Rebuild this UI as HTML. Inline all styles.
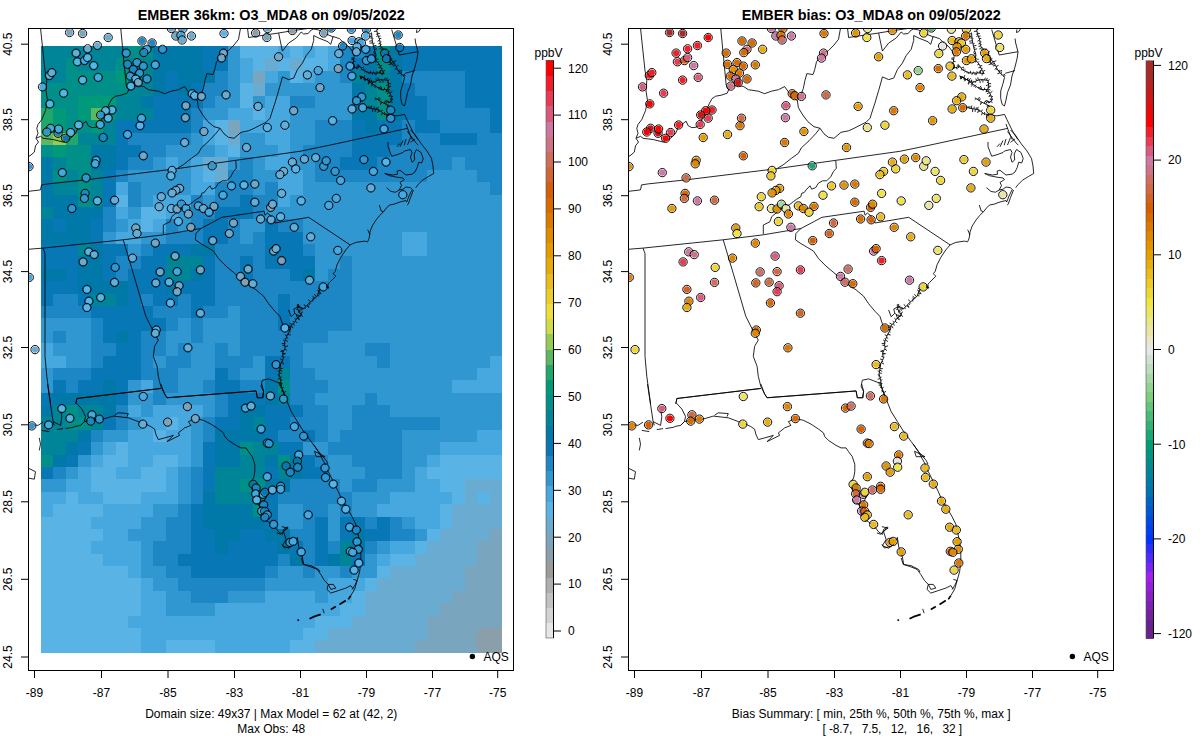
<!DOCTYPE html>
<html><head><meta charset="utf-8"><title>EMBER</title>
<style>
html,body{margin:0;padding:0;background:#fff;}
svg{display:block}
text{font-family:"Liberation Sans",sans-serif;font-size:12px;fill:#000}
.t{font-size:14.4px;font-weight:bold}
.m .k{stroke-width:1.7}
.m path,.m polyline{fill:none;stroke:#000;stroke-width:0.85;stroke-linejoin:round}
circle.r{fill:none;stroke:#000;stroke-width:0.95}
</style></head><body>
<svg width="1200" height="750" viewBox="0 0 1200 750">
<rect width="1200" height="750" fill="#fff"/>
<defs>
<clipPath id="c0"><rect x="28.5" y="28.5" width="485" height="642"/></clipPath>
<clipPath id="c1"><rect x="628.5" y="28.5" width="485" height="642"/></clipPath>
<g id="map" class="m">
<polyline points="40.5,28.0 45.0,70.6 46.8,80.6 46.0,90.7 47.5,100.7 45.5,110.7 41.8,119.5 38.0,124.5 36.8,128.3 38.0,133.3 36.0,138.3 38.5,142.0 35.5,145.8 34.3,152.1 30.0,155.8 28.0,156.3"/>
<polyline points="36.0,138.3 40.5,136.3 43.0,138.3 53.1,139.5 63.1,142.0 70.6,138.3 75.6,133.3 78.1,127.7 81.9,124.5 86.1,121.2 88.2,125.7 91.9,127.7 96.2,127.2 100.2,124.5 102.7,117.0 106.2,110.7 109.5,103.2 112.0,98.7 115.7,96.2 121.2,95.2 127.2,93.2 128.8,89.4 127.2,87.1 126.2,85.1"/>
<polyline points="120.7,28.0 126.2,85.1"/>
<polyline points="128.8,89.4 135.8,85.1 143.8,86.6 148.3,89.7 158.3,91.2 164.6,93.7 171.4,91.2 178.4,89.7 184.6,86.6 187.9,91.2 191.4,96.2 197.4,100.7"/>
<polyline points="197.4,100.7 198.4,107.7 202.9,115.2 207.9,121.7 214.0,126.7 220.0,128.3"/>
<polyline points="197.4,100.7 200.9,95.2 203.4,88.2 204.9,80.6 206.9,73.6 213.0,74.6 214.7,69.6 216.5,61.8 222.2,54.3 228.5,50.6 234.0,45.0 238.5,39.3 240.0,31.0 240.5,28.0"/>
<polyline points="220.0,128.3 216.0,133.3 209.0,140.8 201.4,147.8 198.4,153.3 191.4,158.3 183.9,164.3 177.4,168.4"/>
<polyline points="220.0,128.3 224.0,133.8 228.5,137.3 234.0,138.3 241.0,132.3 248.6,130.8 254.1,128.3 261.1,124.7 266.1,122.2 270.1,118.2 271.6,113.2 274.9,103.2 278.6,90.7 281.1,81.9 282.4,76.9 288.7,79.6 293.7,78.1 297.4,69.6 302.4,63.1 306.2,55.6 311.2,49.3 313.7,40.5 313.7,35.5 318.7,38.0 328.0,41.8"/>
<polyline points="247.5,28.0 248.6,37.5 278.6,33.0 293.7,30.5 311.2,28.0"/>
<polyline points="278.6,33.0 282.4,51.1 288.7,43.0 296.2,38.0 301.2,32.0 303.7,34.0 308.2,33.5 311.2,30.0 313.7,29.0 318.7,30.0 325.0,33.5 333.3,37.0"/>
<polyline points="28.0,191.4 40.5,189.9 41.5,184.9 48.1,183.9 85.6,179.9 177.4,168.6 236.0,160.3 299.9,151.3 328.0,145.5 407.9,128.3"/>
<polyline points="421.0,28.0 418.7,31.7 416.5,32.5 416.8,29.5"/>
<polyline points="415.0,38.5 415.7,43.0 418.0,52.0 417.2,58.0 415.0,67.0 412.0,76.0 410.5,85.0 407.5,92.5 406.0,100.0 404.5,106.0 402.2,104.5 400.7,98.5 400.7,91.0 403.0,83.5 404.5,77.5"/>
<polyline points="404.5,77.5 402.2,74.5 400.0,73.0 397.7,70.0 395.5,65.5 393.2,61.0 391.0,64.0 389.5,58.0 388.0,53.5 385.0,50.5 380.5,46.0 379.7,40.0 377.5,34.0 376.7,29.5"/>
<path d="M403.6 76.3L405.5 75.6M402.9 75.4L405.0 74.1M401.9 74.2L401.2 75.4M400.9 73.6L401.7 71.5M399.9 72.9L397.4 73.8M399.0 71.7L402.1 70.2M398.2 70.6L399.8 70.2M397.2 69.0L395.7 69.6M396.6 67.7L394.7 69.4M396.0 66.5L398.5 65.4M395.3 65.0L393.5 66.3M394.5 63.5L392.9 64.1M393.6 61.7L396.3 60.7M393.0 61.3L391.1 60.4M392.1 62.6L392.9 63.6M391.1 63.9L393.8 65.5M391.0 64.0L388.6 64.6M390.5 62.0L388.3 62.3M390.1 60.2L392.4 58.8M389.7 58.9L391.7 58.2M389.3 57.5L388.0 58.5M388.7 55.7L390.3 55.6M388.1 53.8L386.8 54.3M387.9 53.4L389.6 50.9M386.9 52.4L385.0 53.3M386.0 51.5L385.2 52.9M384.9 50.4L386.9 48.9M383.8 49.4L382.4 50.7M382.6 48.1L380.8 49.6M381.8 47.3L379.2 49.2M380.5 46.0L378.5 46.4M380.3 44.3L381.7 44.8M380.1 43.1L378.3 44.0M380.0 41.9L381.4 41.9M379.7 39.9L377.5 41.3M379.2 38.6L381.3 38.4M378.5 36.6L380.6 35.9M378.1 35.5L376.4 36.6M377.6 34.4L376.2 34.2M377.4 33.2L379.9 33.6M377.0 31.2L373.9 31.4M376.8 29.8L378.3 29.1"/>
<polyline points="391.7,29.5 399.2,55.0 418.0,51.7"/>
<polyline points="405.2,73.3 415.0,70.6"/>
<polyline points="371.5,32.5 372.2,40.0 373.7,47.5 376.0,55.0 375.2,59.5 379.0,64.0 382.0,70.0 384.2,73.7"/>
<path d="M371.6 34.0L369.7 33.7M371.9 36.1L368.8 36.9M372.0 37.9L370.3 38.1M372.1 39.0L373.4 38.5M372.4 40.7L369.1 41.3M372.8 42.8L369.5 43.2M373.1 44.0L374.6 43.2M373.4 46.0L376.4 45.4M373.8 47.8L375.2 47.7M374.4 49.6L377.1 48.8M374.9 51.4L373.2 52.4M375.3 52.8L373.6 54.1M375.7 54.0L374.1 53.9M375.9 55.8L374.3 56.1M375.6 57.6L373.6 57.3M375.4 58.6L378.6 59.4M376.0 60.4L374.7 62.2M376.8 61.3L375.2 62.2M377.9 62.6L379.1 61.4M379.1 64.2L377.3 65.0M380.0 66.0L382.2 65.6M380.7 67.4L378.3 67.8M381.3 68.5L382.6 68.4M382.0 69.9L379.5 71.2M382.8 71.3L385.1 70.4M383.6 72.7L381.9 73.3"/>
<polyline points="354.2,56.5 353.2,62.5 352.7,68.5 356.5,67.3 359.5,65.8 362.5,70.0 370.0,73.0 379.0,73.0 384.2,73.7"/>
<path d="M354.0 58.0L351.5 58.0M353.7 59.5L351.2 59.0M353.4 61.2L355.6 61.7M353.1 63.2L350.4 63.6M353.0 64.6L350.6 65.1M353.0 65.7L351.5 65.5M352.9 67.0L354.2 67.4M353.3 68.3L353.1 66.8M354.4 68.0L354.2 64.7M356.4 67.3L357.0 69.3M356.7 67.2L357.3 68.6M358.0 66.5L357.0 65.2M359.0 66.1L357.8 63.9M360.0 66.4L357.9 68.0M361.2 68.1L364.0 67.0M361.9 69.2L361.2 70.3M362.7 70.1L364.1 68.4M363.9 70.6L365.1 69.4M365.6 71.2L364.4 72.3M367.0 71.8L367.1 73.3M368.7 72.5L368.8 74.0M370.6 73.0L370.3 70.8M372.6 73.0L372.0 74.8M373.9 73.0L373.4 71.6M375.2 73.0L374.9 74.9M376.5 73.0L376.0 75.3M377.6 73.0L376.8 71.2M379.2 73.0L379.4 71.4M380.4 73.2L380.7 70.2M382.3 73.5L382.0 75.5"/>
<polyline points="359.5,76.0 365.5,79.0 373.0,82.3 380.5,79.3 388.0,80.5 388.7,85.0 387.7,89.5"/>
<path d="M360.8 76.7L360.4 78.7M362.4 77.4L361.2 79.2M363.4 78.0L364.4 76.9M364.5 78.5L364.4 80.0M366.1 79.3L365.0 80.8M367.5 79.9L368.1 78.4M369.4 80.7L368.1 83.8M371.3 81.5L371.8 79.7M372.6 82.1L371.7 84.2M374.1 81.9L373.3 80.9M375.4 81.3L375.2 82.8M376.6 80.8L375.8 78.5M378.3 80.2L377.8 77.4M379.6 79.7L380.3 83.0M381.2 79.4L381.5 80.8M382.9 79.7L382.9 82.5M384.5 79.9L385.4 77.7M386.4 80.2L387.4 77.9M388.0 80.6L389.6 79.6M388.3 82.0L386.9 82.8M388.5 83.7L391.1 83.6M388.7 84.7L385.9 85.6M388.4 86.3L391.2 86.2M388.1 87.6L389.6 87.5M387.9 88.8L390.4 90.2"/>
<polyline points="359.5,76.0 362.5,76.9 368.5,80.8 374.5,85.3 380.5,89.5 387.7,89.5 391.0,95.5 392.5,100.0 388.9,103.0 386.5,100.0"/>
<path d="M360.9 76.4L360.6 78.7M362.6 76.9L360.6 78.8M363.7 77.7L364.9 75.1M364.5 78.2L363.5 79.1M366.0 79.2L364.3 81.3M367.3 80.0L368.0 77.8M368.4 80.7L370.8 78.3M369.6 81.6L368.4 84.5M370.7 82.4L372.2 81.5M372.0 83.4L371.1 84.7M373.0 84.1L371.2 86.6M374.4 85.2L373.9 87.0M375.3 85.8L376.0 84.8M376.4 86.6L375.3 87.7M378.0 87.7L379.0 87.0M378.9 88.4L381.1 85.9M380.0 89.2L381.1 87.4M381.6 89.5L381.5 87.5M382.7 89.5L383.3 90.9M384.7 89.5L384.4 87.7M386.0 89.5L386.7 91.5M387.8 89.7L385.8 91.5M388.6 91.1L385.8 91.8M389.3 92.4L386.9 94.0M389.8 93.4L392.4 91.3M390.5 94.6L389.1 95.9M391.1 95.8L388.5 96.4M391.6 97.2L392.9 96.2M392.2 99.1L389.9 99.4M391.6 100.7L390.6 98.7M390.7 101.5L392.5 102.6M389.7 102.3L387.7 100.8M388.6 102.7L390.3 101.3M387.8 101.6L386.9 102.7M387.0 100.6L385.1 101.9"/>
<polyline points="374.8,97.7 380.5,101.5 386.5,104.5 389.8,106.0"/>
<path d="M376.1 98.6L374.7 99.9M377.3 99.4L379.6 97.0M378.2 100.0L379.2 99.1M379.5 100.8L380.2 98.3M381.2 101.9L380.4 104.8M382.4 102.5L381.3 103.5M384.0 103.2L385.8 100.5M385.7 104.1L386.7 102.1M387.3 104.9L387.2 106.7M388.6 105.4L387.6 106.6"/>
<polyline points="365.8,106.7 370.0,108.4 374.5,109.0 379.0,109.9 383.5,113.5 389.5,115.0"/>
<path d="M367.2 107.3L366.0 108.4M368.7 107.9L369.1 105.8M369.7 108.3L370.4 106.5M371.4 108.6L371.8 105.5M372.7 108.8L372.6 112.1M373.8 108.9L374.4 106.7M375.1 109.1L375.2 111.9M376.2 109.3L376.4 107.4M377.4 109.6L378.3 106.8M378.6 109.8L377.7 113.0M379.7 110.5L379.0 112.0M381.3 111.7L382.4 109.6M382.5 112.7L381.4 115.2M383.6 113.5L384.8 112.1M384.7 113.8L384.2 115.1M386.6 114.3L386.7 117.2M388.0 114.6L388.3 116.3M389.0 114.9L388.2 117.4"/>
<polyline points="389.5,115.0 397.0,115.9 404.5,114.4 406.9,119.5 410.5,127.0 413.5,133.0 418.0,139.7"/>
<polyline points="406.0,124.0 408.2,130.0 410.5,136.0 412.3,139.7"/>
<polyline points="410.5,130.0 415.0,134.5 421.0,143.5 427.0,151.0 431.5,158.5 433.0,166.0 433.7,173.5 428.5,176.5 422.5,180.2 418.0,184.7 415.7,187.7"/>
<polyline points="407.5,131.5 412.0,137.5 416.5,143.5 418.3,145.0"/>
<polyline points="413.5,190.0 410.5,197.5 408.2,204.2 407.2,205.0"/>
<polyline points="412.0,190.0 409.0,196.0 406.7,202.0 406.0,200.5 400.0,202.0 394.0,204.2 389.5,205.0 386.5,208.0 383.5,211.7 379.7,215.5 376.0,220.0 372.2,226.0 370.0,232.0 369.2,238.0 367.7,241.7"/>
<polyline points="379.3,205.0 381.2,211.0 383.5,211.7"/>
<polyline points="367.7,229.7 370.0,235.0"/>
<polyline points="388.0,142.0 388.0,146.5 390.2,152.5 391.7,156.2 397.0,154.7 403.0,152.5 404.5,151.0 410.5,149.5 412.0,152.5 410.5,157.0 412.0,162.2 414.7,160.0 414.2,154.0 416.5,149.5 421.0,152.5 423.2,158.5 421.7,163.0 418.7,162.2 417.2,167.5 415.0,172.0 412.0,174.2 406.0,175.0 403.0,172.7 400.0,170.2 397.0,171.2 397.7,174.2 392.5,175.0 384.7,173.5 389.5,175.7 397.0,177.2 403.0,178.0 404.5,179.5 400.0,182.5 401.5,185.5 399.2,190.0 395.5,192.2 391.0,191.5 386.5,187.7"/>
<polyline points="397.0,146.8 400.0,143.5"/>
<polyline points="400.0,146.8 403.0,140.5"/>
<polyline points="404.2,145.3 406.0,139.0"/>
<polyline points="407.5,145.0 410.5,137.5"/>
<polyline points="410.5,142.3 415.0,139.0"/>
<polyline points="399.2,190.0 403.0,189.2 406.0,187.0 410.5,187.7 412.7,190.0"/>
<polyline points="28.0,249.3 43.0,248.1 123.2,239.8 163.3,234.8 200.9,228.5 213.2,222.0 222.0,217.3 264.1,211.2 265.1,215.2 267.3,213.0 270.6,215.7 274.9,223.0 308.7,217.3"/>
<polyline points="43.0,248.1 45.0,253.6 45.0,356.4 46.8,376.4 50.6,404.0"/>
<polyline points="123.2,239.8 133.3,273.6 145.8,316.3 152.1,328.8 154.6,333.8 158.3,340.1 154.6,346.3 153.3,356.4 157.1,366.4 158.3,376.4 160.8,386.4 164.6,393.9 167.1,397.7"/>
<polyline points="167.1,397.7 256.1,390.9 257.3,397.7 262.3,397.7 263.6,391.4 261.1,386.4 262.3,380.2 268.6,378.9 278.6,382.7 281.1,383.9"/>
<polyline points="75.6,404.0 76.9,398.5 160.8,388.4"/>
<polyline points="200.9,228.5 195.9,233.5 195.4,239.8 200.9,243.6 207.2,247.3 213.5,251.1 218.5,258.6 226.0,266.1 233.5,272.4 241.0,278.7 248.6,284.9 256.1,289.9 263.6,296.2 268.6,303.7 274.9,311.2 279.9,316.3 282.4,323.8 283.6,327.5"/>
<polyline points="308.7,217.3 350.1,244.9"/>
<polyline points="350.1,244.9 355.8,242.4 364.6,241.1 367.6,241.9"/>
<polyline points="350.1,244.9 345.8,249.9 340.8,257.4 337.0,264.9 335.3,271.2 333.3,273.7 335.8,276.2 329.5,282.5 328.0,284.2 328.0,288.7"/>
<polyline points="47.5,384.0 53.1,421.6 54.3,425.4"/>
<polyline points="160.8,388.5 76.9,398.5 76.1,402.8 81.9,409.1 85.6,416.6 84.4,421.6 80.6,425.4"/>
<polyline points="160.8,384.0 164.6,394.0 167.1,397.8 256.1,391.0 257.3,397.8 263.1,397.8 263.6,391.0 261.6,384.0"/>
<polyline points="28.0,424.1 38.0,425.4 43.0,422.1"/>
<polyline points="41.8,430.4 49.3,431.6"/>
<polyline points="56.8,429.6 63.1,428.6"/>
<polyline points="65.6,428.6 74.4,427.1"/>
<polyline points="53.1,421.6 60.6,425.4 61.8,416.6 60.6,409.1"/>
<polyline points="74.4,426.6 80.6,425.4 84.4,421.6 90.7,420.3 103.2,419.1 113.2,416.1 128.3,417.8 138.3,421.6 145.8,424.1 150.8,426.6 154.6,429.1 155.8,434.1 158.3,439.6 164.6,437.9 173.4,435.4 167.1,441.6 179.6,435.4 178.4,432.9 184.6,427.9 190.9,425.4 188.4,421.6 195.9,418.6 203.4,420.3 211.0,424.1 218.5,429.1 223.5,432.9 224.7,436.6 228.5,440.4 236.0,445.4 241.0,447.9 246.0,447.9 248.6,451.7 252.3,456.7 254.8,464.2 254.8,471.7 253.6,478.0 251.1,481.7 252.3,489.3 254.8,496.8 253.6,501.8 258.6,504.3 263.6,501.8 267.3,495.5 263.6,491.8"/>
<polyline points="258.6,504.3 259.8,506.8 261.1,514.3 263.6,519.3 268.6,521.8 274.9,526.9 278.6,531.9 282.4,534.4 283.6,529.4 287.4,526.9 283.6,531.9 286.1,539.4 282.4,545.7 288.7,548.2 293.7,544.4 297.4,537.4 298.7,546.9 302.4,556.9 303.7,564.5 311.2,565.7 318.7,569.5 320.0,572.0"/>
<polyline points="114.5,415.3 118.2,412.8 128.3,413.6 127.0,416.6"/>
<polyline points="39.3,437.9 40.5,444.2 39.3,450.4"/>
<polyline points="28.0,468.0 35.5,471.7 34.3,479.2 28.0,478.0"/>
<polyline points="279.9,384.0 282.4,389.0 286.1,399.0 291.2,411.6 297.4,421.6 303.7,431.6 311.2,441.6 318.7,451.7 326.2,460.4 328.0,464.2"/>
<polyline points="314.5,451.2 325.0,456.7 316.2,456.7 314.5,451.2"/>
<polyline points="301.2,558.0 303.2,564.3 310.7,566.8 317.0,569.3 320.7,574.3 324.5,580.6 328.3,584.4 327.0,589.4 330.8,593.1 338.3,590.6 345.8,588.1 350.8,585.6 353.3,589.4"/>
<polyline points="328.3,584.4 333.3,584.4 335.8,588.1 330.8,589.4 328.3,584.4"/>
<polyline points="313.2,444.0 318.2,451.5 324.5,462.8 328.3,471.6 333.3,481.6 338.3,491.6 342.0,500.4 347.0,507.9 352.1,516.7 355.8,524.2 357.8,533.0 359.6,541.7 360.8,551.8 360.8,561.8 359.6,571.8 357.1,580.6 354.6,589.4 350.8,595.6"/>
<polyline class="k" points="350.8,595.6 348.3,599.4"/>
<polyline class="k" points="345.8,600.6 339.5,604.4"/>
<polyline class="k" points="335.8,606.4 330.8,609.4"/>
<polyline points="322.7,608.9 324.2,613.2"/>
<polyline class="k" points="320.7,614.4 313.2,616.9 309.5,618.7"/>
<polyline class="k" points="297.7,619.4 298.7,620.9"/>
<polyline points="281.9,526.7 288.2,528.0 284.4,530.5 280.6,534.2 276.9,533.0"/>
<polyline points="281.9,544.3 284.4,548.0 289.4,546.8"/>
<polyline points="353.3,579.3 357.1,580.6 354.6,585.6 352.1,589.4"/>
<polyline points="328.0,41.8 330.7,44.3 333.2,36.5 339.5,38.7 343.9,43.0 348.9,46.8 352.7,51.8 354.2,56.4"/>
<polyline points="327.9,288.7 326.7,285.6 318.9,290.8 317.2,296.0 313.7,299.5 310.3,302.1 306.8,305.5 303.3,309.0 300.7,307.3 297.3,307.3 299.0,312.5 301.6,315.1 297.3,317.7 294.7,322.0 291.2,325.5 290.3,329.8 287.7,334.1 286.0,338.5 284.3,342.8 285.1,348.0 282.5,353.2 283.4,358.4 280.8,363.6 279.9,368.8 279.1,374.0 280.8,380.9 281.7,387.9 284.3,394.8 286.0,400.0"/>
<path d="M327.4 287.3L329.1 287.5M326.9 286.0L324.0 287.8M326.0 286.1L326.7 288.0M324.8 286.9L325.5 288.0M323.1 288.0L322.4 286.5M322.2 288.6L320.6 287.1M321.3 289.2L321.2 287.8M320.2 290.0L318.1 287.9M319.1 290.7L320.8 293.6M318.9 290.9L317.2 290.0M318.3 292.7L321.3 293.9M318.0 293.7L319.6 294.2M317.3 295.6L319.4 295.9M316.4 296.8L314.4 294.2M315.1 298.1L312.6 296.3M314.1 299.1L312.9 297.6M313.2 299.8L311.9 298.8M312.3 300.5L313.0 301.6M310.7 301.8L308.2 299.7M309.8 302.5L310.8 303.5M308.7 303.6L310.0 304.7M307.5 304.8L309.1 307.2M306.7 305.7L309.1 307.6M305.6 306.7L304.0 304.3M304.7 307.6L305.4 309.1M303.7 308.6L301.7 307.7M302.7 308.6L300.9 310.9M301.8 308.0L300.1 309.5M300.0 307.3L300.3 308.6M298.7 307.3L298.6 303.9M297.3 307.3L297.4 304.2M297.4 307.6L300.3 306.0M297.9 309.2L296.3 309.5M298.3 310.4L300.0 310.0M298.7 311.6L299.8 311.0M299.2 312.7L300.2 311.0M300.4 313.9L300.9 312.5M301.5 315.0L299.2 316.4M301.4 315.2L302.8 316.8M299.7 316.2L298.6 314.7M298.4 317.0L299.3 320.1M297.3 317.6L296.3 315.0M297.0 318.0L298.6 319.6M296.0 319.7L294.4 318.1M295.2 321.1L297.1 323.0M294.2 322.5L292.7 321.1M293.2 323.4L294.4 325.6M292.1 324.5L289.5 323.0M291.3 325.4L293.1 328.2M291.0 326.4L287.9 325.6M290.7 328.1L287.8 327.0M290.4 329.4L288.3 329.5M289.9 330.5L288.6 329.5M289.2 331.7L290.6 332.1M288.1 333.4L289.2 334.2M287.6 334.4L290.7 335.0M287.0 335.9L284.7 334.7M286.4 337.4L288.3 338.5M285.8 338.8L284.6 338.6M285.4 340.0L287.9 341.5M284.9 341.2L283.1 339.8M284.3 342.6L285.7 343.0M284.4 343.7L281.7 343.4M284.7 345.5L282.3 345.2M285.0 346.9L288.1 345.8M284.7 348.9L287.0 350.6M283.7 350.8L281.4 350.4M283.2 351.9L280.3 351.2M282.6 353.1L285.4 353.9M282.7 354.4L285.6 353.4M283.1 356.4L281.4 356.3M283.3 357.8L284.5 357.1M282.8 359.7L280.1 359.0M281.9 361.3L283.2 362.0M281.3 362.6L284.0 364.1M280.6 364.5L279.1 365.0M280.4 365.9L277.6 365.1M280.1 367.5L278.1 367.6M279.9 368.8L282.8 368.5M279.7 370.1L282.2 371.3M279.4 371.8L277.7 370.7M279.2 373.0L281.8 373.3M279.3 374.9L277.7 374.9M279.6 376.0L278.3 376.0M279.9 377.4L281.6 377.1M280.2 378.6L277.7 379.2M280.7 380.6L282.3 379.6M281.0 382.2L277.9 383.1M281.1 383.6L282.4 383.6M281.3 385.0L278.7 385.2M281.5 386.8L279.9 387.6M281.8 388.3L283.7 387.2M282.5 390.1L281.4 390.6M282.9 391.2L281.5 392.0M283.5 392.8L286.1 391.3M284.0 394.1L283.0 395.2M284.6 395.8L283.6 396.7M285.1 397.3L282.4 398.1M285.5 398.4L286.8 397.1"/>
<polyline points="288.6,309.9 291.2,316.8 294.7,313.3 293.8,309.0 297.3,307.3"/>
<polyline points="294.7,313.3 299.9,316.8 302.5,311.6"/>
<polyline points="235.8,160.8 236.3,168.3 233.3,171.7 230.8,176.7 226.7,180.8 222.5,180.8 218.3,183.3 215.8,187.5 211.7,189.2 210.0,185.8 206.7,189.2 204.2,192.5 201.7,193.3 200.8,196.7 196.7,199.2 193.3,201.7 189.2,205.0 185.0,206.3 181.7,208.3 177.5,211.7 171.7,216.7 170.0,221.7 165.0,224.2 163.3,225.0 163.3,234.2"/>
</g>
</defs>
<text class="t" x="271.25" y="20" text-anchor="middle">EMBER 36km: O3_MDA8 on 09/05/2022</text>
<text class="t" x="871.25" y="20" text-anchor="middle">EMBER bias: O3_MDA8 on 09/05/2022</text>
<g shape-rendering="crispEdges">
<rect x="41.00" y="46.00" width="87.52" height="12.68" fill="#008498"/>
<rect x="128.22" y="46.00" width="25.22" height="12.68" fill="#008f89"/>
<rect x="153.14" y="46.00" width="50.14" height="12.68" fill="#0079a8"/>
<rect x="202.97" y="46.00" width="25.22" height="12.68" fill="#0777b6"/>
<rect x="227.89" y="46.00" width="12.76" height="12.68" fill="#3197d1"/>
<rect x="240.35" y="46.00" width="37.68" height="12.68" fill="#5ab3e5"/>
<rect x="277.73" y="46.00" width="12.76" height="12.68" fill="#46a8df"/>
<rect x="290.19" y="46.00" width="12.76" height="12.68" fill="#5ab3e5"/>
<rect x="302.65" y="46.00" width="12.76" height="12.68" fill="#46a8df"/>
<rect x="315.11" y="46.00" width="12.76" height="12.68" fill="#5ab3e5"/>
<rect x="327.57" y="46.00" width="12.76" height="12.68" fill="#46a8df"/>
<rect x="340.03" y="46.00" width="25.22" height="12.68" fill="#1c87c4"/>
<rect x="364.95" y="46.00" width="12.76" height="12.68" fill="#0777b6"/>
<rect x="377.41" y="46.00" width="12.76" height="12.68" fill="#008f89"/>
<rect x="389.86" y="46.00" width="12.76" height="12.68" fill="#0079a8"/>
<rect x="402.32" y="46.00" width="99.98" height="12.68" fill="#0777b6"/>
<rect x="41.00" y="58.38" width="25.22" height="12.68" fill="#008498"/>
<rect x="65.92" y="58.38" width="12.76" height="12.68" fill="#008f89"/>
<rect x="78.38" y="58.38" width="37.68" height="12.68" fill="#008498"/>
<rect x="115.76" y="58.38" width="12.76" height="12.68" fill="#008f89"/>
<rect x="128.22" y="58.38" width="25.22" height="12.68" fill="#008498"/>
<rect x="153.14" y="58.38" width="50.14" height="12.68" fill="#0079a8"/>
<rect x="202.97" y="58.38" width="25.22" height="12.68" fill="#0777b6"/>
<rect x="227.89" y="58.38" width="12.76" height="12.68" fill="#3197d1"/>
<rect x="240.35" y="58.38" width="12.76" height="12.68" fill="#46a8df"/>
<rect x="252.81" y="58.38" width="12.76" height="12.68" fill="#5ab3e5"/>
<rect x="265.27" y="58.38" width="12.76" height="12.68" fill="#6aacd1"/>
<rect x="277.73" y="58.38" width="12.76" height="12.68" fill="#5ab3e5"/>
<rect x="290.19" y="58.38" width="12.76" height="12.68" fill="#6aacd1"/>
<rect x="302.65" y="58.38" width="25.22" height="12.68" fill="#5ab3e5"/>
<rect x="327.57" y="58.38" width="12.76" height="12.68" fill="#46a8df"/>
<rect x="340.03" y="58.38" width="12.76" height="12.68" fill="#1c87c4"/>
<rect x="352.49" y="58.38" width="12.76" height="12.68" fill="#0777b6"/>
<rect x="364.95" y="58.38" width="12.76" height="12.68" fill="#0079a8"/>
<rect x="377.41" y="58.38" width="12.76" height="12.68" fill="#008f89"/>
<rect x="389.86" y="58.38" width="12.76" height="12.68" fill="#0079a8"/>
<rect x="402.32" y="58.38" width="99.98" height="12.68" fill="#0777b6"/>
<rect x="41.00" y="70.76" width="25.22" height="12.68" fill="#008498"/>
<rect x="65.92" y="70.76" width="50.14" height="12.68" fill="#008f89"/>
<rect x="115.76" y="70.76" width="12.76" height="12.68" fill="#00997a"/>
<rect x="128.22" y="70.76" width="25.22" height="12.68" fill="#008498"/>
<rect x="153.14" y="70.76" width="12.76" height="12.68" fill="#0079a8"/>
<rect x="165.59" y="70.76" width="12.76" height="12.68" fill="#0777b6"/>
<rect x="178.05" y="70.76" width="37.68" height="12.68" fill="#0079a8"/>
<rect x="215.43" y="70.76" width="12.76" height="12.68" fill="#1c87c4"/>
<rect x="227.89" y="70.76" width="12.76" height="12.68" fill="#3197d1"/>
<rect x="240.35" y="70.76" width="12.76" height="12.68" fill="#46a8df"/>
<rect x="252.81" y="70.76" width="12.76" height="12.68" fill="#7aa5be"/>
<rect x="265.27" y="70.76" width="12.76" height="12.68" fill="#46a8df"/>
<rect x="277.73" y="70.76" width="12.76" height="12.68" fill="#3197d1"/>
<rect x="290.19" y="70.76" width="12.76" height="12.68" fill="#5ab3e5"/>
<rect x="302.65" y="70.76" width="12.76" height="12.68" fill="#46a8df"/>
<rect x="315.11" y="70.76" width="25.22" height="12.68" fill="#3197d1"/>
<rect x="340.03" y="70.76" width="12.76" height="12.68" fill="#1c87c4"/>
<rect x="352.49" y="70.76" width="12.76" height="12.68" fill="#008498"/>
<rect x="364.95" y="70.76" width="12.76" height="12.68" fill="#0079a8"/>
<rect x="377.41" y="70.76" width="12.76" height="12.68" fill="#008498"/>
<rect x="389.86" y="70.76" width="12.76" height="12.68" fill="#0079a8"/>
<rect x="402.32" y="70.76" width="62.60" height="12.68" fill="#1c87c4"/>
<rect x="464.62" y="70.76" width="37.68" height="12.68" fill="#0777b6"/>
<rect x="41.00" y="83.14" width="87.52" height="12.68" fill="#008f89"/>
<rect x="128.22" y="83.14" width="25.22" height="12.68" fill="#008498"/>
<rect x="153.14" y="83.14" width="12.76" height="12.68" fill="#0079a8"/>
<rect x="165.59" y="83.14" width="12.76" height="12.68" fill="#0777b6"/>
<rect x="178.05" y="83.14" width="12.76" height="12.68" fill="#0079a8"/>
<rect x="190.51" y="83.14" width="12.76" height="12.68" fill="#0777b6"/>
<rect x="202.97" y="83.14" width="25.22" height="12.68" fill="#1c87c4"/>
<rect x="227.89" y="83.14" width="12.76" height="12.68" fill="#3197d1"/>
<rect x="240.35" y="83.14" width="12.76" height="12.68" fill="#5ab3e5"/>
<rect x="252.81" y="83.14" width="12.76" height="12.68" fill="#6aacd1"/>
<rect x="265.27" y="83.14" width="87.52" height="12.68" fill="#3197d1"/>
<rect x="352.49" y="83.14" width="12.76" height="12.68" fill="#0079a8"/>
<rect x="364.95" y="83.14" width="12.76" height="12.68" fill="#008498"/>
<rect x="377.41" y="83.14" width="12.76" height="12.68" fill="#008f89"/>
<rect x="389.86" y="83.14" width="12.76" height="12.68" fill="#0079a8"/>
<rect x="402.32" y="83.14" width="12.76" height="12.68" fill="#0777b6"/>
<rect x="414.78" y="83.14" width="50.14" height="12.68" fill="#1c87c4"/>
<rect x="464.62" y="83.14" width="37.68" height="12.68" fill="#0777b6"/>
<rect x="41.00" y="95.53" width="37.68" height="12.68" fill="#008f89"/>
<rect x="78.38" y="95.53" width="37.68" height="12.68" fill="#00997a"/>
<rect x="115.76" y="95.53" width="25.22" height="12.68" fill="#008498"/>
<rect x="140.68" y="95.53" width="12.76" height="12.68" fill="#0079a8"/>
<rect x="153.14" y="95.53" width="50.14" height="12.68" fill="#0777b6"/>
<rect x="202.97" y="95.53" width="12.76" height="12.68" fill="#1c87c4"/>
<rect x="215.43" y="95.53" width="25.22" height="12.68" fill="#3197d1"/>
<rect x="240.35" y="95.53" width="12.76" height="12.68" fill="#5ab3e5"/>
<rect x="252.81" y="95.53" width="12.76" height="12.68" fill="#3197d1"/>
<rect x="265.27" y="95.53" width="25.22" height="12.68" fill="#46a8df"/>
<rect x="290.19" y="95.53" width="25.22" height="12.68" fill="#1c87c4"/>
<rect x="315.11" y="95.53" width="37.68" height="12.68" fill="#3197d1"/>
<rect x="352.49" y="95.53" width="12.76" height="12.68" fill="#0079a8"/>
<rect x="364.95" y="95.53" width="12.76" height="12.68" fill="#008498"/>
<rect x="377.41" y="95.53" width="12.76" height="12.68" fill="#008f89"/>
<rect x="389.86" y="95.53" width="12.76" height="12.68" fill="#0079a8"/>
<rect x="402.32" y="95.53" width="25.22" height="12.68" fill="#0777b6"/>
<rect x="427.24" y="95.53" width="37.68" height="12.68" fill="#1c87c4"/>
<rect x="464.62" y="95.53" width="37.68" height="12.68" fill="#0777b6"/>
<rect x="41.00" y="107.91" width="12.76" height="12.68" fill="#20a76c"/>
<rect x="53.46" y="107.91" width="12.76" height="12.68" fill="#00997a"/>
<rect x="65.92" y="107.91" width="12.76" height="12.68" fill="#008f89"/>
<rect x="78.38" y="107.91" width="12.76" height="12.68" fill="#00997a"/>
<rect x="90.84" y="107.91" width="12.76" height="12.68" fill="#5bb860"/>
<rect x="103.30" y="107.91" width="12.76" height="12.68" fill="#008f89"/>
<rect x="115.76" y="107.91" width="37.68" height="12.68" fill="#008498"/>
<rect x="153.14" y="107.91" width="37.68" height="12.68" fill="#0777b6"/>
<rect x="190.51" y="107.91" width="12.76" height="12.68" fill="#1c87c4"/>
<rect x="202.97" y="107.91" width="25.22" height="12.68" fill="#3197d1"/>
<rect x="227.89" y="107.91" width="25.22" height="12.68" fill="#46a8df"/>
<rect x="252.81" y="107.91" width="12.76" height="12.68" fill="#5ab3e5"/>
<rect x="265.27" y="107.91" width="25.22" height="12.68" fill="#46a8df"/>
<rect x="290.19" y="107.91" width="62.60" height="12.68" fill="#3197d1"/>
<rect x="352.49" y="107.91" width="25.22" height="12.68" fill="#0079a8"/>
<rect x="377.41" y="107.91" width="12.76" height="12.68" fill="#008f89"/>
<rect x="389.86" y="107.91" width="12.76" height="12.68" fill="#0079a8"/>
<rect x="402.32" y="107.91" width="25.22" height="12.68" fill="#0777b6"/>
<rect x="427.24" y="107.91" width="62.60" height="12.68" fill="#1c87c4"/>
<rect x="489.54" y="107.91" width="12.76" height="12.68" fill="#0777b6"/>
<rect x="41.00" y="120.29" width="12.76" height="12.68" fill="#20a76c"/>
<rect x="53.46" y="120.29" width="12.76" height="12.68" fill="#00997a"/>
<rect x="65.92" y="120.29" width="25.22" height="12.68" fill="#008f89"/>
<rect x="90.84" y="120.29" width="12.76" height="12.68" fill="#00997a"/>
<rect x="103.30" y="120.29" width="12.76" height="12.68" fill="#008498"/>
<rect x="115.76" y="120.29" width="75.06" height="12.68" fill="#0777b6"/>
<rect x="190.51" y="120.29" width="12.76" height="12.68" fill="#1c87c4"/>
<rect x="202.97" y="120.29" width="12.76" height="12.68" fill="#46a8df"/>
<rect x="215.43" y="120.29" width="12.76" height="12.68" fill="#5ab3e5"/>
<rect x="227.89" y="120.29" width="12.76" height="12.68" fill="#7aa5be"/>
<rect x="240.35" y="120.29" width="50.14" height="12.68" fill="#46a8df"/>
<rect x="290.19" y="120.29" width="25.22" height="12.68" fill="#3197d1"/>
<rect x="315.11" y="120.29" width="37.68" height="12.68" fill="#1c87c4"/>
<rect x="352.49" y="120.29" width="12.76" height="12.68" fill="#0777b6"/>
<rect x="364.95" y="120.29" width="12.76" height="12.68" fill="#0079a8"/>
<rect x="377.41" y="120.29" width="25.22" height="12.68" fill="#0777b6"/>
<rect x="402.32" y="120.29" width="12.76" height="12.68" fill="#1c87c4"/>
<rect x="414.78" y="120.29" width="25.22" height="12.68" fill="#0777b6"/>
<rect x="439.70" y="120.29" width="50.14" height="12.68" fill="#1c87c4"/>
<rect x="489.54" y="120.29" width="12.76" height="12.68" fill="#0777b6"/>
<rect x="41.00" y="132.67" width="12.76" height="12.68" fill="#5bb860"/>
<rect x="53.46" y="132.67" width="12.76" height="12.68" fill="#95ca55"/>
<rect x="65.92" y="132.67" width="12.76" height="12.68" fill="#20a76c"/>
<rect x="78.38" y="132.67" width="37.68" height="12.68" fill="#008498"/>
<rect x="115.76" y="132.67" width="12.76" height="12.68" fill="#0777b6"/>
<rect x="128.22" y="132.67" width="62.60" height="12.68" fill="#1c87c4"/>
<rect x="190.51" y="132.67" width="12.76" height="12.68" fill="#3197d1"/>
<rect x="202.97" y="132.67" width="12.76" height="12.68" fill="#46a8df"/>
<rect x="215.43" y="132.67" width="12.76" height="12.68" fill="#5ab3e5"/>
<rect x="227.89" y="132.67" width="12.76" height="12.68" fill="#6aacd1"/>
<rect x="240.35" y="132.67" width="25.22" height="12.68" fill="#3197d1"/>
<rect x="265.27" y="132.67" width="25.22" height="12.68" fill="#46a8df"/>
<rect x="290.19" y="132.67" width="25.22" height="12.68" fill="#3197d1"/>
<rect x="315.11" y="132.67" width="37.68" height="12.68" fill="#1c87c4"/>
<rect x="352.49" y="132.67" width="50.14" height="12.68" fill="#0777b6"/>
<rect x="402.32" y="132.67" width="37.68" height="12.68" fill="#1c87c4"/>
<rect x="439.70" y="132.67" width="37.68" height="12.68" fill="#0777b6"/>
<rect x="477.08" y="132.67" width="25.22" height="12.68" fill="#1c87c4"/>
<rect x="41.00" y="145.05" width="12.76" height="12.68" fill="#008f89"/>
<rect x="53.46" y="145.05" width="12.76" height="12.68" fill="#00997a"/>
<rect x="65.92" y="145.05" width="25.22" height="12.68" fill="#008f89"/>
<rect x="90.84" y="145.05" width="25.22" height="12.68" fill="#0079a8"/>
<rect x="115.76" y="145.05" width="25.22" height="12.68" fill="#0777b6"/>
<rect x="140.68" y="145.05" width="25.22" height="12.68" fill="#1c87c4"/>
<rect x="165.59" y="145.05" width="50.14" height="12.68" fill="#3197d1"/>
<rect x="215.43" y="145.05" width="12.76" height="12.68" fill="#46a8df"/>
<rect x="227.89" y="145.05" width="12.76" height="12.68" fill="#5ab3e5"/>
<rect x="240.35" y="145.05" width="37.68" height="12.68" fill="#3197d1"/>
<rect x="277.73" y="145.05" width="12.76" height="12.68" fill="#46a8df"/>
<rect x="290.19" y="145.05" width="12.76" height="12.68" fill="#3197d1"/>
<rect x="302.65" y="145.05" width="50.14" height="12.68" fill="#1c87c4"/>
<rect x="352.49" y="145.05" width="37.68" height="12.68" fill="#0777b6"/>
<rect x="389.86" y="145.05" width="112.44" height="12.68" fill="#1c87c4"/>
<rect x="41.00" y="157.43" width="12.76" height="12.68" fill="#0079a8"/>
<rect x="53.46" y="157.43" width="12.76" height="12.68" fill="#008498"/>
<rect x="65.92" y="157.43" width="25.22" height="12.68" fill="#008f89"/>
<rect x="90.84" y="157.43" width="25.22" height="12.68" fill="#0079a8"/>
<rect x="115.76" y="157.43" width="12.76" height="12.68" fill="#0777b6"/>
<rect x="128.22" y="157.43" width="25.22" height="12.68" fill="#1c87c4"/>
<rect x="153.14" y="157.43" width="12.76" height="12.68" fill="#3197d1"/>
<rect x="165.59" y="157.43" width="12.76" height="12.68" fill="#46a8df"/>
<rect x="178.05" y="157.43" width="12.76" height="12.68" fill="#3197d1"/>
<rect x="190.51" y="157.43" width="12.76" height="12.68" fill="#46a8df"/>
<rect x="202.97" y="157.43" width="25.22" height="12.68" fill="#6aacd1"/>
<rect x="227.89" y="157.43" width="12.76" height="12.68" fill="#3197d1"/>
<rect x="240.35" y="157.43" width="12.76" height="12.68" fill="#1c87c4"/>
<rect x="252.81" y="157.43" width="12.76" height="12.68" fill="#3197d1"/>
<rect x="265.27" y="157.43" width="25.22" height="12.68" fill="#46a8df"/>
<rect x="290.19" y="157.43" width="25.22" height="12.68" fill="#3197d1"/>
<rect x="315.11" y="157.43" width="25.22" height="12.68" fill="#1c87c4"/>
<rect x="340.03" y="157.43" width="37.68" height="12.68" fill="#0777b6"/>
<rect x="377.41" y="157.43" width="75.06" height="12.68" fill="#1c87c4"/>
<rect x="452.16" y="157.43" width="12.76" height="12.68" fill="#3197d1"/>
<rect x="464.62" y="157.43" width="37.68" height="12.68" fill="#1c87c4"/>
<rect x="41.00" y="169.82" width="12.76" height="12.68" fill="#0079a8"/>
<rect x="53.46" y="169.82" width="12.76" height="12.68" fill="#008f89"/>
<rect x="65.92" y="169.82" width="12.76" height="12.68" fill="#008498"/>
<rect x="78.38" y="169.82" width="12.76" height="12.68" fill="#008f89"/>
<rect x="90.84" y="169.82" width="12.76" height="12.68" fill="#008498"/>
<rect x="103.30" y="169.82" width="12.76" height="12.68" fill="#0777b6"/>
<rect x="115.76" y="169.82" width="12.76" height="12.68" fill="#1c87c4"/>
<rect x="128.22" y="169.82" width="62.60" height="12.68" fill="#3197d1"/>
<rect x="190.51" y="169.82" width="12.76" height="12.68" fill="#46a8df"/>
<rect x="202.97" y="169.82" width="12.76" height="12.68" fill="#5ab3e5"/>
<rect x="215.43" y="169.82" width="12.76" height="12.68" fill="#6aacd1"/>
<rect x="227.89" y="169.82" width="25.22" height="12.68" fill="#1c87c4"/>
<rect x="252.81" y="169.82" width="25.22" height="12.68" fill="#3197d1"/>
<rect x="277.73" y="169.82" width="25.22" height="12.68" fill="#46a8df"/>
<rect x="302.65" y="169.82" width="12.76" height="12.68" fill="#3197d1"/>
<rect x="315.11" y="169.82" width="112.44" height="12.68" fill="#1c87c4"/>
<rect x="427.24" y="169.82" width="50.14" height="12.68" fill="#3197d1"/>
<rect x="477.08" y="169.82" width="25.22" height="12.68" fill="#1c87c4"/>
<rect x="41.00" y="182.20" width="12.76" height="12.68" fill="#0079a8"/>
<rect x="53.46" y="182.20" width="25.22" height="12.68" fill="#008498"/>
<rect x="78.38" y="182.20" width="12.76" height="12.68" fill="#008f89"/>
<rect x="90.84" y="182.20" width="12.76" height="12.68" fill="#008498"/>
<rect x="103.30" y="182.20" width="12.76" height="12.68" fill="#0777b6"/>
<rect x="115.76" y="182.20" width="12.76" height="12.68" fill="#46a8df"/>
<rect x="128.22" y="182.20" width="12.76" height="12.68" fill="#1c87c4"/>
<rect x="140.68" y="182.20" width="50.14" height="12.68" fill="#3197d1"/>
<rect x="190.51" y="182.20" width="25.22" height="12.68" fill="#46a8df"/>
<rect x="215.43" y="182.20" width="37.68" height="12.68" fill="#1c87c4"/>
<rect x="252.81" y="182.20" width="12.76" height="12.68" fill="#3197d1"/>
<rect x="265.27" y="182.20" width="12.76" height="12.68" fill="#1c87c4"/>
<rect x="277.73" y="182.20" width="25.22" height="12.68" fill="#46a8df"/>
<rect x="302.65" y="182.20" width="187.19" height="12.68" fill="#3197d1"/>
<rect x="489.54" y="182.20" width="12.76" height="12.68" fill="#1c87c4"/>
<rect x="41.00" y="194.58" width="37.68" height="12.68" fill="#0079a8"/>
<rect x="78.38" y="194.58" width="12.76" height="12.68" fill="#008f89"/>
<rect x="90.84" y="194.58" width="12.76" height="12.68" fill="#008498"/>
<rect x="103.30" y="194.58" width="12.76" height="12.68" fill="#0777b6"/>
<rect x="115.76" y="194.58" width="12.76" height="12.68" fill="#5ab3e5"/>
<rect x="128.22" y="194.58" width="12.76" height="12.68" fill="#1c87c4"/>
<rect x="140.68" y="194.58" width="12.76" height="12.68" fill="#3197d1"/>
<rect x="153.14" y="194.58" width="37.68" height="12.68" fill="#46a8df"/>
<rect x="190.51" y="194.58" width="12.76" height="12.68" fill="#1c87c4"/>
<rect x="202.97" y="194.58" width="12.76" height="12.68" fill="#3197d1"/>
<rect x="215.43" y="194.58" width="25.22" height="12.68" fill="#1c87c4"/>
<rect x="240.35" y="194.58" width="12.76" height="12.68" fill="#0777b6"/>
<rect x="252.81" y="194.58" width="25.22" height="12.68" fill="#1c87c4"/>
<rect x="277.73" y="194.58" width="12.76" height="12.68" fill="#46a8df"/>
<rect x="290.19" y="194.58" width="212.11" height="12.68" fill="#3197d1"/>
<rect x="41.00" y="206.96" width="12.76" height="12.68" fill="#008498"/>
<rect x="53.46" y="206.96" width="50.14" height="12.68" fill="#0079a8"/>
<rect x="103.30" y="206.96" width="12.76" height="12.68" fill="#1c87c4"/>
<rect x="115.76" y="206.96" width="12.76" height="12.68" fill="#46a8df"/>
<rect x="128.22" y="206.96" width="12.76" height="12.68" fill="#3197d1"/>
<rect x="140.68" y="206.96" width="25.22" height="12.68" fill="#5ab3e5"/>
<rect x="165.59" y="206.96" width="12.76" height="12.68" fill="#46a8df"/>
<rect x="178.05" y="206.96" width="12.76" height="12.68" fill="#3197d1"/>
<rect x="190.51" y="206.96" width="25.22" height="12.68" fill="#1c87c4"/>
<rect x="215.43" y="206.96" width="37.68" height="12.68" fill="#0777b6"/>
<rect x="252.81" y="206.96" width="12.76" height="12.68" fill="#1c87c4"/>
<rect x="265.27" y="206.96" width="237.03" height="12.68" fill="#3197d1"/>
<rect x="41.00" y="219.34" width="12.76" height="12.68" fill="#0079a8"/>
<rect x="53.46" y="219.34" width="12.76" height="12.68" fill="#0777b6"/>
<rect x="65.92" y="219.34" width="25.22" height="12.68" fill="#0079a8"/>
<rect x="90.84" y="219.34" width="12.76" height="12.68" fill="#0777b6"/>
<rect x="103.30" y="219.34" width="12.76" height="12.68" fill="#1c87c4"/>
<rect x="115.76" y="219.34" width="12.76" height="12.68" fill="#3197d1"/>
<rect x="128.22" y="219.34" width="12.76" height="12.68" fill="#46a8df"/>
<rect x="140.68" y="219.34" width="12.76" height="12.68" fill="#5ab3e5"/>
<rect x="153.14" y="219.34" width="12.76" height="12.68" fill="#46a8df"/>
<rect x="165.59" y="219.34" width="12.76" height="12.68" fill="#1c87c4"/>
<rect x="178.05" y="219.34" width="12.76" height="12.68" fill="#3197d1"/>
<rect x="190.51" y="219.34" width="12.76" height="12.68" fill="#1c87c4"/>
<rect x="202.97" y="219.34" width="25.22" height="12.68" fill="#0777b6"/>
<rect x="227.89" y="219.34" width="12.76" height="12.68" fill="#1c87c4"/>
<rect x="240.35" y="219.34" width="25.22" height="12.68" fill="#3197d1"/>
<rect x="265.27" y="219.34" width="12.76" height="12.68" fill="#0777b6"/>
<rect x="277.73" y="219.34" width="25.22" height="12.68" fill="#1c87c4"/>
<rect x="302.65" y="219.34" width="199.65" height="12.68" fill="#3197d1"/>
<rect x="41.00" y="231.72" width="50.14" height="12.68" fill="#0079a8"/>
<rect x="90.84" y="231.72" width="12.76" height="12.68" fill="#0777b6"/>
<rect x="103.30" y="231.72" width="12.76" height="12.68" fill="#3197d1"/>
<rect x="115.76" y="231.72" width="25.22" height="12.68" fill="#46a8df"/>
<rect x="140.68" y="231.72" width="25.22" height="12.68" fill="#3197d1"/>
<rect x="165.59" y="231.72" width="37.68" height="12.68" fill="#1c87c4"/>
<rect x="202.97" y="231.72" width="25.22" height="12.68" fill="#0777b6"/>
<rect x="227.89" y="231.72" width="12.76" height="12.68" fill="#1c87c4"/>
<rect x="240.35" y="231.72" width="12.76" height="12.68" fill="#3197d1"/>
<rect x="252.81" y="231.72" width="12.76" height="12.68" fill="#1c87c4"/>
<rect x="265.27" y="231.72" width="37.68" height="12.68" fill="#0777b6"/>
<rect x="302.65" y="231.72" width="99.98" height="12.68" fill="#3197d1"/>
<rect x="402.32" y="231.72" width="25.22" height="12.68" fill="#46a8df"/>
<rect x="427.24" y="231.72" width="75.06" height="12.68" fill="#3197d1"/>
<rect x="41.00" y="244.11" width="37.68" height="12.68" fill="#0777b6"/>
<rect x="78.38" y="244.11" width="12.76" height="12.68" fill="#008498"/>
<rect x="90.84" y="244.11" width="12.76" height="12.68" fill="#0079a8"/>
<rect x="103.30" y="244.11" width="25.22" height="12.68" fill="#0777b6"/>
<rect x="128.22" y="244.11" width="12.76" height="12.68" fill="#3197d1"/>
<rect x="140.68" y="244.11" width="12.76" height="12.68" fill="#1c87c4"/>
<rect x="153.14" y="244.11" width="37.68" height="12.68" fill="#0777b6"/>
<rect x="190.51" y="244.11" width="25.22" height="12.68" fill="#0079a8"/>
<rect x="215.43" y="244.11" width="50.14" height="12.68" fill="#1c87c4"/>
<rect x="265.27" y="244.11" width="37.68" height="12.68" fill="#0777b6"/>
<rect x="302.65" y="244.11" width="12.76" height="12.68" fill="#1c87c4"/>
<rect x="315.11" y="244.11" width="87.52" height="12.68" fill="#3197d1"/>
<rect x="402.32" y="244.11" width="25.22" height="12.68" fill="#46a8df"/>
<rect x="427.24" y="244.11" width="75.06" height="12.68" fill="#3197d1"/>
<rect x="41.00" y="256.49" width="37.68" height="12.68" fill="#0777b6"/>
<rect x="78.38" y="256.49" width="25.22" height="12.68" fill="#0079a8"/>
<rect x="103.30" y="256.49" width="12.76" height="12.68" fill="#0777b6"/>
<rect x="115.76" y="256.49" width="25.22" height="12.68" fill="#1c87c4"/>
<rect x="140.68" y="256.49" width="25.22" height="12.68" fill="#0777b6"/>
<rect x="165.59" y="256.49" width="37.68" height="12.68" fill="#008498"/>
<rect x="202.97" y="256.49" width="12.76" height="12.68" fill="#0777b6"/>
<rect x="215.43" y="256.49" width="25.22" height="12.68" fill="#1c87c4"/>
<rect x="240.35" y="256.49" width="12.76" height="12.68" fill="#0777b6"/>
<rect x="252.81" y="256.49" width="12.76" height="12.68" fill="#1c87c4"/>
<rect x="265.27" y="256.49" width="50.14" height="12.68" fill="#0777b6"/>
<rect x="315.11" y="256.49" width="25.22" height="12.68" fill="#3197d1"/>
<rect x="340.03" y="256.49" width="12.76" height="12.68" fill="#1c87c4"/>
<rect x="352.49" y="256.49" width="149.81" height="12.68" fill="#3197d1"/>
<rect x="41.00" y="268.87" width="25.22" height="12.68" fill="#0079a8"/>
<rect x="65.92" y="268.87" width="12.76" height="12.68" fill="#0777b6"/>
<rect x="78.38" y="268.87" width="25.22" height="12.68" fill="#0079a8"/>
<rect x="103.30" y="268.87" width="12.76" height="12.68" fill="#0777b6"/>
<rect x="115.76" y="268.87" width="12.76" height="12.68" fill="#1c87c4"/>
<rect x="128.22" y="268.87" width="37.68" height="12.68" fill="#0777b6"/>
<rect x="165.59" y="268.87" width="25.22" height="12.68" fill="#008498"/>
<rect x="190.51" y="268.87" width="12.76" height="12.68" fill="#0079a8"/>
<rect x="202.97" y="268.87" width="12.76" height="12.68" fill="#0777b6"/>
<rect x="215.43" y="268.87" width="25.22" height="12.68" fill="#1c87c4"/>
<rect x="240.35" y="268.87" width="12.76" height="12.68" fill="#0777b6"/>
<rect x="252.81" y="268.87" width="37.68" height="12.68" fill="#1c87c4"/>
<rect x="290.19" y="268.87" width="12.76" height="12.68" fill="#0777b6"/>
<rect x="302.65" y="268.87" width="12.76" height="12.68" fill="#0079a8"/>
<rect x="315.11" y="268.87" width="12.76" height="12.68" fill="#3197d1"/>
<rect x="327.57" y="268.87" width="25.22" height="12.68" fill="#1c87c4"/>
<rect x="352.49" y="268.87" width="149.81" height="12.68" fill="#3197d1"/>
<rect x="41.00" y="281.25" width="37.68" height="12.68" fill="#0777b6"/>
<rect x="78.38" y="281.25" width="50.14" height="12.68" fill="#0079a8"/>
<rect x="128.22" y="281.25" width="37.68" height="12.68" fill="#0777b6"/>
<rect x="165.59" y="281.25" width="12.76" height="12.68" fill="#0079a8"/>
<rect x="178.05" y="281.25" width="37.68" height="12.68" fill="#0777b6"/>
<rect x="215.43" y="281.25" width="137.35" height="12.68" fill="#1c87c4"/>
<rect x="352.49" y="281.25" width="149.81" height="12.68" fill="#3197d1"/>
<rect x="41.00" y="293.63" width="12.76" height="12.68" fill="#0777b6"/>
<rect x="53.46" y="293.63" width="25.22" height="12.68" fill="#1c87c4"/>
<rect x="78.38" y="293.63" width="12.76" height="12.68" fill="#0777b6"/>
<rect x="90.84" y="293.63" width="25.22" height="12.68" fill="#008498"/>
<rect x="115.76" y="293.63" width="12.76" height="12.68" fill="#0079a8"/>
<rect x="128.22" y="293.63" width="12.76" height="12.68" fill="#0777b6"/>
<rect x="140.68" y="293.63" width="12.76" height="12.68" fill="#1c87c4"/>
<rect x="153.14" y="293.63" width="25.22" height="12.68" fill="#0777b6"/>
<rect x="178.05" y="293.63" width="12.76" height="12.68" fill="#1c87c4"/>
<rect x="190.51" y="293.63" width="25.22" height="12.68" fill="#0777b6"/>
<rect x="215.43" y="293.63" width="62.60" height="12.68" fill="#1c87c4"/>
<rect x="277.73" y="293.63" width="12.76" height="12.68" fill="#0777b6"/>
<rect x="290.19" y="293.63" width="62.60" height="12.68" fill="#1c87c4"/>
<rect x="352.49" y="293.63" width="149.81" height="12.68" fill="#3197d1"/>
<rect x="41.00" y="306.01" width="50.14" height="12.68" fill="#1c87c4"/>
<rect x="90.84" y="306.01" width="62.60" height="12.68" fill="#0777b6"/>
<rect x="153.14" y="306.01" width="37.68" height="12.68" fill="#1c87c4"/>
<rect x="190.51" y="306.01" width="12.76" height="12.68" fill="#0777b6"/>
<rect x="202.97" y="306.01" width="25.22" height="12.68" fill="#1c87c4"/>
<rect x="227.89" y="306.01" width="12.76" height="12.68" fill="#3197d1"/>
<rect x="240.35" y="306.01" width="37.68" height="12.68" fill="#1c87c4"/>
<rect x="277.73" y="306.01" width="12.76" height="12.68" fill="#0777b6"/>
<rect x="290.19" y="306.01" width="62.60" height="12.68" fill="#1c87c4"/>
<rect x="352.49" y="306.01" width="149.81" height="12.68" fill="#3197d1"/>
<rect x="41.00" y="318.40" width="50.14" height="12.68" fill="#3197d1"/>
<rect x="90.84" y="318.40" width="12.76" height="12.68" fill="#1c87c4"/>
<rect x="103.30" y="318.40" width="62.60" height="12.68" fill="#0777b6"/>
<rect x="165.59" y="318.40" width="12.76" height="12.68" fill="#1c87c4"/>
<rect x="178.05" y="318.40" width="12.76" height="12.68" fill="#3197d1"/>
<rect x="190.51" y="318.40" width="12.76" height="12.68" fill="#1c87c4"/>
<rect x="202.97" y="318.40" width="37.68" height="12.68" fill="#3197d1"/>
<rect x="240.35" y="318.40" width="37.68" height="12.68" fill="#1c87c4"/>
<rect x="277.73" y="318.40" width="12.76" height="12.68" fill="#0777b6"/>
<rect x="290.19" y="318.40" width="62.60" height="12.68" fill="#1c87c4"/>
<rect x="352.49" y="318.40" width="149.81" height="12.68" fill="#3197d1"/>
<rect x="41.00" y="330.78" width="12.76" height="12.68" fill="#3197d1"/>
<rect x="53.46" y="330.78" width="12.76" height="12.68" fill="#1c87c4"/>
<rect x="65.92" y="330.78" width="25.22" height="12.68" fill="#3197d1"/>
<rect x="90.84" y="330.78" width="12.76" height="12.68" fill="#1c87c4"/>
<rect x="103.30" y="330.78" width="12.76" height="12.68" fill="#0777b6"/>
<rect x="115.76" y="330.78" width="12.76" height="12.68" fill="#0079a8"/>
<rect x="128.22" y="330.78" width="12.76" height="12.68" fill="#0777b6"/>
<rect x="140.68" y="330.78" width="25.22" height="12.68" fill="#1c87c4"/>
<rect x="165.59" y="330.78" width="25.22" height="12.68" fill="#3197d1"/>
<rect x="190.51" y="330.78" width="12.76" height="12.68" fill="#1c87c4"/>
<rect x="202.97" y="330.78" width="37.68" height="12.68" fill="#3197d1"/>
<rect x="240.35" y="330.78" width="87.52" height="12.68" fill="#1c87c4"/>
<rect x="327.57" y="330.78" width="174.73" height="12.68" fill="#3197d1"/>
<rect x="41.00" y="343.16" width="12.76" height="12.68" fill="#46a8df"/>
<rect x="53.46" y="343.16" width="37.68" height="12.68" fill="#3197d1"/>
<rect x="90.84" y="343.16" width="25.22" height="12.68" fill="#1c87c4"/>
<rect x="115.76" y="343.16" width="25.22" height="12.68" fill="#0777b6"/>
<rect x="140.68" y="343.16" width="25.22" height="12.68" fill="#1c87c4"/>
<rect x="165.59" y="343.16" width="12.76" height="12.68" fill="#3197d1"/>
<rect x="178.05" y="343.16" width="12.76" height="12.68" fill="#1c87c4"/>
<rect x="190.51" y="343.16" width="25.22" height="12.68" fill="#3197d1"/>
<rect x="215.43" y="343.16" width="12.76" height="12.68" fill="#1c87c4"/>
<rect x="227.89" y="343.16" width="12.76" height="12.68" fill="#3197d1"/>
<rect x="240.35" y="343.16" width="62.60" height="12.68" fill="#1c87c4"/>
<rect x="302.65" y="343.16" width="62.60" height="12.68" fill="#3197d1"/>
<rect x="364.95" y="343.16" width="25.22" height="12.68" fill="#1c87c4"/>
<rect x="389.86" y="343.16" width="112.44" height="12.68" fill="#3197d1"/>
<rect x="41.00" y="355.54" width="25.22" height="12.68" fill="#46a8df"/>
<rect x="65.92" y="355.54" width="25.22" height="12.68" fill="#3197d1"/>
<rect x="90.84" y="355.54" width="12.76" height="12.68" fill="#1c87c4"/>
<rect x="103.30" y="355.54" width="37.68" height="12.68" fill="#0777b6"/>
<rect x="140.68" y="355.54" width="12.76" height="12.68" fill="#1c87c4"/>
<rect x="153.14" y="355.54" width="12.76" height="12.68" fill="#3197d1"/>
<rect x="165.59" y="355.54" width="25.22" height="12.68" fill="#1c87c4"/>
<rect x="190.51" y="355.54" width="25.22" height="12.68" fill="#3197d1"/>
<rect x="215.43" y="355.54" width="37.68" height="12.68" fill="#1c87c4"/>
<rect x="252.81" y="355.54" width="12.76" height="12.68" fill="#3197d1"/>
<rect x="265.27" y="355.54" width="25.22" height="12.68" fill="#0777b6"/>
<rect x="290.19" y="355.54" width="12.76" height="12.68" fill="#1c87c4"/>
<rect x="302.65" y="355.54" width="75.06" height="12.68" fill="#3197d1"/>
<rect x="377.41" y="355.54" width="12.76" height="12.68" fill="#1c87c4"/>
<rect x="389.86" y="355.54" width="99.98" height="12.68" fill="#3197d1"/>
<rect x="489.54" y="355.54" width="12.76" height="12.68" fill="#46a8df"/>
<rect x="41.00" y="367.92" width="12.76" height="12.68" fill="#3197d1"/>
<rect x="53.46" y="367.92" width="37.68" height="12.68" fill="#1c87c4"/>
<rect x="90.84" y="367.92" width="50.14" height="12.68" fill="#0777b6"/>
<rect x="140.68" y="367.92" width="37.68" height="12.68" fill="#1c87c4"/>
<rect x="178.05" y="367.92" width="37.68" height="12.68" fill="#3197d1"/>
<rect x="215.43" y="367.92" width="12.76" height="12.68" fill="#0777b6"/>
<rect x="227.89" y="367.92" width="12.76" height="12.68" fill="#1c87c4"/>
<rect x="240.35" y="367.92" width="25.22" height="12.68" fill="#3197d1"/>
<rect x="265.27" y="367.92" width="12.76" height="12.68" fill="#0777b6"/>
<rect x="277.73" y="367.92" width="12.76" height="12.68" fill="#008498"/>
<rect x="290.19" y="367.92" width="25.22" height="12.68" fill="#1c87c4"/>
<rect x="315.11" y="367.92" width="162.27" height="12.68" fill="#3197d1"/>
<rect x="477.08" y="367.92" width="25.22" height="12.68" fill="#46a8df"/>
<rect x="41.00" y="380.30" width="12.76" height="12.68" fill="#3197d1"/>
<rect x="53.46" y="380.30" width="12.76" height="12.68" fill="#0777b6"/>
<rect x="65.92" y="380.30" width="12.76" height="12.68" fill="#1c87c4"/>
<rect x="78.38" y="380.30" width="25.22" height="12.68" fill="#0777b6"/>
<rect x="103.30" y="380.30" width="12.76" height="12.68" fill="#0079a8"/>
<rect x="115.76" y="380.30" width="12.76" height="12.68" fill="#0777b6"/>
<rect x="128.22" y="380.30" width="12.76" height="12.68" fill="#3197d1"/>
<rect x="140.68" y="380.30" width="12.76" height="12.68" fill="#46a8df"/>
<rect x="153.14" y="380.30" width="25.22" height="12.68" fill="#1c87c4"/>
<rect x="178.05" y="380.30" width="25.22" height="12.68" fill="#3197d1"/>
<rect x="202.97" y="380.30" width="12.76" height="12.68" fill="#1c87c4"/>
<rect x="215.43" y="380.30" width="25.22" height="12.68" fill="#0777b6"/>
<rect x="240.35" y="380.30" width="25.22" height="12.68" fill="#1c87c4"/>
<rect x="265.27" y="380.30" width="12.76" height="12.68" fill="#0079a8"/>
<rect x="277.73" y="380.30" width="12.76" height="12.68" fill="#008f89"/>
<rect x="290.19" y="380.30" width="37.68" height="12.68" fill="#1c87c4"/>
<rect x="327.57" y="380.30" width="124.89" height="12.68" fill="#3197d1"/>
<rect x="452.16" y="380.30" width="50.14" height="12.68" fill="#46a8df"/>
<rect x="41.00" y="392.69" width="12.76" height="12.68" fill="#0777b6"/>
<rect x="53.46" y="392.69" width="62.60" height="12.68" fill="#0079a8"/>
<rect x="115.76" y="392.69" width="12.76" height="12.68" fill="#0777b6"/>
<rect x="128.22" y="392.69" width="25.22" height="12.68" fill="#3197d1"/>
<rect x="153.14" y="392.69" width="12.76" height="12.68" fill="#1c87c4"/>
<rect x="165.59" y="392.69" width="50.14" height="12.68" fill="#3197d1"/>
<rect x="215.43" y="392.69" width="12.76" height="12.68" fill="#1c87c4"/>
<rect x="227.89" y="392.69" width="37.68" height="12.68" fill="#0777b6"/>
<rect x="265.27" y="392.69" width="12.76" height="12.68" fill="#0079a8"/>
<rect x="277.73" y="392.69" width="12.76" height="12.68" fill="#008498"/>
<rect x="290.19" y="392.69" width="25.22" height="12.68" fill="#1c87c4"/>
<rect x="315.11" y="392.69" width="50.14" height="12.68" fill="#3197d1"/>
<rect x="364.95" y="392.69" width="12.76" height="12.68" fill="#1c87c4"/>
<rect x="377.41" y="392.69" width="124.89" height="12.68" fill="#3197d1"/>
<rect x="41.00" y="405.07" width="12.76" height="12.68" fill="#0079a8"/>
<rect x="53.46" y="405.07" width="12.76" height="12.68" fill="#008498"/>
<rect x="65.92" y="405.07" width="12.76" height="12.68" fill="#008f89"/>
<rect x="78.38" y="405.07" width="25.22" height="12.68" fill="#008498"/>
<rect x="103.30" y="405.07" width="12.76" height="12.68" fill="#0079a8"/>
<rect x="115.76" y="405.07" width="12.76" height="12.68" fill="#1c87c4"/>
<rect x="128.22" y="405.07" width="12.76" height="12.68" fill="#46a8df"/>
<rect x="140.68" y="405.07" width="12.76" height="12.68" fill="#3197d1"/>
<rect x="153.14" y="405.07" width="50.14" height="12.68" fill="#46a8df"/>
<rect x="202.97" y="405.07" width="12.76" height="12.68" fill="#3197d1"/>
<rect x="215.43" y="405.07" width="12.76" height="12.68" fill="#1c87c4"/>
<rect x="227.89" y="405.07" width="12.76" height="12.68" fill="#0777b6"/>
<rect x="240.35" y="405.07" width="25.22" height="12.68" fill="#0079a8"/>
<rect x="265.27" y="405.07" width="37.68" height="12.68" fill="#0777b6"/>
<rect x="302.65" y="405.07" width="25.22" height="12.68" fill="#1c87c4"/>
<rect x="327.57" y="405.07" width="25.22" height="12.68" fill="#3197d1"/>
<rect x="352.49" y="405.07" width="37.68" height="12.68" fill="#1c87c4"/>
<rect x="389.86" y="405.07" width="112.44" height="12.68" fill="#3197d1"/>
<rect x="41.00" y="417.45" width="25.22" height="12.68" fill="#008498"/>
<rect x="65.92" y="417.45" width="25.22" height="12.68" fill="#008f89"/>
<rect x="90.84" y="417.45" width="12.76" height="12.68" fill="#008498"/>
<rect x="103.30" y="417.45" width="12.76" height="12.68" fill="#0777b6"/>
<rect x="115.76" y="417.45" width="12.76" height="12.68" fill="#1c87c4"/>
<rect x="128.22" y="417.45" width="12.76" height="12.68" fill="#3197d1"/>
<rect x="140.68" y="417.45" width="25.22" height="12.68" fill="#46a8df"/>
<rect x="165.59" y="417.45" width="12.76" height="12.68" fill="#5ab3e5"/>
<rect x="178.05" y="417.45" width="12.76" height="12.68" fill="#46a8df"/>
<rect x="190.51" y="417.45" width="12.76" height="12.68" fill="#3197d1"/>
<rect x="202.97" y="417.45" width="12.76" height="12.68" fill="#1c87c4"/>
<rect x="215.43" y="417.45" width="25.22" height="12.68" fill="#0777b6"/>
<rect x="240.35" y="417.45" width="12.76" height="12.68" fill="#0079a8"/>
<rect x="252.81" y="417.45" width="12.76" height="12.68" fill="#008498"/>
<rect x="265.27" y="417.45" width="25.22" height="12.68" fill="#0777b6"/>
<rect x="290.19" y="417.45" width="37.68" height="12.68" fill="#1c87c4"/>
<rect x="327.57" y="417.45" width="25.22" height="12.68" fill="#3197d1"/>
<rect x="352.49" y="417.45" width="87.52" height="12.68" fill="#1c87c4"/>
<rect x="439.70" y="417.45" width="62.60" height="12.68" fill="#3197d1"/>
<rect x="41.00" y="429.83" width="37.68" height="12.68" fill="#008498"/>
<rect x="78.38" y="429.83" width="12.76" height="12.68" fill="#0079a8"/>
<rect x="90.84" y="429.83" width="12.76" height="12.68" fill="#1c87c4"/>
<rect x="103.30" y="429.83" width="25.22" height="12.68" fill="#3197d1"/>
<rect x="128.22" y="429.83" width="25.22" height="12.68" fill="#46a8df"/>
<rect x="153.14" y="429.83" width="12.76" height="12.68" fill="#5ab3e5"/>
<rect x="165.59" y="429.83" width="25.22" height="12.68" fill="#46a8df"/>
<rect x="190.51" y="429.83" width="12.76" height="12.68" fill="#3197d1"/>
<rect x="202.97" y="429.83" width="12.76" height="12.68" fill="#1c87c4"/>
<rect x="215.43" y="429.83" width="50.14" height="12.68" fill="#0079a8"/>
<rect x="265.27" y="429.83" width="12.76" height="12.68" fill="#0777b6"/>
<rect x="277.73" y="429.83" width="25.22" height="12.68" fill="#1c87c4"/>
<rect x="302.65" y="429.83" width="12.76" height="12.68" fill="#0777b6"/>
<rect x="315.11" y="429.83" width="12.76" height="12.68" fill="#1c87c4"/>
<rect x="327.57" y="429.83" width="12.76" height="12.68" fill="#3197d1"/>
<rect x="340.03" y="429.83" width="62.60" height="12.68" fill="#1c87c4"/>
<rect x="402.32" y="429.83" width="75.06" height="12.68" fill="#3197d1"/>
<rect x="477.08" y="429.83" width="25.22" height="12.68" fill="#46a8df"/>
<rect x="41.00" y="442.21" width="25.22" height="12.68" fill="#008498"/>
<rect x="65.92" y="442.21" width="12.76" height="12.68" fill="#0079a8"/>
<rect x="78.38" y="442.21" width="12.76" height="12.68" fill="#0777b6"/>
<rect x="90.84" y="442.21" width="12.76" height="12.68" fill="#3197d1"/>
<rect x="103.30" y="442.21" width="12.76" height="12.68" fill="#46a8df"/>
<rect x="115.76" y="442.21" width="12.76" height="12.68" fill="#5ab3e5"/>
<rect x="128.22" y="442.21" width="62.60" height="12.68" fill="#46a8df"/>
<rect x="190.51" y="442.21" width="12.76" height="12.68" fill="#3197d1"/>
<rect x="202.97" y="442.21" width="12.76" height="12.68" fill="#0777b6"/>
<rect x="215.43" y="442.21" width="25.22" height="12.68" fill="#0079a8"/>
<rect x="240.35" y="442.21" width="12.76" height="12.68" fill="#008f89"/>
<rect x="252.81" y="442.21" width="25.22" height="12.68" fill="#008498"/>
<rect x="277.73" y="442.21" width="25.22" height="12.68" fill="#0777b6"/>
<rect x="302.65" y="442.21" width="25.22" height="12.68" fill="#3197d1"/>
<rect x="327.57" y="442.21" width="75.06" height="12.68" fill="#1c87c4"/>
<rect x="402.32" y="442.21" width="37.68" height="12.68" fill="#3197d1"/>
<rect x="439.70" y="442.21" width="62.60" height="12.68" fill="#46a8df"/>
<rect x="41.00" y="454.59" width="12.76" height="12.68" fill="#008f89"/>
<rect x="53.46" y="454.59" width="12.76" height="12.68" fill="#0079a8"/>
<rect x="65.92" y="454.59" width="12.76" height="12.68" fill="#0777b6"/>
<rect x="78.38" y="454.59" width="12.76" height="12.68" fill="#3197d1"/>
<rect x="90.84" y="454.59" width="12.76" height="12.68" fill="#46a8df"/>
<rect x="103.30" y="454.59" width="25.22" height="12.68" fill="#5ab3e5"/>
<rect x="128.22" y="454.59" width="25.22" height="12.68" fill="#46a8df"/>
<rect x="153.14" y="454.59" width="25.22" height="12.68" fill="#5ab3e5"/>
<rect x="178.05" y="454.59" width="12.76" height="12.68" fill="#46a8df"/>
<rect x="190.51" y="454.59" width="12.76" height="12.68" fill="#3197d1"/>
<rect x="202.97" y="454.59" width="12.76" height="12.68" fill="#0777b6"/>
<rect x="215.43" y="454.59" width="25.22" height="12.68" fill="#0079a8"/>
<rect x="240.35" y="454.59" width="25.22" height="12.68" fill="#008498"/>
<rect x="265.27" y="454.59" width="12.76" height="12.68" fill="#0079a8"/>
<rect x="277.73" y="454.59" width="12.76" height="12.68" fill="#008f89"/>
<rect x="290.19" y="454.59" width="12.76" height="12.68" fill="#0079a8"/>
<rect x="302.65" y="454.59" width="12.76" height="12.68" fill="#0777b6"/>
<rect x="315.11" y="454.59" width="12.76" height="12.68" fill="#1c87c4"/>
<rect x="327.57" y="454.59" width="25.22" height="12.68" fill="#3197d1"/>
<rect x="352.49" y="454.59" width="50.14" height="12.68" fill="#1c87c4"/>
<rect x="402.32" y="454.59" width="25.22" height="12.68" fill="#3197d1"/>
<rect x="427.24" y="454.59" width="12.76" height="12.68" fill="#46a8df"/>
<rect x="439.70" y="454.59" width="62.60" height="12.68" fill="#5ab3e5"/>
<rect x="41.00" y="466.98" width="12.76" height="12.68" fill="#0777b6"/>
<rect x="53.46" y="466.98" width="12.76" height="12.68" fill="#1c87c4"/>
<rect x="65.92" y="466.98" width="12.76" height="12.68" fill="#3197d1"/>
<rect x="78.38" y="466.98" width="12.76" height="12.68" fill="#46a8df"/>
<rect x="90.84" y="466.98" width="25.22" height="12.68" fill="#5ab3e5"/>
<rect x="115.76" y="466.98" width="25.22" height="12.68" fill="#46a8df"/>
<rect x="140.68" y="466.98" width="25.22" height="12.68" fill="#5ab3e5"/>
<rect x="165.59" y="466.98" width="12.76" height="12.68" fill="#46a8df"/>
<rect x="178.05" y="466.98" width="12.76" height="12.68" fill="#3197d1"/>
<rect x="190.51" y="466.98" width="12.76" height="12.68" fill="#1c87c4"/>
<rect x="202.97" y="466.98" width="12.76" height="12.68" fill="#0777b6"/>
<rect x="215.43" y="466.98" width="50.14" height="12.68" fill="#008498"/>
<rect x="265.27" y="466.98" width="12.76" height="12.68" fill="#0777b6"/>
<rect x="277.73" y="466.98" width="12.76" height="12.68" fill="#008498"/>
<rect x="290.19" y="466.98" width="12.76" height="12.68" fill="#0079a8"/>
<rect x="302.65" y="466.98" width="25.22" height="12.68" fill="#0777b6"/>
<rect x="327.57" y="466.98" width="37.68" height="12.68" fill="#3197d1"/>
<rect x="364.95" y="466.98" width="37.68" height="12.68" fill="#1c87c4"/>
<rect x="402.32" y="466.98" width="12.76" height="12.68" fill="#3197d1"/>
<rect x="414.78" y="466.98" width="12.76" height="12.68" fill="#46a8df"/>
<rect x="427.24" y="466.98" width="75.06" height="12.68" fill="#5ab3e5"/>
<rect x="41.00" y="479.36" width="25.22" height="12.68" fill="#3197d1"/>
<rect x="65.92" y="479.36" width="25.22" height="12.68" fill="#46a8df"/>
<rect x="90.84" y="479.36" width="75.06" height="12.68" fill="#5ab3e5"/>
<rect x="165.59" y="479.36" width="12.76" height="12.68" fill="#46a8df"/>
<rect x="178.05" y="479.36" width="12.76" height="12.68" fill="#3197d1"/>
<rect x="190.51" y="479.36" width="12.76" height="12.68" fill="#1c87c4"/>
<rect x="202.97" y="479.36" width="12.76" height="12.68" fill="#0777b6"/>
<rect x="215.43" y="479.36" width="25.22" height="12.68" fill="#008498"/>
<rect x="240.35" y="479.36" width="25.22" height="12.68" fill="#008f89"/>
<rect x="265.27" y="479.36" width="25.22" height="12.68" fill="#0079a8"/>
<rect x="290.19" y="479.36" width="50.14" height="12.68" fill="#1c87c4"/>
<rect x="340.03" y="479.36" width="12.76" height="12.68" fill="#3197d1"/>
<rect x="352.49" y="479.36" width="25.22" height="12.68" fill="#1c87c4"/>
<rect x="377.41" y="479.36" width="37.68" height="12.68" fill="#3197d1"/>
<rect x="414.78" y="479.36" width="25.22" height="12.68" fill="#46a8df"/>
<rect x="439.70" y="479.36" width="25.22" height="12.68" fill="#5ab3e5"/>
<rect x="464.62" y="479.36" width="37.68" height="12.68" fill="#6aacd1"/>
<rect x="41.00" y="491.74" width="25.22" height="12.68" fill="#46a8df"/>
<rect x="65.92" y="491.74" width="12.76" height="12.68" fill="#5ab3e5"/>
<rect x="78.38" y="491.74" width="25.22" height="12.68" fill="#46a8df"/>
<rect x="103.30" y="491.74" width="37.68" height="12.68" fill="#5ab3e5"/>
<rect x="140.68" y="491.74" width="37.68" height="12.68" fill="#46a8df"/>
<rect x="178.05" y="491.74" width="12.76" height="12.68" fill="#3197d1"/>
<rect x="190.51" y="491.74" width="12.76" height="12.68" fill="#1c87c4"/>
<rect x="202.97" y="491.74" width="12.76" height="12.68" fill="#0079a8"/>
<rect x="215.43" y="491.74" width="50.14" height="12.68" fill="#008498"/>
<rect x="265.27" y="491.74" width="12.76" height="12.68" fill="#0777b6"/>
<rect x="277.73" y="491.74" width="75.06" height="12.68" fill="#1c87c4"/>
<rect x="352.49" y="491.74" width="37.68" height="12.68" fill="#3197d1"/>
<rect x="389.86" y="491.74" width="62.60" height="12.68" fill="#46a8df"/>
<rect x="452.16" y="491.74" width="12.76" height="12.68" fill="#5ab3e5"/>
<rect x="464.62" y="491.74" width="12.76" height="12.68" fill="#6aacd1"/>
<rect x="477.08" y="491.74" width="12.76" height="12.68" fill="#5ab3e5"/>
<rect x="489.54" y="491.74" width="12.76" height="12.68" fill="#6aacd1"/>
<rect x="41.00" y="504.12" width="12.76" height="12.68" fill="#46a8df"/>
<rect x="53.46" y="504.12" width="50.14" height="12.68" fill="#5ab3e5"/>
<rect x="103.30" y="504.12" width="50.14" height="12.68" fill="#46a8df"/>
<rect x="153.14" y="504.12" width="25.22" height="12.68" fill="#3197d1"/>
<rect x="178.05" y="504.12" width="12.76" height="12.68" fill="#1c87c4"/>
<rect x="190.51" y="504.12" width="12.76" height="12.68" fill="#0777b6"/>
<rect x="202.97" y="504.12" width="50.14" height="12.68" fill="#0079a8"/>
<rect x="252.81" y="504.12" width="12.76" height="12.68" fill="#008f89"/>
<rect x="265.27" y="504.12" width="12.76" height="12.68" fill="#0777b6"/>
<rect x="277.73" y="504.12" width="25.22" height="12.68" fill="#3197d1"/>
<rect x="302.65" y="504.12" width="25.22" height="12.68" fill="#1c87c4"/>
<rect x="327.57" y="504.12" width="12.76" height="12.68" fill="#3197d1"/>
<rect x="340.03" y="504.12" width="12.76" height="12.68" fill="#1c87c4"/>
<rect x="352.49" y="504.12" width="25.22" height="12.68" fill="#3197d1"/>
<rect x="377.41" y="504.12" width="62.60" height="12.68" fill="#46a8df"/>
<rect x="439.70" y="504.12" width="12.76" height="12.68" fill="#5ab3e5"/>
<rect x="452.16" y="504.12" width="50.14" height="12.68" fill="#6aacd1"/>
<rect x="41.00" y="516.50" width="50.14" height="12.68" fill="#5ab3e5"/>
<rect x="90.84" y="516.50" width="50.14" height="12.68" fill="#46a8df"/>
<rect x="140.68" y="516.50" width="25.22" height="12.68" fill="#3197d1"/>
<rect x="165.59" y="516.50" width="25.22" height="12.68" fill="#1c87c4"/>
<rect x="190.51" y="516.50" width="12.76" height="12.68" fill="#0777b6"/>
<rect x="202.97" y="516.50" width="62.60" height="12.68" fill="#0079a8"/>
<rect x="265.27" y="516.50" width="12.76" height="12.68" fill="#0777b6"/>
<rect x="277.73" y="516.50" width="25.22" height="12.68" fill="#3197d1"/>
<rect x="302.65" y="516.50" width="12.76" height="12.68" fill="#1c87c4"/>
<rect x="315.11" y="516.50" width="12.76" height="12.68" fill="#0777b6"/>
<rect x="327.57" y="516.50" width="12.76" height="12.68" fill="#3197d1"/>
<rect x="340.03" y="516.50" width="25.22" height="12.68" fill="#0777b6"/>
<rect x="364.95" y="516.50" width="12.76" height="12.68" fill="#1c87c4"/>
<rect x="377.41" y="516.50" width="12.76" height="12.68" fill="#0777b6"/>
<rect x="389.86" y="516.50" width="12.76" height="12.68" fill="#1c87c4"/>
<rect x="402.32" y="516.50" width="12.76" height="12.68" fill="#3197d1"/>
<rect x="414.78" y="516.50" width="25.22" height="12.68" fill="#46a8df"/>
<rect x="439.70" y="516.50" width="12.76" height="12.68" fill="#5ab3e5"/>
<rect x="452.16" y="516.50" width="50.14" height="12.68" fill="#6aacd1"/>
<rect x="41.00" y="528.88" width="62.60" height="12.68" fill="#5ab3e5"/>
<rect x="103.30" y="528.88" width="25.22" height="12.68" fill="#46a8df"/>
<rect x="128.22" y="528.88" width="37.68" height="12.68" fill="#3197d1"/>
<rect x="165.59" y="528.88" width="25.22" height="12.68" fill="#1c87c4"/>
<rect x="190.51" y="528.88" width="25.22" height="12.68" fill="#0777b6"/>
<rect x="215.43" y="528.88" width="25.22" height="12.68" fill="#0079a8"/>
<rect x="240.35" y="528.88" width="25.22" height="12.68" fill="#0777b6"/>
<rect x="265.27" y="528.88" width="25.22" height="12.68" fill="#0079a8"/>
<rect x="290.19" y="528.88" width="25.22" height="12.68" fill="#1c87c4"/>
<rect x="315.11" y="528.88" width="12.76" height="12.68" fill="#0777b6"/>
<rect x="327.57" y="528.88" width="12.76" height="12.68" fill="#3197d1"/>
<rect x="340.03" y="528.88" width="12.76" height="12.68" fill="#0777b6"/>
<rect x="352.49" y="528.88" width="12.76" height="12.68" fill="#0079a8"/>
<rect x="364.95" y="528.88" width="25.22" height="12.68" fill="#0777b6"/>
<rect x="389.86" y="528.88" width="25.22" height="12.68" fill="#1c87c4"/>
<rect x="414.78" y="528.88" width="12.76" height="12.68" fill="#3197d1"/>
<rect x="427.24" y="528.88" width="12.76" height="12.68" fill="#5ab3e5"/>
<rect x="439.70" y="528.88" width="50.14" height="12.68" fill="#6aacd1"/>
<rect x="489.54" y="528.88" width="12.76" height="12.68" fill="#7aa5be"/>
<rect x="41.00" y="541.27" width="50.14" height="12.68" fill="#5ab3e5"/>
<rect x="90.84" y="541.27" width="50.14" height="12.68" fill="#46a8df"/>
<rect x="140.68" y="541.27" width="12.76" height="12.68" fill="#3197d1"/>
<rect x="153.14" y="541.27" width="37.68" height="12.68" fill="#1c87c4"/>
<rect x="190.51" y="541.27" width="25.22" height="12.68" fill="#0777b6"/>
<rect x="215.43" y="541.27" width="12.76" height="12.68" fill="#0079a8"/>
<rect x="227.89" y="541.27" width="50.14" height="12.68" fill="#0777b6"/>
<rect x="277.73" y="541.27" width="12.76" height="12.68" fill="#0079a8"/>
<rect x="290.19" y="541.27" width="12.76" height="12.68" fill="#0777b6"/>
<rect x="302.65" y="541.27" width="12.76" height="12.68" fill="#1c87c4"/>
<rect x="315.11" y="541.27" width="12.76" height="12.68" fill="#0777b6"/>
<rect x="327.57" y="541.27" width="12.76" height="12.68" fill="#1c87c4"/>
<rect x="340.03" y="541.27" width="12.76" height="12.68" fill="#008498"/>
<rect x="352.49" y="541.27" width="12.76" height="12.68" fill="#0079a8"/>
<rect x="364.95" y="541.27" width="12.76" height="12.68" fill="#1c87c4"/>
<rect x="377.41" y="541.27" width="12.76" height="12.68" fill="#3197d1"/>
<rect x="389.86" y="541.27" width="25.22" height="12.68" fill="#46a8df"/>
<rect x="414.78" y="541.27" width="12.76" height="12.68" fill="#5ab3e5"/>
<rect x="427.24" y="541.27" width="50.14" height="12.68" fill="#6aacd1"/>
<rect x="477.08" y="541.27" width="25.22" height="12.68" fill="#7aa5be"/>
<rect x="41.00" y="553.65" width="62.60" height="12.68" fill="#5ab3e5"/>
<rect x="103.30" y="553.65" width="37.68" height="12.68" fill="#46a8df"/>
<rect x="140.68" y="553.65" width="12.76" height="12.68" fill="#3197d1"/>
<rect x="153.14" y="553.65" width="25.22" height="12.68" fill="#1c87c4"/>
<rect x="178.05" y="553.65" width="99.98" height="12.68" fill="#0777b6"/>
<rect x="277.73" y="553.65" width="12.76" height="12.68" fill="#1c87c4"/>
<rect x="290.19" y="553.65" width="12.76" height="12.68" fill="#0079a8"/>
<rect x="302.65" y="553.65" width="12.76" height="12.68" fill="#1c87c4"/>
<rect x="315.11" y="553.65" width="12.76" height="12.68" fill="#0777b6"/>
<rect x="327.57" y="553.65" width="12.76" height="12.68" fill="#0079a8"/>
<rect x="340.03" y="553.65" width="12.76" height="12.68" fill="#008498"/>
<rect x="352.49" y="553.65" width="12.76" height="12.68" fill="#0777b6"/>
<rect x="364.95" y="553.65" width="12.76" height="12.68" fill="#3197d1"/>
<rect x="377.41" y="553.65" width="12.76" height="12.68" fill="#46a8df"/>
<rect x="389.86" y="553.65" width="25.22" height="12.68" fill="#5ab3e5"/>
<rect x="414.78" y="553.65" width="62.60" height="12.68" fill="#6aacd1"/>
<rect x="477.08" y="553.65" width="25.22" height="12.68" fill="#7aa5be"/>
<rect x="41.00" y="566.03" width="87.52" height="12.68" fill="#5ab3e5"/>
<rect x="128.22" y="566.03" width="12.76" height="12.68" fill="#46a8df"/>
<rect x="140.68" y="566.03" width="25.22" height="12.68" fill="#3197d1"/>
<rect x="165.59" y="566.03" width="25.22" height="12.68" fill="#1c87c4"/>
<rect x="190.51" y="566.03" width="75.06" height="12.68" fill="#0777b6"/>
<rect x="265.27" y="566.03" width="12.76" height="12.68" fill="#1c87c4"/>
<rect x="277.73" y="566.03" width="25.22" height="12.68" fill="#3197d1"/>
<rect x="302.65" y="566.03" width="12.76" height="12.68" fill="#1c87c4"/>
<rect x="315.11" y="566.03" width="25.22" height="12.68" fill="#3197d1"/>
<rect x="340.03" y="566.03" width="12.76" height="12.68" fill="#1c87c4"/>
<rect x="352.49" y="566.03" width="25.22" height="12.68" fill="#3197d1"/>
<rect x="377.41" y="566.03" width="12.76" height="12.68" fill="#5ab3e5"/>
<rect x="389.86" y="566.03" width="75.06" height="12.68" fill="#6aacd1"/>
<rect x="464.62" y="566.03" width="37.68" height="12.68" fill="#7aa5be"/>
<rect x="41.00" y="578.41" width="99.98" height="12.68" fill="#5ab3e5"/>
<rect x="140.68" y="578.41" width="12.76" height="12.68" fill="#46a8df"/>
<rect x="153.14" y="578.41" width="25.22" height="12.68" fill="#3197d1"/>
<rect x="178.05" y="578.41" width="87.52" height="12.68" fill="#1c87c4"/>
<rect x="265.27" y="578.41" width="62.60" height="12.68" fill="#3197d1"/>
<rect x="327.57" y="578.41" width="37.68" height="12.68" fill="#46a8df"/>
<rect x="364.95" y="578.41" width="12.76" height="12.68" fill="#5ab3e5"/>
<rect x="377.41" y="578.41" width="87.52" height="12.68" fill="#6aacd1"/>
<rect x="464.62" y="578.41" width="37.68" height="12.68" fill="#7aa5be"/>
<rect x="41.00" y="590.79" width="99.98" height="12.68" fill="#5ab3e5"/>
<rect x="140.68" y="590.79" width="25.22" height="12.68" fill="#46a8df"/>
<rect x="165.59" y="590.79" width="25.22" height="12.68" fill="#3197d1"/>
<rect x="190.51" y="590.79" width="37.68" height="12.68" fill="#1c87c4"/>
<rect x="227.89" y="590.79" width="37.68" height="12.68" fill="#3197d1"/>
<rect x="265.27" y="590.79" width="50.14" height="12.68" fill="#46a8df"/>
<rect x="315.11" y="590.79" width="12.76" height="12.68" fill="#3197d1"/>
<rect x="327.57" y="590.79" width="25.22" height="12.68" fill="#46a8df"/>
<rect x="352.49" y="590.79" width="12.76" height="12.68" fill="#5ab3e5"/>
<rect x="364.95" y="590.79" width="87.52" height="12.68" fill="#6aacd1"/>
<rect x="452.16" y="590.79" width="50.14" height="12.68" fill="#7aa5be"/>
<rect x="41.00" y="603.17" width="99.98" height="12.68" fill="#5ab3e5"/>
<rect x="140.68" y="603.17" width="25.22" height="12.68" fill="#46a8df"/>
<rect x="165.59" y="603.17" width="50.14" height="12.68" fill="#3197d1"/>
<rect x="215.43" y="603.17" width="124.89" height="12.68" fill="#46a8df"/>
<rect x="340.03" y="603.17" width="25.22" height="12.68" fill="#5ab3e5"/>
<rect x="364.95" y="603.17" width="75.06" height="12.68" fill="#6aacd1"/>
<rect x="439.70" y="603.17" width="62.60" height="12.68" fill="#7aa5be"/>
<rect x="41.00" y="615.56" width="87.52" height="12.68" fill="#5ab3e5"/>
<rect x="128.22" y="615.56" width="187.19" height="12.68" fill="#46a8df"/>
<rect x="315.11" y="615.56" width="37.68" height="12.68" fill="#5ab3e5"/>
<rect x="352.49" y="615.56" width="75.06" height="12.68" fill="#6aacd1"/>
<rect x="427.24" y="615.56" width="75.06" height="12.68" fill="#7aa5be"/>
<rect x="41.00" y="627.94" width="99.98" height="12.68" fill="#5ab3e5"/>
<rect x="140.68" y="627.94" width="162.27" height="12.68" fill="#46a8df"/>
<rect x="302.65" y="627.94" width="25.22" height="12.68" fill="#5ab3e5"/>
<rect x="327.57" y="627.94" width="99.98" height="12.68" fill="#6aacd1"/>
<rect x="427.24" y="627.94" width="50.14" height="12.68" fill="#7aa5be"/>
<rect x="477.08" y="627.94" width="25.22" height="12.68" fill="#8b9faa"/>
<rect x="41.00" y="640.32" width="99.98" height="12.68" fill="#5ab3e5"/>
<rect x="140.68" y="640.32" width="25.22" height="12.68" fill="#46a8df"/>
<rect x="165.59" y="640.32" width="50.14" height="12.68" fill="#5ab3e5"/>
<rect x="215.43" y="640.32" width="75.06" height="12.68" fill="#46a8df"/>
<rect x="290.19" y="640.32" width="25.22" height="12.68" fill="#5ab3e5"/>
<rect x="315.11" y="640.32" width="99.98" height="12.68" fill="#6aacd1"/>
<rect x="414.78" y="640.32" width="62.60" height="12.68" fill="#7aa5be"/>
<rect x="477.08" y="640.32" width="25.22" height="12.68" fill="#8b9faa"/>
</g>
<g clip-path="url(#c0)"><use href="#map"/><g class="p">
<circle cx="69.6" cy="32.5" r="3.15" fill="#7aa5be"/><circle class="r" cx="69.6" cy="32.5" r="4.15"/>
<circle cx="82.6" cy="33.5" r="3.15" fill="#7aa5be"/><circle class="r" cx="82.6" cy="33.5" r="4.15"/>
<circle cx="108.2" cy="37.5" r="3.15" fill="#6aacd1"/><circle class="r" cx="108.2" cy="37.5" r="4.15"/>
<circle cx="97.4" cy="45.5" r="3.15" fill="#6aacd1"/><circle class="r" cx="97.4" cy="45.5" r="4.15"/>
<circle cx="87.6" cy="48.8" r="3.15" fill="#6aacd1"/><circle class="r" cx="87.6" cy="48.8" r="4.15"/>
<circle cx="76.1" cy="53.1" r="3.15" fill="#6aacd1"/><circle class="r" cx="76.1" cy="53.1" r="4.15"/>
<circle cx="77.4" cy="61.8" r="3.15" fill="#5ab3e5"/><circle class="r" cx="77.4" cy="61.8" r="4.15"/>
<circle cx="84.4" cy="60.6" r="3.15" fill="#46a8df"/><circle class="r" cx="84.4" cy="60.6" r="4.15"/>
<circle cx="87.6" cy="57.6" r="3.15" fill="#5ab3e5"/><circle class="r" cx="87.6" cy="57.6" r="4.15"/>
<circle cx="93.7" cy="65.6" r="3.15" fill="#5ab3e5"/><circle class="r" cx="93.7" cy="65.6" r="4.15"/>
<circle cx="98.2" cy="77.4" r="3.15" fill="#46a8df"/><circle class="r" cx="98.2" cy="77.4" r="4.15"/>
<circle cx="82.6" cy="80.1" r="3.15" fill="#5ab3e5"/><circle class="r" cx="82.6" cy="80.1" r="4.15"/>
<circle cx="49.3" cy="75.6" r="3.15" fill="#6aacd1"/><circle class="r" cx="49.3" cy="75.6" r="4.15"/>
<circle cx="51.8" cy="72.6" r="3.15" fill="#6aacd1"/><circle class="r" cx="51.8" cy="72.6" r="4.15"/>
<circle cx="42.5" cy="86.9" r="3.15" fill="#46a8df"/><circle class="r" cx="42.5" cy="86.9" r="4.15"/>
<circle cx="63.6" cy="93.2" r="3.15" fill="#5ab3e5"/><circle class="r" cx="63.6" cy="93.2" r="4.15"/>
<circle cx="49.8" cy="103.9" r="3.15" fill="#5ab3e5"/><circle class="r" cx="49.8" cy="103.9" r="4.15"/>
<circle cx="112.0" cy="110.0" r="3.15" fill="#5ab3e5"/><circle class="r" cx="112.0" cy="110.0" r="4.15"/>
<circle cx="105.7" cy="110.7" r="3.15" fill="#5ab3e5"/><circle class="r" cx="105.7" cy="110.7" r="4.15"/>
<circle cx="100.7" cy="115.0" r="3.15" fill="#3197d1"/><circle class="r" cx="100.7" cy="115.0" r="4.15"/>
<circle cx="108.2" cy="118.2" r="3.15" fill="#5ab3e5"/><circle class="r" cx="108.2" cy="118.2" r="4.15"/>
<circle cx="100.2" cy="124.5" r="3.15" fill="#46a8df"/><circle class="r" cx="100.2" cy="124.5" r="4.15"/>
<circle cx="78.6" cy="125.0" r="3.15" fill="#5ab3e5"/><circle class="r" cx="78.6" cy="125.0" r="4.15"/>
<circle cx="70.6" cy="132.5" r="3.15" fill="#5ab3e5"/><circle class="r" cx="70.6" cy="132.5" r="4.15"/>
<circle cx="65.6" cy="138.3" r="3.15" fill="#0777b6"/><circle class="r" cx="65.6" cy="138.3" r="4.15"/>
<circle cx="58.1" cy="133.3" r="3.15" fill="#1c87c4"/><circle class="r" cx="58.1" cy="133.3" r="4.15"/>
<circle cx="58.6" cy="129.0" r="3.15" fill="#46a8df"/><circle class="r" cx="58.6" cy="129.0" r="4.15"/>
<circle cx="50.6" cy="128.3" r="3.15" fill="#46a8df"/><circle class="r" cx="50.6" cy="128.3" r="4.15"/>
<circle cx="46.8" cy="132.0" r="3.15" fill="#3197d1"/><circle class="r" cx="46.8" cy="132.0" r="4.15"/>
<circle cx="103.2" cy="137.5" r="3.15" fill="#1c87c4"/><circle class="r" cx="103.2" cy="137.5" r="4.15"/>
<circle cx="127.5" cy="134.5" r="3.15" fill="#46a8df"/><circle class="r" cx="127.5" cy="134.5" r="4.15"/>
<circle cx="140.0" cy="125.7" r="3.15" fill="#5ab3e5"/><circle class="r" cx="140.0" cy="125.7" r="4.15"/>
<circle cx="141.5" cy="118.2" r="3.15" fill="#46a8df"/><circle class="r" cx="141.5" cy="118.2" r="4.15"/>
<circle cx="143.3" cy="155.8" r="3.15" fill="#7aa5be"/><circle class="r" cx="143.3" cy="155.8" r="4.15"/>
<circle cx="96.2" cy="160.3" r="3.15" fill="#46a8df"/><circle class="r" cx="96.2" cy="160.3" r="4.15"/>
<circle cx="95.2" cy="163.8" r="3.15" fill="#46a8df"/><circle class="r" cx="95.2" cy="163.8" r="4.15"/>
<circle cx="62.3" cy="172.6" r="3.15" fill="#46a8df"/><circle class="r" cx="62.3" cy="172.6" r="4.15"/>
<circle cx="86.1" cy="177.9" r="3.15" fill="#3197d1"/><circle class="r" cx="86.1" cy="177.9" r="4.15"/>
<circle cx="29.0" cy="166.6" r="3.15" fill="#3197d1"/><circle class="r" cx="29.0" cy="166.6" r="4.15"/>
<circle cx="85.1" cy="193.4" r="3.15" fill="#1c87c4"/><circle class="r" cx="85.1" cy="193.4" r="4.15"/>
<circle cx="84.4" cy="198.4" r="3.15" fill="#3197d1"/><circle class="r" cx="84.4" cy="198.4" r="4.15"/>
<circle cx="97.4" cy="200.9" r="3.15" fill="#5ab3e5"/><circle class="r" cx="97.4" cy="200.9" r="4.15"/>
<circle cx="114.5" cy="200.2" r="3.15" fill="#6aacd1"/><circle class="r" cx="114.5" cy="200.2" r="4.15"/>
<circle cx="71.9" cy="208.5" r="3.15" fill="#3197d1"/><circle class="r" cx="71.9" cy="208.5" r="4.15"/>
<circle cx="126.2" cy="53.1" r="3.15" fill="#3197d1"/><circle class="r" cx="126.2" cy="53.1" r="4.15"/>
<circle cx="142.0" cy="41.0" r="3.15" fill="#1c87c4"/><circle class="r" cx="142.0" cy="41.0" r="4.15"/>
<circle cx="152.1" cy="43.0" r="3.15" fill="#1c87c4"/><circle class="r" cx="152.1" cy="43.0" r="4.15"/>
<circle cx="147.0" cy="49.3" r="3.15" fill="#46a8df"/><circle class="r" cx="147.0" cy="49.3" r="4.15"/>
<circle cx="143.8" cy="52.6" r="3.15" fill="#1c87c4"/><circle class="r" cx="143.8" cy="52.6" r="4.15"/>
<circle cx="162.6" cy="49.3" r="3.15" fill="#3197d1"/><circle class="r" cx="162.6" cy="49.3" r="4.15"/>
<circle cx="127.5" cy="64.3" r="3.15" fill="#1c87c4"/><circle class="r" cx="127.5" cy="64.3" r="4.15"/>
<circle cx="137.0" cy="62.6" r="3.15" fill="#3197d1"/><circle class="r" cx="137.0" cy="62.6" r="4.15"/>
<circle cx="143.3" cy="66.1" r="3.15" fill="#3197d1"/><circle class="r" cx="143.3" cy="66.1" r="4.15"/>
<circle cx="133.3" cy="69.4" r="3.15" fill="#1c87c4"/><circle class="r" cx="133.3" cy="69.4" r="4.15"/>
<circle cx="139.5" cy="73.1" r="3.15" fill="#3197d1"/><circle class="r" cx="139.5" cy="73.1" r="4.15"/>
<circle cx="130.3" cy="76.1" r="3.15" fill="#3197d1"/><circle class="r" cx="130.3" cy="76.1" r="4.15"/>
<circle cx="135.8" cy="78.9" r="3.15" fill="#5ab3e5"/><circle class="r" cx="135.8" cy="78.9" r="4.15"/>
<circle cx="147.0" cy="78.9" r="3.15" fill="#3197d1"/><circle class="r" cx="147.0" cy="78.9" r="4.15"/>
<circle cx="138.3" cy="82.6" r="3.15" fill="#7aa5be"/><circle class="r" cx="138.3" cy="82.6" r="4.15"/>
<circle cx="130.8" cy="86.1" r="3.15" fill="#5ab3e5"/><circle class="r" cx="130.8" cy="86.1" r="4.15"/>
<circle cx="155.3" cy="64.8" r="3.15" fill="#46a8df"/><circle class="r" cx="155.3" cy="64.8" r="4.15"/>
<circle cx="171.4" cy="28.5" r="3.15" fill="#6aacd1"/><circle class="r" cx="171.4" cy="28.5" r="4.15"/>
<circle cx="182.9" cy="28.8" r="3.15" fill="#46a8df"/><circle class="r" cx="182.9" cy="28.8" r="4.15"/>
<circle cx="175.9" cy="36.0" r="3.15" fill="#6aacd1"/><circle class="r" cx="175.9" cy="36.0" r="4.15"/>
<circle cx="180.9" cy="35.3" r="3.15" fill="#46a8df"/><circle class="r" cx="180.9" cy="35.3" r="4.15"/>
<circle cx="182.1" cy="40.0" r="3.15" fill="#6aacd1"/><circle class="r" cx="182.1" cy="40.0" r="4.15"/>
<circle cx="191.4" cy="36.0" r="3.15" fill="#6aacd1"/><circle class="r" cx="191.4" cy="36.0" r="4.15"/>
<circle cx="267.6" cy="28.5" r="3.15" fill="#6aacd1"/><circle class="r" cx="267.6" cy="28.5" r="4.15"/>
<circle cx="224.0" cy="33.5" r="3.15" fill="#5ab3e5"/><circle class="r" cx="224.0" cy="33.5" r="4.15"/>
<circle cx="223.5" cy="53.1" r="3.15" fill="#7aa5be"/><circle class="r" cx="223.5" cy="53.1" r="4.15"/>
<circle cx="221.5" cy="58.1" r="3.15" fill="#7aa5be"/><circle class="r" cx="221.5" cy="58.1" r="4.15"/>
<circle cx="192.2" cy="93.7" r="3.15" fill="#5ab3e5"/><circle class="r" cx="192.2" cy="93.7" r="4.15"/>
<circle cx="194.7" cy="95.7" r="3.15" fill="#5ab3e5"/><circle class="r" cx="194.7" cy="95.7" r="4.15"/>
<circle cx="201.4" cy="96.4" r="3.15" fill="#7aa5be"/><circle class="r" cx="201.4" cy="96.4" r="4.15"/>
<circle cx="185.9" cy="105.7" r="3.15" fill="#7aa5be"/><circle class="r" cx="185.9" cy="105.7" r="4.15"/>
<circle cx="185.4" cy="117.7" r="3.15" fill="#7aa5be"/><circle class="r" cx="185.4" cy="117.7" r="4.15"/>
<circle cx="203.9" cy="131.5" r="3.15" fill="#7aa5be"/><circle class="r" cx="203.9" cy="131.5" r="4.15"/>
<circle cx="184.6" cy="142.5" r="3.15" fill="#6aacd1"/><circle class="r" cx="184.6" cy="142.5" r="4.15"/>
<circle cx="226.0" cy="94.9" r="3.15" fill="#7aa5be"/><circle class="r" cx="226.0" cy="94.9" r="4.15"/>
<circle cx="258.1" cy="106.4" r="3.15" fill="#6aacd1"/><circle class="r" cx="258.1" cy="106.4" r="4.15"/>
<circle cx="246.5" cy="147.5" r="3.15" fill="#6aacd1"/><circle class="r" cx="246.5" cy="147.5" r="4.15"/>
<circle cx="212.2" cy="165.8" r="3.15" fill="#3197d1"/><circle class="r" cx="212.2" cy="165.8" r="4.15"/>
<circle cx="172.1" cy="170.4" r="3.15" fill="#5ab3e5"/><circle class="r" cx="172.1" cy="170.4" r="4.15"/>
<circle cx="170.9" cy="175.9" r="3.15" fill="#5ab3e5"/><circle class="r" cx="170.9" cy="175.9" r="4.15"/>
<circle cx="255.6" cy="33.0" r="3.15" fill="#8b9faa"/><circle class="r" cx="255.6" cy="33.0" r="4.15"/>
<circle cx="266.8" cy="37.5" r="3.15" fill="#7aa5be"/><circle class="r" cx="266.8" cy="37.5" r="4.15"/>
<circle cx="278.6" cy="56.8" r="3.15" fill="#7aa5be"/><circle class="r" cx="278.6" cy="56.8" r="4.15"/>
<circle cx="292.4" cy="30.5" r="3.15" fill="#8b9faa"/><circle class="r" cx="292.4" cy="30.5" r="4.15"/>
<circle cx="307.4" cy="74.9" r="3.15" fill="#6aacd1"/><circle class="r" cx="307.4" cy="74.9" r="4.15"/>
<circle cx="318.2" cy="70.6" r="3.15" fill="#46a8df"/><circle class="r" cx="318.2" cy="70.6" r="4.15"/>
<circle cx="320.0" cy="87.6" r="3.15" fill="#7aa5be"/><circle class="r" cx="320.0" cy="87.6" r="4.15"/>
<circle cx="293.7" cy="110.7" r="3.15" fill="#7aa5be"/><circle class="r" cx="293.7" cy="110.7" r="4.15"/>
<circle cx="284.9" cy="125.2" r="3.15" fill="#6aacd1"/><circle class="r" cx="284.9" cy="125.2" r="4.15"/>
<circle cx="267.3" cy="127.5" r="3.15" fill="#5ab3e5"/><circle class="r" cx="267.3" cy="127.5" r="4.15"/>
<circle cx="323.7" cy="33.0" r="3.15" fill="#7aa5be"/><circle class="r" cx="323.7" cy="33.0" r="4.15"/>
<circle cx="292.4" cy="162.1" r="3.15" fill="#6aacd1"/><circle class="r" cx="292.4" cy="162.1" r="4.15"/>
<circle cx="304.4" cy="159.1" r="3.15" fill="#6aacd1"/><circle class="r" cx="304.4" cy="159.1" r="4.15"/>
<circle cx="315.7" cy="157.6" r="3.15" fill="#6aacd1"/><circle class="r" cx="315.7" cy="157.6" r="4.15"/>
<circle cx="295.7" cy="168.9" r="3.15" fill="#5ab3e5"/><circle class="r" cx="295.7" cy="168.9" r="4.15"/>
<circle cx="283.6" cy="171.4" r="3.15" fill="#6aacd1"/><circle class="r" cx="283.6" cy="171.4" r="4.15"/>
<circle cx="279.9" cy="174.6" r="3.15" fill="#6aacd1"/><circle class="r" cx="279.9" cy="174.6" r="4.15"/>
<circle cx="323.7" cy="166.3" r="3.15" fill="#3197d1"/><circle class="r" cx="323.7" cy="166.3" r="4.15"/>
<circle cx="326.2" cy="160.8" r="3.15" fill="#3197d1"/><circle class="r" cx="326.2" cy="160.8" r="4.15"/>
<circle cx="231.5" cy="185.9" r="3.15" fill="#46a8df"/><circle class="r" cx="231.5" cy="185.9" r="4.15"/>
<circle cx="244.0" cy="185.1" r="3.15" fill="#5ab3e5"/><circle class="r" cx="244.0" cy="185.1" r="4.15"/>
<circle cx="254.8" cy="184.1" r="3.15" fill="#7aa5be"/><circle class="r" cx="254.8" cy="184.1" r="4.15"/>
<circle cx="223.0" cy="195.2" r="3.15" fill="#46a8df"/><circle class="r" cx="223.0" cy="195.2" r="4.15"/>
<circle cx="281.6" cy="193.4" r="3.15" fill="#6aacd1"/><circle class="r" cx="281.6" cy="193.4" r="4.15"/>
<circle cx="301.2" cy="200.9" r="3.15" fill="#5ab3e5"/><circle class="r" cx="301.2" cy="200.9" r="4.15"/>
<circle cx="254.8" cy="202.2" r="3.15" fill="#6aacd1"/><circle class="r" cx="254.8" cy="202.2" r="4.15"/>
<circle cx="270.6" cy="207.4" r="3.15" fill="#8b9faa"/><circle class="r" cx="270.6" cy="207.4" r="4.15"/>
<circle cx="272.6" cy="204.2" r="3.15" fill="#6aacd1"/><circle class="r" cx="272.6" cy="204.2" r="4.15"/>
<circle cx="179.6" cy="188.4" r="3.15" fill="#6aacd1"/><circle class="r" cx="179.6" cy="188.4" r="4.15"/>
<circle cx="175.9" cy="190.4" r="3.15" fill="#6aacd1"/><circle class="r" cx="175.9" cy="190.4" r="4.15"/>
<circle cx="172.1" cy="192.9" r="3.15" fill="#6aacd1"/><circle class="r" cx="172.1" cy="192.9" r="4.15"/>
<circle cx="161.3" cy="196.7" r="3.15" fill="#6aacd1"/><circle class="r" cx="161.3" cy="196.7" r="4.15"/>
<circle cx="159.1" cy="206.7" r="3.15" fill="#6aacd1"/><circle class="r" cx="159.1" cy="206.7" r="4.15"/>
<circle cx="171.4" cy="208.5" r="3.15" fill="#5ab3e5"/><circle class="r" cx="171.4" cy="208.5" r="4.15"/>
<circle cx="177.1" cy="209.0" r="3.15" fill="#7aa5be"/><circle class="r" cx="177.1" cy="209.0" r="4.15"/>
<circle cx="181.4" cy="204.2" r="3.15" fill="#3197d1"/><circle class="r" cx="181.4" cy="204.2" r="4.15"/>
<circle cx="185.9" cy="208.5" r="3.15" fill="#46a8df"/><circle class="r" cx="185.9" cy="208.5" r="4.15"/>
<circle cx="188.4" cy="214.0" r="3.15" fill="#7aa5be"/><circle class="r" cx="188.4" cy="214.0" r="4.15"/>
<circle cx="198.4" cy="205.9" r="3.15" fill="#46a8df"/><circle class="r" cx="198.4" cy="205.9" r="4.15"/>
<circle cx="203.4" cy="208.5" r="3.15" fill="#6aacd1"/><circle class="r" cx="203.4" cy="208.5" r="4.15"/>
<circle cx="214.0" cy="206.4" r="3.15" fill="#7aa5be"/><circle class="r" cx="214.0" cy="206.4" r="4.15"/>
<circle cx="209.0" cy="212.2" r="3.15" fill="#46a8df"/><circle class="r" cx="209.0" cy="212.2" r="4.15"/>
<circle cx="135.8" cy="228.0" r="3.15" fill="#7aa5be"/><circle class="r" cx="135.8" cy="228.0" r="4.15"/>
<circle cx="137.0" cy="233.5" r="3.15" fill="#6aacd1"/><circle class="r" cx="137.0" cy="233.5" r="4.15"/>
<circle cx="178.4" cy="221.5" r="3.15" fill="#5ab3e5"/><circle class="r" cx="178.4" cy="221.5" r="4.15"/>
<circle cx="190.9" cy="227.3" r="3.15" fill="#8b9faa"/><circle class="r" cx="190.9" cy="227.3" r="4.15"/>
<circle cx="233.5" cy="223.0" r="3.15" fill="#7aa5be"/><circle class="r" cx="233.5" cy="223.0" r="4.15"/>
<circle cx="260.6" cy="219.0" r="3.15" fill="#6aacd1"/><circle class="r" cx="260.6" cy="219.0" r="4.15"/>
<circle cx="271.1" cy="219.8" r="3.15" fill="#6aacd1"/><circle class="r" cx="271.1" cy="219.8" r="4.15"/>
<circle cx="280.6" cy="216.8" r="3.15" fill="#5ab3e5"/><circle class="r" cx="280.6" cy="216.8" r="4.15"/>
<circle cx="294.2" cy="227.3" r="3.15" fill="#6aacd1"/><circle class="r" cx="294.2" cy="227.3" r="4.15"/>
<circle cx="310.7" cy="236.8" r="3.15" fill="#6aacd1"/><circle class="r" cx="310.7" cy="236.8" r="4.15"/>
<circle cx="229.3" cy="233.5" r="3.15" fill="#7aa5be"/><circle class="r" cx="229.3" cy="233.5" r="4.15"/>
<circle cx="212.7" cy="240.6" r="3.15" fill="#6aacd1"/><circle class="r" cx="212.7" cy="240.6" r="4.15"/>
<circle cx="155.3" cy="243.1" r="3.15" fill="#7aa5be"/><circle class="r" cx="155.3" cy="243.1" r="4.15"/>
<circle cx="132.5" cy="258.1" r="3.15" fill="#6aacd1"/><circle class="r" cx="132.5" cy="258.1" r="4.15"/>
<circle cx="88.7" cy="251.8" r="3.15" fill="#5ab3e5"/><circle class="r" cx="88.7" cy="251.8" r="4.15"/>
<circle cx="94.2" cy="254.6" r="3.15" fill="#6aacd1"/><circle class="r" cx="94.2" cy="254.6" r="4.15"/>
<circle cx="83.1" cy="261.9" r="3.15" fill="#7aa5be"/><circle class="r" cx="83.1" cy="261.9" r="4.15"/>
<circle cx="115.2" cy="267.4" r="3.15" fill="#3197d1"/><circle class="r" cx="115.2" cy="267.4" r="4.15"/>
<circle cx="114.5" cy="282.4" r="3.15" fill="#6aacd1"/><circle class="r" cx="114.5" cy="282.4" r="4.15"/>
<circle cx="86.9" cy="289.4" r="3.15" fill="#5ab3e5"/><circle class="r" cx="86.9" cy="289.4" r="4.15"/>
<circle cx="100.7" cy="297.5" r="3.15" fill="#5ab3e5"/><circle class="r" cx="100.7" cy="297.5" r="4.15"/>
<circle cx="88.9" cy="301.2" r="3.15" fill="#5ab3e5"/><circle class="r" cx="88.9" cy="301.2" r="4.15"/>
<circle cx="86.9" cy="307.5" r="3.15" fill="#5ab3e5"/><circle class="r" cx="86.9" cy="307.5" r="4.15"/>
<circle cx="175.1" cy="256.1" r="3.15" fill="#7aa5be"/><circle class="r" cx="175.1" cy="256.1" r="4.15"/>
<circle cx="160.1" cy="271.9" r="3.15" fill="#7aa5be"/><circle class="r" cx="160.1" cy="271.9" r="4.15"/>
<circle cx="177.1" cy="271.6" r="3.15" fill="#46a8df"/><circle class="r" cx="177.1" cy="271.6" r="4.15"/>
<circle cx="200.4" cy="269.9" r="3.15" fill="#7aa5be"/><circle class="r" cx="200.4" cy="269.9" r="4.15"/>
<circle cx="155.8" cy="282.9" r="3.15" fill="#6aacd1"/><circle class="r" cx="155.8" cy="282.9" r="4.15"/>
<circle cx="169.1" cy="282.2" r="3.15" fill="#5ab3e5"/><circle class="r" cx="169.1" cy="282.2" r="4.15"/>
<circle cx="179.1" cy="285.7" r="3.15" fill="#7aa5be"/><circle class="r" cx="179.1" cy="285.7" r="4.15"/>
<circle cx="177.1" cy="291.7" r="3.15" fill="#7aa5be"/><circle class="r" cx="177.1" cy="291.7" r="4.15"/>
<circle cx="170.4" cy="303.0" r="3.15" fill="#5ab3e5"/><circle class="r" cx="170.4" cy="303.0" r="4.15"/>
<circle cx="200.4" cy="313.2" r="3.15" fill="#6aacd1"/><circle class="r" cx="200.4" cy="313.2" r="4.15"/>
<circle cx="273.6" cy="251.1" r="3.15" fill="#7aa5be"/><circle class="r" cx="273.6" cy="251.1" r="4.15"/>
<circle cx="276.1" cy="248.6" r="3.15" fill="#6aacd1"/><circle class="r" cx="276.1" cy="248.6" r="4.15"/>
<circle cx="281.6" cy="260.6" r="3.15" fill="#8b9faa"/><circle class="r" cx="281.6" cy="260.6" r="4.15"/>
<circle cx="248.1" cy="269.1" r="3.15" fill="#7aa5be"/><circle class="r" cx="248.1" cy="269.1" r="4.15"/>
<circle cx="240.5" cy="276.4" r="3.15" fill="#7aa5be"/><circle class="r" cx="240.5" cy="276.4" r="4.15"/>
<circle cx="245.0" cy="282.2" r="3.15" fill="#8b9faa"/><circle class="r" cx="245.0" cy="282.2" r="4.15"/>
<circle cx="252.8" cy="283.7" r="3.15" fill="#6aacd1"/><circle class="r" cx="252.8" cy="283.7" r="4.15"/>
<circle cx="309.5" cy="280.2" r="3.15" fill="#6aacd1"/><circle class="r" cx="309.5" cy="280.2" r="4.15"/>
<circle cx="323.2" cy="286.9" r="3.15" fill="#46a8df"/><circle class="r" cx="323.2" cy="286.9" r="4.15"/>
<circle cx="284.9" cy="328.0" r="3.15" fill="#5ab3e5"/><circle class="r" cx="284.9" cy="328.0" r="4.15"/>
<circle cx="156.3" cy="330.0" r="3.15" fill="#5ab3e5"/><circle class="r" cx="156.3" cy="330.0" r="4.15"/>
<circle cx="155.3" cy="333.3" r="3.15" fill="#6aacd1"/><circle class="r" cx="155.3" cy="333.3" r="4.15"/>
<circle cx="187.9" cy="347.8" r="3.15" fill="#6aacd1"/><circle class="r" cx="187.9" cy="347.8" r="4.15"/>
<circle cx="35.0" cy="349.6" r="3.15" fill="#6aacd1"/><circle class="r" cx="35.0" cy="349.6" r="4.15"/>
<circle cx="29.3" cy="277.4" r="3.15" fill="#46a8df"/><circle class="r" cx="29.3" cy="277.4" r="4.15"/>
<circle cx="276.1" cy="364.6" r="3.15" fill="#3197d1"/><circle class="r" cx="276.1" cy="364.6" r="4.15"/>
<circle cx="143.3" cy="396.5" r="3.15" fill="#46a8df"/><circle class="r" cx="143.3" cy="396.5" r="4.15"/>
<circle cx="270.4" cy="395.9" r="3.15" fill="#6aacd1"/><circle class="r" cx="270.4" cy="395.9" r="4.15"/>
<circle cx="283.6" cy="399.0" r="3.15" fill="#3197d1"/><circle class="r" cx="283.6" cy="399.0" r="4.15"/>
<circle cx="61.8" cy="408.6" r="3.15" fill="#5ab3e5"/><circle class="r" cx="61.8" cy="408.6" r="4.15"/>
<circle cx="69.9" cy="418.3" r="3.15" fill="#5ab3e5"/><circle class="r" cx="69.9" cy="418.3" r="4.15"/>
<circle cx="31.8" cy="425.9" r="3.15" fill="#3197d1"/><circle class="r" cx="31.8" cy="425.9" r="4.15"/>
<circle cx="48.6" cy="424.9" r="3.15" fill="#46a8df"/><circle class="r" cx="48.6" cy="424.9" r="4.15"/>
<circle cx="91.9" cy="414.8" r="3.15" fill="#46a8df"/><circle class="r" cx="91.9" cy="414.8" r="4.15"/>
<circle cx="90.7" cy="421.1" r="3.15" fill="#1c87c4"/><circle class="r" cx="90.7" cy="421.1" r="4.15"/>
<circle cx="99.4" cy="419.1" r="3.15" fill="#3197d1"/><circle class="r" cx="99.4" cy="419.1" r="4.15"/>
<circle cx="142.8" cy="424.1" r="3.15" fill="#6aacd1"/><circle class="r" cx="142.8" cy="424.1" r="4.15"/>
<circle cx="167.6" cy="422.1" r="3.15" fill="#8b9faa"/><circle class="r" cx="167.6" cy="422.1" r="4.15"/>
<circle cx="187.4" cy="406.6" r="3.15" fill="#8b9faa"/><circle class="r" cx="187.4" cy="406.6" r="4.15"/>
<circle cx="195.4" cy="418.6" r="3.15" fill="#7aa5be"/><circle class="r" cx="195.4" cy="418.6" r="4.15"/>
<circle cx="245.5" cy="408.1" r="3.15" fill="#46a8df"/><circle class="r" cx="245.5" cy="408.1" r="4.15"/>
<circle cx="251.1" cy="406.1" r="3.15" fill="#6aacd1"/><circle class="r" cx="251.1" cy="406.1" r="4.15"/>
<circle cx="261.1" cy="429.1" r="3.15" fill="#46a8df"/><circle class="r" cx="261.1" cy="429.1" r="4.15"/>
<circle cx="267.3" cy="443.1" r="3.15" fill="#3197d1"/><circle class="r" cx="267.3" cy="443.1" r="4.15"/>
<circle cx="269.1" cy="443.6" r="3.15" fill="#3197d1"/><circle class="r" cx="269.1" cy="443.6" r="4.15"/>
<circle cx="294.4" cy="426.6" r="3.15" fill="#46a8df"/><circle class="r" cx="294.4" cy="426.6" r="4.15"/>
<circle cx="303.7" cy="436.1" r="3.15" fill="#3197d1"/><circle class="r" cx="303.7" cy="436.1" r="4.15"/>
<circle cx="298.7" cy="454.9" r="3.15" fill="#46a8df"/><circle class="r" cx="298.7" cy="454.9" r="4.15"/>
<circle cx="297.4" cy="461.2" r="3.15" fill="#0079a8"/><circle class="r" cx="297.4" cy="461.2" r="4.15"/>
<circle cx="297.7" cy="467.2" r="3.15" fill="#1c87c4"/><circle class="r" cx="297.7" cy="467.2" r="4.15"/>
<circle cx="286.1" cy="466.0" r="3.15" fill="#0777b6"/><circle class="r" cx="286.1" cy="466.0" r="4.15"/>
<circle cx="290.2" cy="472.2" r="3.15" fill="#1c87c4"/><circle class="r" cx="290.2" cy="472.2" r="4.15"/>
<circle cx="267.3" cy="476.7" r="3.15" fill="#46a8df"/><circle class="r" cx="267.3" cy="476.7" r="4.15"/>
<circle cx="325.0" cy="468.0" r="3.15" fill="#3197d1"/><circle class="r" cx="325.0" cy="468.0" r="4.15"/>
<circle cx="325.5" cy="477.5" r="3.15" fill="#3197d1"/><circle class="r" cx="325.5" cy="477.5" r="4.15"/>
<circle cx="253.1" cy="484.3" r="3.15" fill="#0079a8"/><circle class="r" cx="253.1" cy="484.3" r="4.15"/>
<circle cx="256.1" cy="488.0" r="3.15" fill="#1c87c4"/><circle class="r" cx="256.1" cy="488.0" r="4.15"/>
<circle cx="255.6" cy="493.8" r="3.15" fill="#46a8df"/><circle class="r" cx="255.6" cy="493.8" r="4.15"/>
<circle cx="256.6" cy="500.0" r="3.15" fill="#5ab3e5"/><circle class="r" cx="256.6" cy="500.0" r="4.15"/>
<circle cx="263.1" cy="494.3" r="3.15" fill="#5ab3e5"/><circle class="r" cx="263.1" cy="494.3" r="4.15"/>
<circle cx="264.8" cy="492.3" r="3.15" fill="#0777b6"/><circle class="r" cx="264.8" cy="492.3" r="4.15"/>
<circle cx="272.4" cy="490.0" r="3.15" fill="#6aacd1"/><circle class="r" cx="272.4" cy="490.0" r="4.15"/>
<circle cx="280.6" cy="486.3" r="3.15" fill="#46a8df"/><circle class="r" cx="280.6" cy="486.3" r="4.15"/>
<circle cx="280.6" cy="489.3" r="3.15" fill="#46a8df"/><circle class="r" cx="280.6" cy="489.3" r="4.15"/>
<circle cx="263.6" cy="504.8" r="3.15" fill="#1c87c4"/><circle class="r" cx="263.6" cy="504.8" r="4.15"/>
<circle cx="261.6" cy="511.1" r="3.15" fill="#46a8df"/><circle class="r" cx="261.6" cy="511.1" r="4.15"/>
<circle cx="264.8" cy="511.3" r="3.15" fill="#1c87c4"/><circle class="r" cx="264.8" cy="511.3" r="4.15"/>
<circle cx="267.3" cy="514.8" r="3.15" fill="#3197d1"/><circle class="r" cx="267.3" cy="514.8" r="4.15"/>
<circle cx="264.8" cy="517.3" r="3.15" fill="#1c87c4"/><circle class="r" cx="264.8" cy="517.3" r="4.15"/>
<circle cx="273.6" cy="524.4" r="3.15" fill="#3197d1"/><circle class="r" cx="273.6" cy="524.4" r="4.15"/>
<circle cx="308.2" cy="514.8" r="3.15" fill="#46a8df"/><circle class="r" cx="308.2" cy="514.8" r="4.15"/>
<circle cx="289.9" cy="542.4" r="3.15" fill="#3197d1"/><circle class="r" cx="289.9" cy="542.4" r="4.15"/>
<circle cx="293.2" cy="541.4" r="3.15" fill="#46a8df"/><circle class="r" cx="293.2" cy="541.4" r="4.15"/>
<circle cx="301.2" cy="551.9" r="3.15" fill="#46a8df"/><circle class="r" cx="301.2" cy="551.9" r="4.15"/>
<circle cx="333.3" cy="484.1" r="3.15" fill="#5ab3e5"/><circle class="r" cx="333.3" cy="484.1" r="4.15"/>
<circle cx="341.5" cy="501.1" r="3.15" fill="#5ab3e5"/><circle class="r" cx="341.5" cy="501.1" r="4.15"/>
<circle cx="345.8" cy="509.2" r="3.15" fill="#5ab3e5"/><circle class="r" cx="345.8" cy="509.2" r="4.15"/>
<circle cx="349.6" cy="527.2" r="3.15" fill="#46a8df"/><circle class="r" cx="349.6" cy="527.2" r="4.15"/>
<circle cx="356.3" cy="530.0" r="3.15" fill="#1c87c4"/><circle class="r" cx="356.3" cy="530.0" r="4.15"/>
<circle cx="357.1" cy="541.7" r="3.15" fill="#3197d1"/><circle class="r" cx="357.1" cy="541.7" r="4.15"/>
<circle cx="358.3" cy="549.3" r="3.15" fill="#3197d1"/><circle class="r" cx="358.3" cy="549.3" r="4.15"/>
<circle cx="350.3" cy="551.3" r="3.15" fill="#46a8df"/><circle class="r" cx="350.3" cy="551.3" r="4.15"/>
<circle cx="352.8" cy="552.3" r="3.15" fill="#46a8df"/><circle class="r" cx="352.8" cy="552.3" r="4.15"/>
<circle cx="358.8" cy="563.0" r="3.15" fill="#5ab3e5"/><circle class="r" cx="358.8" cy="563.0" r="4.15"/>
<circle cx="354.1" cy="570.1" r="3.15" fill="#5ab3e5"/><circle class="r" cx="354.1" cy="570.1" r="4.15"/>
<circle cx="337.8" cy="250.4" r="3.15" fill="#46a8df"/><circle class="r" cx="337.8" cy="250.4" r="4.15"/>
<circle cx="331.3" cy="28.0" r="3.15" fill="#1c87c4"/><circle class="r" cx="331.3" cy="28.0" r="4.15"/>
<circle cx="351.4" cy="29.3" r="3.15" fill="#3197d1"/><circle class="r" cx="351.4" cy="29.3" r="4.15"/>
<circle cx="366.4" cy="29.3" r="3.15" fill="#3197d1"/><circle class="r" cx="366.4" cy="29.3" r="4.15"/>
<circle cx="365.7" cy="36.0" r="3.15" fill="#5ab3e5"/><circle class="r" cx="365.7" cy="36.0" r="4.15"/>
<circle cx="352.1" cy="40.5" r="3.15" fill="#46a8df"/><circle class="r" cx="352.1" cy="40.5" r="4.15"/>
<circle cx="358.9" cy="41.8" r="3.15" fill="#5ab3e5"/><circle class="r" cx="358.9" cy="41.8" r="4.15"/>
<circle cx="361.4" cy="43.0" r="3.15" fill="#46a8df"/><circle class="r" cx="361.4" cy="43.0" r="4.15"/>
<circle cx="342.6" cy="46.0" r="3.15" fill="#1c87c4"/><circle class="r" cx="342.6" cy="46.0" r="4.15"/>
<circle cx="357.1" cy="46.8" r="3.15" fill="#5ab3e5"/><circle class="r" cx="357.1" cy="46.8" r="4.15"/>
<circle cx="356.4" cy="51.8" r="3.15" fill="#6aacd1"/><circle class="r" cx="356.4" cy="51.8" r="4.15"/>
<circle cx="365.7" cy="49.3" r="3.15" fill="#46a8df"/><circle class="r" cx="365.7" cy="49.3" r="4.15"/>
<circle cx="338.8" cy="53.6" r="3.15" fill="#6aacd1"/><circle class="r" cx="338.8" cy="53.6" r="4.15"/>
<circle cx="366.4" cy="60.6" r="3.15" fill="#3197d1"/><circle class="r" cx="366.4" cy="60.6" r="4.15"/>
<circle cx="371.4" cy="58.8" r="3.15" fill="#3197d1"/><circle class="r" cx="371.4" cy="58.8" r="4.15"/>
<circle cx="384.7" cy="53.1" r="3.15" fill="#0777b6"/><circle class="r" cx="384.7" cy="53.1" r="4.15"/>
<circle cx="386.5" cy="58.6" r="3.15" fill="#0777b6"/><circle class="r" cx="386.5" cy="58.6" r="4.15"/>
<circle cx="398.2" cy="35.0" r="3.15" fill="#1c87c4"/><circle class="r" cx="398.2" cy="35.0" r="4.15"/>
<circle cx="399.7" cy="47.5" r="3.15" fill="#0777b6"/><circle class="r" cx="399.7" cy="47.5" r="4.15"/>
<circle cx="350.1" cy="66.1" r="3.15" fill="#46a8df"/><circle class="r" cx="350.1" cy="66.1" r="4.15"/>
<circle cx="338.3" cy="68.6" r="3.15" fill="#8b9faa"/><circle class="r" cx="338.3" cy="68.6" r="4.15"/>
<circle cx="351.9" cy="76.1" r="3.15" fill="#46a8df"/><circle class="r" cx="351.9" cy="76.1" r="4.15"/>
<circle cx="361.7" cy="96.9" r="3.15" fill="#3197d1"/><circle class="r" cx="361.7" cy="96.9" r="4.15"/>
<circle cx="356.6" cy="100.7" r="3.15" fill="#3197d1"/><circle class="r" cx="356.6" cy="100.7" r="4.15"/>
<circle cx="352.1" cy="109.0" r="3.15" fill="#6aacd1"/><circle class="r" cx="352.1" cy="109.0" r="4.15"/>
<circle cx="362.7" cy="107.7" r="3.15" fill="#46a8df"/><circle class="r" cx="362.7" cy="107.7" r="4.15"/>
<circle cx="390.7" cy="110.2" r="3.15" fill="#1c87c4"/><circle class="r" cx="390.7" cy="110.2" r="4.15"/>
<circle cx="390.7" cy="118.2" r="3.15" fill="#3197d1"/><circle class="r" cx="390.7" cy="118.2" r="4.15"/>
<circle cx="384.0" cy="129.0" r="3.15" fill="#46a8df"/><circle class="r" cx="384.0" cy="129.0" r="4.15"/>
<circle cx="332.6" cy="120.7" r="3.15" fill="#5ab3e5"/><circle class="r" cx="332.6" cy="120.7" r="4.15"/>
<circle cx="335.1" cy="171.4" r="3.15" fill="#3197d1"/><circle class="r" cx="335.1" cy="171.4" r="4.15"/>
<circle cx="340.6" cy="180.4" r="3.15" fill="#46a8df"/><circle class="r" cx="340.6" cy="180.4" r="4.15"/>
<circle cx="363.9" cy="159.6" r="3.15" fill="#3197d1"/><circle class="r" cx="363.9" cy="159.6" r="4.15"/>
<circle cx="386.0" cy="162.1" r="3.15" fill="#5ab3e5"/><circle class="r" cx="386.0" cy="162.1" r="4.15"/>
<circle cx="373.4" cy="171.4" r="3.15" fill="#46a8df"/><circle class="r" cx="373.4" cy="171.4" r="4.15"/>
<circle cx="370.9" cy="187.9" r="3.15" fill="#6aacd1"/><circle class="r" cx="370.9" cy="187.9" r="4.15"/>
<circle cx="336.3" cy="198.4" r="3.15" fill="#46a8df"/><circle class="r" cx="336.3" cy="198.4" r="4.15"/>
<circle cx="328.8" cy="205.4" r="3.15" fill="#46a8df"/><circle class="r" cx="328.8" cy="205.4" r="4.15"/>
<circle cx="402.8" cy="194.7" r="3.15" fill="#46a8df"/><circle class="r" cx="402.8" cy="194.7" r="4.15"/>
</g></g>
<g clip-path="url(#c1)"><use href="#map" transform="translate(600,0)"/><g class="p" transform="translate(600,0)">
<circle cx="69.6" cy="32.5" r="3.15" fill="#a52a2a"/><circle class="r" cx="69.6" cy="32.5" r="4.15"/>
<circle cx="82.6" cy="33.5" r="3.15" fill="#a52a2a"/><circle class="r" cx="82.6" cy="33.5" r="4.15"/>
<circle cx="108.2" cy="37.5" r="3.15" fill="#ff0000"/><circle class="r" cx="108.2" cy="37.5" r="4.15"/>
<circle cx="97.4" cy="45.5" r="3.15" fill="#f21e2a"/><circle class="r" cx="97.4" cy="45.5" r="4.15"/>
<circle cx="87.6" cy="48.8" r="3.15" fill="#f21e2a"/><circle class="r" cx="87.6" cy="48.8" r="4.15"/>
<circle cx="76.1" cy="53.1" r="3.15" fill="#f21e2a"/><circle class="r" cx="76.1" cy="53.1" r="4.15"/>
<circle cx="77.4" cy="61.8" r="3.15" fill="#e63c54"/><circle class="r" cx="77.4" cy="61.8" r="4.15"/>
<circle cx="84.4" cy="60.6" r="3.15" fill="#d36321"/><circle class="r" cx="84.4" cy="60.6" r="4.15"/>
<circle cx="87.6" cy="57.6" r="3.15" fill="#d95b7d"/><circle class="r" cx="87.6" cy="57.6" r="4.15"/>
<circle cx="93.7" cy="65.6" r="3.15" fill="#cc79a7"/><circle class="r" cx="93.7" cy="65.6" r="4.15"/>
<circle cx="98.2" cy="77.4" r="3.15" fill="#d95b7d"/><circle class="r" cx="98.2" cy="77.4" r="4.15"/>
<circle cx="82.6" cy="80.1" r="3.15" fill="#f21e2a"/><circle class="r" cx="82.6" cy="80.1" r="4.15"/>
<circle cx="49.3" cy="75.6" r="3.15" fill="#f21e2a"/><circle class="r" cx="49.3" cy="75.6" r="4.15"/>
<circle cx="51.8" cy="72.6" r="3.15" fill="#f21e2a"/><circle class="r" cx="51.8" cy="72.6" r="4.15"/>
<circle cx="42.5" cy="86.9" r="3.15" fill="#d95b7d"/><circle class="r" cx="42.5" cy="86.9" r="4.15"/>
<circle cx="63.6" cy="93.2" r="3.15" fill="#e63c54"/><circle class="r" cx="63.6" cy="93.2" r="4.15"/>
<circle cx="49.8" cy="103.9" r="3.15" fill="#ff0000"/><circle class="r" cx="49.8" cy="103.9" r="4.15"/>
<circle cx="112.0" cy="110.0" r="3.15" fill="#f21e2a"/><circle class="r" cx="112.0" cy="110.0" r="4.15"/>
<circle cx="105.7" cy="110.7" r="3.15" fill="#ff0000"/><circle class="r" cx="105.7" cy="110.7" r="4.15"/>
<circle cx="100.7" cy="115.0" r="3.15" fill="#c91919"/><circle class="r" cx="100.7" cy="115.0" r="4.15"/>
<circle cx="108.2" cy="118.2" r="3.15" fill="#e63c54"/><circle class="r" cx="108.2" cy="118.2" r="4.15"/>
<circle cx="100.2" cy="124.5" r="3.15" fill="#e63c54"/><circle class="r" cx="100.2" cy="124.5" r="4.15"/>
<circle cx="78.6" cy="125.0" r="3.15" fill="#f21e2a"/><circle class="r" cx="78.6" cy="125.0" r="4.15"/>
<circle cx="70.6" cy="132.5" r="3.15" fill="#e63c54"/><circle class="r" cx="70.6" cy="132.5" r="4.15"/>
<circle cx="65.6" cy="138.3" r="3.15" fill="#ff0000"/><circle class="r" cx="65.6" cy="138.3" r="4.15"/>
<circle cx="58.1" cy="133.3" r="3.15" fill="#c91919"/><circle class="r" cx="58.1" cy="133.3" r="4.15"/>
<circle cx="58.6" cy="129.0" r="3.15" fill="#ff0000"/><circle class="r" cx="58.6" cy="129.0" r="4.15"/>
<circle cx="50.6" cy="128.3" r="3.15" fill="#c91919"/><circle class="r" cx="50.6" cy="128.3" r="4.15"/>
<circle cx="46.8" cy="132.0" r="3.15" fill="#ff0000"/><circle class="r" cx="46.8" cy="132.0" r="4.15"/>
<circle cx="103.2" cy="137.5" r="3.15" fill="#e69f00"/><circle class="r" cx="103.2" cy="137.5" r="4.15"/>
<circle cx="127.5" cy="134.5" r="3.15" fill="#e8ad0d"/><circle class="r" cx="127.5" cy="134.5" r="4.15"/>
<circle cx="140.0" cy="125.7" r="3.15" fill="#dc7800"/><circle class="r" cx="140.0" cy="125.7" r="4.15"/>
<circle cx="141.5" cy="118.2" r="3.15" fill="#d16943"/><circle class="r" cx="141.5" cy="118.2" r="4.15"/>
<circle cx="143.3" cy="155.8" r="3.15" fill="#d55e00"/><circle class="r" cx="143.3" cy="155.8" r="4.15"/>
<circle cx="96.2" cy="160.3" r="3.15" fill="#df8500"/><circle class="r" cx="96.2" cy="160.3" r="4.15"/>
<circle cx="95.2" cy="163.8" r="3.15" fill="#df8500"/><circle class="r" cx="95.2" cy="163.8" r="4.15"/>
<circle cx="62.3" cy="172.6" r="3.15" fill="#cc79a7"/><circle class="r" cx="62.3" cy="172.6" r="4.15"/>
<circle cx="86.1" cy="177.9" r="3.15" fill="#d16943"/><circle class="r" cx="86.1" cy="177.9" r="4.15"/>
<circle cx="29.0" cy="166.6" r="3.15" fill="#e39200"/><circle class="r" cx="29.0" cy="166.6" r="4.15"/>
<circle cx="85.1" cy="193.4" r="3.15" fill="#d86b00"/><circle class="r" cx="85.1" cy="193.4" r="4.15"/>
<circle cx="84.4" cy="198.4" r="3.15" fill="#d16943"/><circle class="r" cx="84.4" cy="198.4" r="4.15"/>
<circle cx="97.4" cy="200.9" r="3.15" fill="#cc79a7"/><circle class="r" cx="97.4" cy="200.9" r="4.15"/>
<circle cx="114.5" cy="200.2" r="3.15" fill="#d16943"/><circle class="r" cx="114.5" cy="200.2" r="4.15"/>
<circle cx="71.9" cy="208.5" r="3.15" fill="#e69f00"/><circle class="r" cx="71.9" cy="208.5" r="4.15"/>
<circle cx="126.2" cy="53.1" r="3.15" fill="#d86b00"/><circle class="r" cx="126.2" cy="53.1" r="4.15"/>
<circle cx="142.0" cy="41.0" r="3.15" fill="#d86b00"/><circle class="r" cx="142.0" cy="41.0" r="4.15"/>
<circle cx="152.1" cy="43.0" r="3.15" fill="#d86b00"/><circle class="r" cx="152.1" cy="43.0" r="4.15"/>
<circle cx="147.0" cy="49.3" r="3.15" fill="#d06e64"/><circle class="r" cx="147.0" cy="49.3" r="4.15"/>
<circle cx="143.8" cy="52.6" r="3.15" fill="#d86b00"/><circle class="r" cx="143.8" cy="52.6" r="4.15"/>
<circle cx="162.6" cy="49.3" r="3.15" fill="#e8ad0d"/><circle class="r" cx="162.6" cy="49.3" r="4.15"/>
<circle cx="127.5" cy="64.3" r="3.15" fill="#d86b00"/><circle class="r" cx="127.5" cy="64.3" r="4.15"/>
<circle cx="137.0" cy="62.6" r="3.15" fill="#d86b00"/><circle class="r" cx="137.0" cy="62.6" r="4.15"/>
<circle cx="143.3" cy="66.1" r="3.15" fill="#d86b00"/><circle class="r" cx="143.3" cy="66.1" r="4.15"/>
<circle cx="133.3" cy="69.4" r="3.15" fill="#e39200"/><circle class="r" cx="133.3" cy="69.4" r="4.15"/>
<circle cx="139.5" cy="73.1" r="3.15" fill="#dc7800"/><circle class="r" cx="139.5" cy="73.1" r="4.15"/>
<circle cx="130.3" cy="76.1" r="3.15" fill="#d86b00"/><circle class="r" cx="130.3" cy="76.1" r="4.15"/>
<circle cx="135.8" cy="78.9" r="3.15" fill="#cc79a7"/><circle class="r" cx="135.8" cy="78.9" r="4.15"/>
<circle cx="147.0" cy="78.9" r="3.15" fill="#d86b00"/><circle class="r" cx="147.0" cy="78.9" r="4.15"/>
<circle cx="138.3" cy="82.6" r="3.15" fill="#c91919"/><circle class="r" cx="138.3" cy="82.6" r="4.15"/>
<circle cx="130.8" cy="86.1" r="3.15" fill="#ce7486"/><circle class="r" cx="130.8" cy="86.1" r="4.15"/>
<circle cx="155.3" cy="64.8" r="3.15" fill="#dc7800"/><circle class="r" cx="155.3" cy="64.8" r="4.15"/>
<circle cx="171.4" cy="28.5" r="3.15" fill="#cc79a7"/><circle class="r" cx="171.4" cy="28.5" r="4.15"/>
<circle cx="182.9" cy="28.8" r="3.15" fill="#dc7800"/><circle class="r" cx="182.9" cy="28.8" r="4.15"/>
<circle cx="175.9" cy="36.0" r="3.15" fill="#cc79a7"/><circle class="r" cx="175.9" cy="36.0" r="4.15"/>
<circle cx="180.9" cy="35.3" r="3.15" fill="#dc7800"/><circle class="r" cx="180.9" cy="35.3" r="4.15"/>
<circle cx="182.1" cy="40.0" r="3.15" fill="#d06e64"/><circle class="r" cx="182.1" cy="40.0" r="4.15"/>
<circle cx="191.4" cy="36.0" r="3.15" fill="#cc79a7"/><circle class="r" cx="191.4" cy="36.0" r="4.15"/>
<circle cx="267.6" cy="28.5" r="3.15" fill="#ece584"/><circle class="r" cx="267.6" cy="28.5" r="4.15"/>
<circle cx="224.0" cy="33.5" r="3.15" fill="#dc7800"/><circle class="r" cx="224.0" cy="33.5" r="4.15"/>
<circle cx="223.5" cy="53.1" r="3.15" fill="#ce7486"/><circle class="r" cx="223.5" cy="53.1" r="4.15"/>
<circle cx="221.5" cy="58.1" r="3.15" fill="#cc79a7"/><circle class="r" cx="221.5" cy="58.1" r="4.15"/>
<circle cx="192.2" cy="93.7" r="3.15" fill="#d86b00"/><circle class="r" cx="192.2" cy="93.7" r="4.15"/>
<circle cx="194.7" cy="95.7" r="3.15" fill="#d86b00"/><circle class="r" cx="194.7" cy="95.7" r="4.15"/>
<circle cx="201.4" cy="96.4" r="3.15" fill="#ce7486"/><circle class="r" cx="201.4" cy="96.4" r="4.15"/>
<circle cx="185.9" cy="105.7" r="3.15" fill="#d95b7d"/><circle class="r" cx="185.9" cy="105.7" r="4.15"/>
<circle cx="185.4" cy="117.7" r="3.15" fill="#cc79a7"/><circle class="r" cx="185.4" cy="117.7" r="4.15"/>
<circle cx="203.9" cy="131.5" r="3.15" fill="#e39200"/><circle class="r" cx="203.9" cy="131.5" r="4.15"/>
<circle cx="184.6" cy="142.5" r="3.15" fill="#dc7800"/><circle class="r" cx="184.6" cy="142.5" r="4.15"/>
<circle cx="226.0" cy="94.9" r="3.15" fill="#d16943"/><circle class="r" cx="226.0" cy="94.9" r="4.15"/>
<circle cx="258.1" cy="106.4" r="3.15" fill="#e69f00"/><circle class="r" cx="258.1" cy="106.4" r="4.15"/>
<circle cx="246.5" cy="147.5" r="3.15" fill="#e39200"/><circle class="r" cx="246.5" cy="147.5" r="4.15"/>
<circle cx="212.2" cy="165.8" r="3.15" fill="#19a775"/><circle class="r" cx="212.2" cy="165.8" r="4.15"/>
<circle cx="172.1" cy="170.4" r="3.15" fill="#eed635"/><circle class="r" cx="172.1" cy="170.4" r="4.15"/>
<circle cx="170.9" cy="175.9" r="3.15" fill="#ecc828"/><circle class="r" cx="170.9" cy="175.9" r="4.15"/>
<circle cx="255.6" cy="33.0" r="3.15" fill="#e39200"/><circle class="r" cx="255.6" cy="33.0" r="4.15"/>
<circle cx="266.8" cy="37.5" r="3.15" fill="#f0e442"/><circle class="r" cx="266.8" cy="37.5" r="4.15"/>
<circle cx="278.6" cy="56.8" r="3.15" fill="#e69f00"/><circle class="r" cx="278.6" cy="56.8" r="4.15"/>
<circle cx="292.4" cy="30.5" r="3.15" fill="#e39200"/><circle class="r" cx="292.4" cy="30.5" r="4.15"/>
<circle cx="307.4" cy="74.9" r="3.15" fill="#eabb1a"/><circle class="r" cx="307.4" cy="74.9" r="4.15"/>
<circle cx="318.2" cy="70.6" r="3.15" fill="#91d291"/><circle class="r" cx="318.2" cy="70.6" r="4.15"/>
<circle cx="320.0" cy="87.6" r="3.15" fill="#df8500"/><circle class="r" cx="320.0" cy="87.6" r="4.15"/>
<circle cx="293.7" cy="110.7" r="3.15" fill="#dc7800"/><circle class="r" cx="293.7" cy="110.7" r="4.15"/>
<circle cx="284.9" cy="125.2" r="3.15" fill="#eed635"/><circle class="r" cx="284.9" cy="125.2" r="4.15"/>
<circle cx="267.3" cy="127.5" r="3.15" fill="#ece584"/><circle class="r" cx="267.3" cy="127.5" r="4.15"/>
<circle cx="323.7" cy="33.0" r="3.15" fill="#eed635"/><circle class="r" cx="323.7" cy="33.0" r="4.15"/>
<circle cx="292.4" cy="162.1" r="3.15" fill="#e8ad0d"/><circle class="r" cx="292.4" cy="162.1" r="4.15"/>
<circle cx="304.4" cy="159.1" r="3.15" fill="#e69f00"/><circle class="r" cx="304.4" cy="159.1" r="4.15"/>
<circle cx="315.7" cy="157.6" r="3.15" fill="#df8500"/><circle class="r" cx="315.7" cy="157.6" r="4.15"/>
<circle cx="295.7" cy="168.9" r="3.15" fill="#eed635"/><circle class="r" cx="295.7" cy="168.9" r="4.15"/>
<circle cx="283.6" cy="171.4" r="3.15" fill="#ecc828"/><circle class="r" cx="283.6" cy="171.4" r="4.15"/>
<circle cx="279.9" cy="174.6" r="3.15" fill="#eabb1a"/><circle class="r" cx="279.9" cy="174.6" r="4.15"/>
<circle cx="323.7" cy="166.3" r="3.15" fill="#ece584"/><circle class="r" cx="323.7" cy="166.3" r="4.15"/>
<circle cx="326.2" cy="160.8" r="3.15" fill="#ece584"/><circle class="r" cx="326.2" cy="160.8" r="4.15"/>
<circle cx="231.5" cy="185.9" r="3.15" fill="#ecc828"/><circle class="r" cx="231.5" cy="185.9" r="4.15"/>
<circle cx="244.0" cy="185.1" r="3.15" fill="#e39200"/><circle class="r" cx="244.0" cy="185.1" r="4.15"/>
<circle cx="254.8" cy="184.1" r="3.15" fill="#dc7800"/><circle class="r" cx="254.8" cy="184.1" r="4.15"/>
<circle cx="223.0" cy="195.2" r="3.15" fill="#f0e442"/><circle class="r" cx="223.0" cy="195.2" r="4.15"/>
<circle cx="281.6" cy="193.4" r="3.15" fill="#f0e442"/><circle class="r" cx="281.6" cy="193.4" r="4.15"/>
<circle cx="301.2" cy="200.9" r="3.15" fill="#f0e442"/><circle class="r" cx="301.2" cy="200.9" r="4.15"/>
<circle cx="254.8" cy="202.2" r="3.15" fill="#d86b00"/><circle class="r" cx="254.8" cy="202.2" r="4.15"/>
<circle cx="270.6" cy="207.4" r="3.15" fill="#d55e00"/><circle class="r" cx="270.6" cy="207.4" r="4.15"/>
<circle cx="272.6" cy="204.2" r="3.15" fill="#df8500"/><circle class="r" cx="272.6" cy="204.2" r="4.15"/>
<circle cx="179.6" cy="188.4" r="3.15" fill="#e69f00"/><circle class="r" cx="179.6" cy="188.4" r="4.15"/>
<circle cx="175.9" cy="190.4" r="3.15" fill="#e69f00"/><circle class="r" cx="175.9" cy="190.4" r="4.15"/>
<circle cx="172.1" cy="192.9" r="3.15" fill="#e39200"/><circle class="r" cx="172.1" cy="192.9" r="4.15"/>
<circle cx="161.3" cy="196.7" r="3.15" fill="#eed635"/><circle class="r" cx="161.3" cy="196.7" r="4.15"/>
<circle cx="159.1" cy="206.7" r="3.15" fill="#ecc828"/><circle class="r" cx="159.1" cy="206.7" r="4.15"/>
<circle cx="171.4" cy="208.5" r="3.15" fill="#ece584"/><circle class="r" cx="171.4" cy="208.5" r="4.15"/>
<circle cx="177.1" cy="209.0" r="3.15" fill="#e39200"/><circle class="r" cx="177.1" cy="209.0" r="4.15"/>
<circle cx="181.4" cy="204.2" r="3.15" fill="#a6d7a6"/><circle class="r" cx="181.4" cy="204.2" r="4.15"/>
<circle cx="185.9" cy="208.5" r="3.15" fill="#eae5a4"/><circle class="r" cx="185.9" cy="208.5" r="4.15"/>
<circle cx="188.4" cy="214.0" r="3.15" fill="#df8500"/><circle class="r" cx="188.4" cy="214.0" r="4.15"/>
<circle cx="198.4" cy="205.9" r="3.15" fill="#eabb1a"/><circle class="r" cx="198.4" cy="205.9" r="4.15"/>
<circle cx="203.4" cy="208.5" r="3.15" fill="#df8500"/><circle class="r" cx="203.4" cy="208.5" r="4.15"/>
<circle cx="214.0" cy="206.4" r="3.15" fill="#dc7800"/><circle class="r" cx="214.0" cy="206.4" r="4.15"/>
<circle cx="209.0" cy="212.2" r="3.15" fill="#eed635"/><circle class="r" cx="209.0" cy="212.2" r="4.15"/>
<circle cx="135.8" cy="228.0" r="3.15" fill="#e69f00"/><circle class="r" cx="135.8" cy="228.0" r="4.15"/>
<circle cx="137.0" cy="233.5" r="3.15" fill="#f0e442"/><circle class="r" cx="137.0" cy="233.5" r="4.15"/>
<circle cx="178.4" cy="221.5" r="3.15" fill="#eed635"/><circle class="r" cx="178.4" cy="221.5" r="4.15"/>
<circle cx="190.9" cy="227.3" r="3.15" fill="#cc79a7"/><circle class="r" cx="190.9" cy="227.3" r="4.15"/>
<circle cx="233.5" cy="223.0" r="3.15" fill="#d16943"/><circle class="r" cx="233.5" cy="223.0" r="4.15"/>
<circle cx="260.6" cy="219.0" r="3.15" fill="#d86b00"/><circle class="r" cx="260.6" cy="219.0" r="4.15"/>
<circle cx="271.1" cy="219.8" r="3.15" fill="#d55e00"/><circle class="r" cx="271.1" cy="219.8" r="4.15"/>
<circle cx="280.6" cy="216.8" r="3.15" fill="#eabb1a"/><circle class="r" cx="280.6" cy="216.8" r="4.15"/>
<circle cx="294.2" cy="227.3" r="3.15" fill="#df8500"/><circle class="r" cx="294.2" cy="227.3" r="4.15"/>
<circle cx="310.7" cy="236.8" r="3.15" fill="#e8ad0d"/><circle class="r" cx="310.7" cy="236.8" r="4.15"/>
<circle cx="229.3" cy="233.5" r="3.15" fill="#d36321"/><circle class="r" cx="229.3" cy="233.5" r="4.15"/>
<circle cx="212.7" cy="240.6" r="3.15" fill="#d55e00"/><circle class="r" cx="212.7" cy="240.6" r="4.15"/>
<circle cx="155.3" cy="243.1" r="3.15" fill="#df8500"/><circle class="r" cx="155.3" cy="243.1" r="4.15"/>
<circle cx="132.5" cy="258.1" r="3.15" fill="#df8500"/><circle class="r" cx="132.5" cy="258.1" r="4.15"/>
<circle cx="88.7" cy="251.8" r="3.15" fill="#cc79a7"/><circle class="r" cx="88.7" cy="251.8" r="4.15"/>
<circle cx="94.2" cy="254.6" r="3.15" fill="#ce7486"/><circle class="r" cx="94.2" cy="254.6" r="4.15"/>
<circle cx="83.1" cy="261.9" r="3.15" fill="#e63c54"/><circle class="r" cx="83.1" cy="261.9" r="4.15"/>
<circle cx="115.2" cy="267.4" r="3.15" fill="#eed635"/><circle class="r" cx="115.2" cy="267.4" r="4.15"/>
<circle cx="114.5" cy="282.4" r="3.15" fill="#d06e64"/><circle class="r" cx="114.5" cy="282.4" r="4.15"/>
<circle cx="86.9" cy="289.4" r="3.15" fill="#d36321"/><circle class="r" cx="86.9" cy="289.4" r="4.15"/>
<circle cx="100.7" cy="297.5" r="3.15" fill="#d95b7d"/><circle class="r" cx="100.7" cy="297.5" r="4.15"/>
<circle cx="88.9" cy="301.2" r="3.15" fill="#df8500"/><circle class="r" cx="88.9" cy="301.2" r="4.15"/>
<circle cx="86.9" cy="307.5" r="3.15" fill="#e8ad0d"/><circle class="r" cx="86.9" cy="307.5" r="4.15"/>
<circle cx="175.1" cy="256.1" r="3.15" fill="#d95b7d"/><circle class="r" cx="175.1" cy="256.1" r="4.15"/>
<circle cx="160.1" cy="271.9" r="3.15" fill="#d06e64"/><circle class="r" cx="160.1" cy="271.9" r="4.15"/>
<circle cx="177.1" cy="271.6" r="3.15" fill="#d16943"/><circle class="r" cx="177.1" cy="271.6" r="4.15"/>
<circle cx="200.4" cy="269.9" r="3.15" fill="#e63c54"/><circle class="r" cx="200.4" cy="269.9" r="4.15"/>
<circle cx="155.8" cy="282.9" r="3.15" fill="#d36321"/><circle class="r" cx="155.8" cy="282.9" r="4.15"/>
<circle cx="169.1" cy="282.2" r="3.15" fill="#d16943"/><circle class="r" cx="169.1" cy="282.2" r="4.15"/>
<circle cx="179.1" cy="285.7" r="3.15" fill="#d95b7d"/><circle class="r" cx="179.1" cy="285.7" r="4.15"/>
<circle cx="177.1" cy="291.7" r="3.15" fill="#e63c54"/><circle class="r" cx="177.1" cy="291.7" r="4.15"/>
<circle cx="170.4" cy="303.0" r="3.15" fill="#d86b00"/><circle class="r" cx="170.4" cy="303.0" r="4.15"/>
<circle cx="200.4" cy="313.2" r="3.15" fill="#d36321"/><circle class="r" cx="200.4" cy="313.2" r="4.15"/>
<circle cx="273.6" cy="251.1" r="3.15" fill="#cc79a7"/><circle class="r" cx="273.6" cy="251.1" r="4.15"/>
<circle cx="276.1" cy="248.6" r="3.15" fill="#d55e00"/><circle class="r" cx="276.1" cy="248.6" r="4.15"/>
<circle cx="281.6" cy="260.6" r="3.15" fill="#f21e2a"/><circle class="r" cx="281.6" cy="260.6" r="4.15"/>
<circle cx="248.1" cy="269.1" r="3.15" fill="#d06e64"/><circle class="r" cx="248.1" cy="269.1" r="4.15"/>
<circle cx="240.5" cy="276.4" r="3.15" fill="#cc79a7"/><circle class="r" cx="240.5" cy="276.4" r="4.15"/>
<circle cx="245.0" cy="282.2" r="3.15" fill="#d06e64"/><circle class="r" cx="245.0" cy="282.2" r="4.15"/>
<circle cx="252.8" cy="283.7" r="3.15" fill="#d86b00"/><circle class="r" cx="252.8" cy="283.7" r="4.15"/>
<circle cx="309.5" cy="280.2" r="3.15" fill="#cc79a7"/><circle class="r" cx="309.5" cy="280.2" r="4.15"/>
<circle cx="323.2" cy="286.9" r="3.15" fill="#eed635"/><circle class="r" cx="323.2" cy="286.9" r="4.15"/>
<circle cx="284.9" cy="328.0" r="3.15" fill="#d86b00"/><circle class="r" cx="284.9" cy="328.0" r="4.15"/>
<circle cx="156.3" cy="330.0" r="3.15" fill="#dc7800"/><circle class="r" cx="156.3" cy="330.0" r="4.15"/>
<circle cx="155.3" cy="333.3" r="3.15" fill="#df8500"/><circle class="r" cx="155.3" cy="333.3" r="4.15"/>
<circle cx="187.9" cy="347.8" r="3.15" fill="#dc7800"/><circle class="r" cx="187.9" cy="347.8" r="4.15"/>
<circle cx="35.0" cy="349.6" r="3.15" fill="#eed635"/><circle class="r" cx="35.0" cy="349.6" r="4.15"/>
<circle cx="29.3" cy="277.4" r="3.15" fill="#df8500"/><circle class="r" cx="29.3" cy="277.4" r="4.15"/>
<circle cx="276.1" cy="364.6" r="3.15" fill="#eabb1a"/><circle class="r" cx="276.1" cy="364.6" r="4.15"/>
<circle cx="143.3" cy="396.5" r="3.15" fill="#eee463"/><circle class="r" cx="143.3" cy="396.5" r="4.15"/>
<circle cx="270.4" cy="395.9" r="3.15" fill="#d06e64"/><circle class="r" cx="270.4" cy="395.9" r="4.15"/>
<circle cx="283.6" cy="399.0" r="3.15" fill="#dc7800"/><circle class="r" cx="283.6" cy="399.0" r="4.15"/>
<circle cx="61.8" cy="408.6" r="3.15" fill="#d95b7d"/><circle class="r" cx="61.8" cy="408.6" r="4.15"/>
<circle cx="69.9" cy="418.3" r="3.15" fill="#ff0000"/><circle class="r" cx="69.9" cy="418.3" r="4.15"/>
<circle cx="31.8" cy="425.9" r="3.15" fill="#df8500"/><circle class="r" cx="31.8" cy="425.9" r="4.15"/>
<circle cx="48.6" cy="424.9" r="3.15" fill="#d55e00"/><circle class="r" cx="48.6" cy="424.9" r="4.15"/>
<circle cx="91.9" cy="414.8" r="3.15" fill="#d16943"/><circle class="r" cx="91.9" cy="414.8" r="4.15"/>
<circle cx="90.7" cy="421.1" r="3.15" fill="#d86b00"/><circle class="r" cx="90.7" cy="421.1" r="4.15"/>
<circle cx="99.4" cy="419.1" r="3.15" fill="#dc7800"/><circle class="r" cx="99.4" cy="419.1" r="4.15"/>
<circle cx="142.8" cy="424.1" r="3.15" fill="#eed635"/><circle class="r" cx="142.8" cy="424.1" r="4.15"/>
<circle cx="167.6" cy="422.1" r="3.15" fill="#e8ad0d"/><circle class="r" cx="167.6" cy="422.1" r="4.15"/>
<circle cx="187.4" cy="406.6" r="3.15" fill="#df8500"/><circle class="r" cx="187.4" cy="406.6" r="4.15"/>
<circle cx="195.4" cy="418.6" r="3.15" fill="#d86b00"/><circle class="r" cx="195.4" cy="418.6" r="4.15"/>
<circle cx="245.5" cy="408.1" r="3.15" fill="#d86b00"/><circle class="r" cx="245.5" cy="408.1" r="4.15"/>
<circle cx="251.1" cy="406.1" r="3.15" fill="#d06e64"/><circle class="r" cx="251.1" cy="406.1" r="4.15"/>
<circle cx="261.1" cy="429.1" r="3.15" fill="#d55e00"/><circle class="r" cx="261.1" cy="429.1" r="4.15"/>
<circle cx="267.3" cy="443.1" r="3.15" fill="#dc7800"/><circle class="r" cx="267.3" cy="443.1" r="4.15"/>
<circle cx="269.1" cy="443.6" r="3.15" fill="#dc7800"/><circle class="r" cx="269.1" cy="443.6" r="4.15"/>
<circle cx="294.4" cy="426.6" r="3.15" fill="#eabb1a"/><circle class="r" cx="294.4" cy="426.6" r="4.15"/>
<circle cx="303.7" cy="436.1" r="3.15" fill="#eabb1a"/><circle class="r" cx="303.7" cy="436.1" r="4.15"/>
<circle cx="298.7" cy="454.9" r="3.15" fill="#dc7800"/><circle class="r" cx="298.7" cy="454.9" r="4.15"/>
<circle cx="297.4" cy="461.2" r="3.15" fill="#e6e6e6"/><circle class="r" cx="297.4" cy="461.2" r="4.15"/>
<circle cx="297.7" cy="467.2" r="3.15" fill="#f0e442"/><circle class="r" cx="297.7" cy="467.2" r="4.15"/>
<circle cx="286.1" cy="466.0" r="3.15" fill="#e39200"/><circle class="r" cx="286.1" cy="466.0" r="4.15"/>
<circle cx="290.2" cy="472.2" r="3.15" fill="#e69f00"/><circle class="r" cx="290.2" cy="472.2" r="4.15"/>
<circle cx="267.3" cy="476.7" r="3.15" fill="#e69f00"/><circle class="r" cx="267.3" cy="476.7" r="4.15"/>
<circle cx="325.0" cy="468.0" r="3.15" fill="#eabb1a"/><circle class="r" cx="325.0" cy="468.0" r="4.15"/>
<circle cx="325.5" cy="477.5" r="3.15" fill="#eabb1a"/><circle class="r" cx="325.5" cy="477.5" r="4.15"/>
<circle cx="253.1" cy="484.3" r="3.15" fill="#eed635"/><circle class="r" cx="253.1" cy="484.3" r="4.15"/>
<circle cx="256.1" cy="488.0" r="3.15" fill="#dc7800"/><circle class="r" cx="256.1" cy="488.0" r="4.15"/>
<circle cx="255.6" cy="493.8" r="3.15" fill="#d16943"/><circle class="r" cx="255.6" cy="493.8" r="4.15"/>
<circle cx="256.6" cy="500.0" r="3.15" fill="#cc79a7"/><circle class="r" cx="256.6" cy="500.0" r="4.15"/>
<circle cx="263.1" cy="494.3" r="3.15" fill="#ce7486"/><circle class="r" cx="263.1" cy="494.3" r="4.15"/>
<circle cx="264.8" cy="492.3" r="3.15" fill="#eed635"/><circle class="r" cx="264.8" cy="492.3" r="4.15"/>
<circle cx="272.4" cy="490.0" r="3.15" fill="#d06e64"/><circle class="r" cx="272.4" cy="490.0" r="4.15"/>
<circle cx="280.6" cy="486.3" r="3.15" fill="#d86b00"/><circle class="r" cx="280.6" cy="486.3" r="4.15"/>
<circle cx="280.6" cy="489.3" r="3.15" fill="#d86b00"/><circle class="r" cx="280.6" cy="489.3" r="4.15"/>
<circle cx="263.6" cy="504.8" r="3.15" fill="#dc7800"/><circle class="r" cx="263.6" cy="504.8" r="4.15"/>
<circle cx="261.6" cy="511.1" r="3.15" fill="#cc79a7"/><circle class="r" cx="261.6" cy="511.1" r="4.15"/>
<circle cx="264.8" cy="511.3" r="3.15" fill="#d86b00"/><circle class="r" cx="264.8" cy="511.3" r="4.15"/>
<circle cx="267.3" cy="514.8" r="3.15" fill="#eabb1a"/><circle class="r" cx="267.3" cy="514.8" r="4.15"/>
<circle cx="264.8" cy="517.3" r="3.15" fill="#eabb1a"/><circle class="r" cx="264.8" cy="517.3" r="4.15"/>
<circle cx="273.6" cy="524.4" r="3.15" fill="#eabb1a"/><circle class="r" cx="273.6" cy="524.4" r="4.15"/>
<circle cx="308.2" cy="514.8" r="3.15" fill="#eabb1a"/><circle class="r" cx="308.2" cy="514.8" r="4.15"/>
<circle cx="289.9" cy="542.4" r="3.15" fill="#e69f00"/><circle class="r" cx="289.9" cy="542.4" r="4.15"/>
<circle cx="293.2" cy="541.4" r="3.15" fill="#e69f00"/><circle class="r" cx="293.2" cy="541.4" r="4.15"/>
<circle cx="301.2" cy="551.9" r="3.15" fill="#e69f00"/><circle class="r" cx="301.2" cy="551.9" r="4.15"/>
<circle cx="333.3" cy="484.1" r="3.15" fill="#e8ad0d"/><circle class="r" cx="333.3" cy="484.1" r="4.15"/>
<circle cx="341.5" cy="501.1" r="3.15" fill="#e8ad0d"/><circle class="r" cx="341.5" cy="501.1" r="4.15"/>
<circle cx="345.8" cy="509.2" r="3.15" fill="#e8ad0d"/><circle class="r" cx="345.8" cy="509.2" r="4.15"/>
<circle cx="349.6" cy="527.2" r="3.15" fill="#e8ad0d"/><circle class="r" cx="349.6" cy="527.2" r="4.15"/>
<circle cx="356.3" cy="530.0" r="3.15" fill="#eabb1a"/><circle class="r" cx="356.3" cy="530.0" r="4.15"/>
<circle cx="357.1" cy="541.7" r="3.15" fill="#e69f00"/><circle class="r" cx="357.1" cy="541.7" r="4.15"/>
<circle cx="358.3" cy="549.3" r="3.15" fill="#e39200"/><circle class="r" cx="358.3" cy="549.3" r="4.15"/>
<circle cx="350.3" cy="551.3" r="3.15" fill="#d55e00"/><circle class="r" cx="350.3" cy="551.3" r="4.15"/>
<circle cx="352.8" cy="552.3" r="3.15" fill="#df8500"/><circle class="r" cx="352.8" cy="552.3" r="4.15"/>
<circle cx="358.8" cy="563.0" r="3.15" fill="#dc7800"/><circle class="r" cx="358.8" cy="563.0" r="4.15"/>
<circle cx="354.1" cy="570.1" r="3.15" fill="#eed635"/><circle class="r" cx="354.1" cy="570.1" r="4.15"/>
<circle cx="337.8" cy="250.4" r="3.15" fill="#eee463"/><circle class="r" cx="337.8" cy="250.4" r="4.15"/>
<circle cx="331.3" cy="28.0" r="3.15" fill="#4aba78"/><circle class="r" cx="331.3" cy="28.0" r="4.15"/>
<circle cx="351.4" cy="29.3" r="3.15" fill="#ece584"/><circle class="r" cx="351.4" cy="29.3" r="4.15"/>
<circle cx="366.4" cy="29.3" r="3.15" fill="#eed635"/><circle class="r" cx="366.4" cy="29.3" r="4.15"/>
<circle cx="365.7" cy="36.0" r="3.15" fill="#dc7800"/><circle class="r" cx="365.7" cy="36.0" r="4.15"/>
<circle cx="352.1" cy="40.5" r="3.15" fill="#eabb1a"/><circle class="r" cx="352.1" cy="40.5" r="4.15"/>
<circle cx="358.9" cy="41.8" r="3.15" fill="#e69f00"/><circle class="r" cx="358.9" cy="41.8" r="4.15"/>
<circle cx="361.4" cy="43.0" r="3.15" fill="#ecc828"/><circle class="r" cx="361.4" cy="43.0" r="4.15"/>
<circle cx="342.6" cy="46.0" r="3.15" fill="#e6e6e6"/><circle class="r" cx="342.6" cy="46.0" r="4.15"/>
<circle cx="357.1" cy="46.8" r="3.15" fill="#e39200"/><circle class="r" cx="357.1" cy="46.8" r="4.15"/>
<circle cx="356.4" cy="51.8" r="3.15" fill="#dc7800"/><circle class="r" cx="356.4" cy="51.8" r="4.15"/>
<circle cx="365.7" cy="49.3" r="3.15" fill="#e69f00"/><circle class="r" cx="365.7" cy="49.3" r="4.15"/>
<circle cx="338.8" cy="53.6" r="3.15" fill="#eed635"/><circle class="r" cx="338.8" cy="53.6" r="4.15"/>
<circle cx="366.4" cy="60.6" r="3.15" fill="#e69f00"/><circle class="r" cx="366.4" cy="60.6" r="4.15"/>
<circle cx="371.4" cy="58.8" r="3.15" fill="#e69f00"/><circle class="r" cx="371.4" cy="58.8" r="4.15"/>
<circle cx="384.7" cy="53.1" r="3.15" fill="#e69f00"/><circle class="r" cx="384.7" cy="53.1" r="4.15"/>
<circle cx="386.5" cy="58.6" r="3.15" fill="#e8ad0d"/><circle class="r" cx="386.5" cy="58.6" r="4.15"/>
<circle cx="398.2" cy="35.0" r="3.15" fill="#eed635"/><circle class="r" cx="398.2" cy="35.0" r="4.15"/>
<circle cx="399.7" cy="47.5" r="3.15" fill="#eee463"/><circle class="r" cx="399.7" cy="47.5" r="4.15"/>
<circle cx="350.1" cy="66.1" r="3.15" fill="#ecc828"/><circle class="r" cx="350.1" cy="66.1" r="4.15"/>
<circle cx="338.3" cy="68.6" r="3.15" fill="#d86b00"/><circle class="r" cx="338.3" cy="68.6" r="4.15"/>
<circle cx="351.9" cy="76.1" r="3.15" fill="#eabb1a"/><circle class="r" cx="351.9" cy="76.1" r="4.15"/>
<circle cx="361.7" cy="96.9" r="3.15" fill="#e8ad0d"/><circle class="r" cx="361.7" cy="96.9" r="4.15"/>
<circle cx="356.6" cy="100.7" r="3.15" fill="#e8ad0d"/><circle class="r" cx="356.6" cy="100.7" r="4.15"/>
<circle cx="352.1" cy="109.0" r="3.15" fill="#e8ad0d"/><circle class="r" cx="352.1" cy="109.0" r="4.15"/>
<circle cx="362.7" cy="107.7" r="3.15" fill="#d86b00"/><circle class="r" cx="362.7" cy="107.7" r="4.15"/>
<circle cx="390.7" cy="110.2" r="3.15" fill="#eed635"/><circle class="r" cx="390.7" cy="110.2" r="4.15"/>
<circle cx="390.7" cy="118.2" r="3.15" fill="#e8ad0d"/><circle class="r" cx="390.7" cy="118.2" r="4.15"/>
<circle cx="384.0" cy="129.0" r="3.15" fill="#e8ad0d"/><circle class="r" cx="384.0" cy="129.0" r="4.15"/>
<circle cx="332.6" cy="120.7" r="3.15" fill="#e39200"/><circle class="r" cx="332.6" cy="120.7" r="4.15"/>
<circle cx="335.1" cy="171.4" r="3.15" fill="#eee463"/><circle class="r" cx="335.1" cy="171.4" r="4.15"/>
<circle cx="340.6" cy="180.4" r="3.15" fill="#eed635"/><circle class="r" cx="340.6" cy="180.4" r="4.15"/>
<circle cx="363.9" cy="159.6" r="3.15" fill="#ecc828"/><circle class="r" cx="363.9" cy="159.6" r="4.15"/>
<circle cx="386.0" cy="162.1" r="3.15" fill="#e69f00"/><circle class="r" cx="386.0" cy="162.1" r="4.15"/>
<circle cx="373.4" cy="171.4" r="3.15" fill="#eed635"/><circle class="r" cx="373.4" cy="171.4" r="4.15"/>
<circle cx="370.9" cy="187.9" r="3.15" fill="#e8ad0d"/><circle class="r" cx="370.9" cy="187.9" r="4.15"/>
<circle cx="336.3" cy="198.4" r="3.15" fill="#eee463"/><circle class="r" cx="336.3" cy="198.4" r="4.15"/>
<circle cx="328.8" cy="205.4" r="3.15" fill="#eae5a4"/><circle class="r" cx="328.8" cy="205.4" r="4.15"/>
<circle cx="402.8" cy="194.7" r="3.15" fill="#eae5a4"/><circle class="r" cx="402.8" cy="194.7" r="4.15"/>
</g></g>
<rect x="28.5" y="28.5" width="485" height="642" fill="none" stroke="#000" stroke-width="1"/>
<line x1="34.50" y1="670.5" x2="34.50" y2="678" stroke="#000"/>
<text x="34.50" y="697" text-anchor="middle">-89</text>
<line x1="101.50" y1="670.5" x2="101.50" y2="678" stroke="#000"/>
<text x="101.50" y="697" text-anchor="middle">-87</text>
<line x1="168.00" y1="670.5" x2="168.00" y2="678" stroke="#000"/>
<text x="168.00" y="697" text-anchor="middle">-85</text>
<line x1="234.50" y1="670.5" x2="234.50" y2="678" stroke="#000"/>
<text x="234.50" y="697" text-anchor="middle">-83</text>
<line x1="300.50" y1="670.5" x2="300.50" y2="678" stroke="#000"/>
<text x="300.50" y="697" text-anchor="middle">-81</text>
<line x1="366.50" y1="670.5" x2="366.50" y2="678" stroke="#000"/>
<text x="366.50" y="697" text-anchor="middle">-79</text>
<line x1="432.50" y1="670.5" x2="432.50" y2="678" stroke="#000"/>
<text x="432.50" y="697" text-anchor="middle">-77</text>
<line x1="497.70" y1="670.5" x2="497.70" y2="678" stroke="#000"/>
<text x="497.70" y="697" text-anchor="middle">-75</text>
<line x1="21" y1="44.20" x2="28.5" y2="44.20" stroke="#000"/>
<text transform="translate(11.5,44.20) rotate(-90)" text-anchor="middle">40.5</text>
<line x1="21" y1="119.70" x2="28.5" y2="119.70" stroke="#000"/>
<text transform="translate(11.5,119.70) rotate(-90)" text-anchor="middle">38.5</text>
<line x1="21" y1="195.70" x2="28.5" y2="195.70" stroke="#000"/>
<text transform="translate(11.5,195.70) rotate(-90)" text-anchor="middle">36.5</text>
<line x1="21" y1="271.60" x2="28.5" y2="271.60" stroke="#000"/>
<text transform="translate(11.5,271.60) rotate(-90)" text-anchor="middle">34.5</text>
<line x1="21" y1="347.50" x2="28.5" y2="347.50" stroke="#000"/>
<text transform="translate(11.5,347.50) rotate(-90)" text-anchor="middle">32.5</text>
<line x1="21" y1="424.80" x2="28.5" y2="424.80" stroke="#000"/>
<text transform="translate(11.5,424.80) rotate(-90)" text-anchor="middle">30.5</text>
<line x1="21" y1="501.80" x2="28.5" y2="501.80" stroke="#000"/>
<text transform="translate(11.5,501.80) rotate(-90)" text-anchor="middle">28.5</text>
<line x1="21" y1="579.30" x2="28.5" y2="579.30" stroke="#000"/>
<text transform="translate(11.5,579.30) rotate(-90)" text-anchor="middle">26.5</text>
<line x1="21" y1="657.00" x2="28.5" y2="657.00" stroke="#000"/>
<text transform="translate(11.5,657.00) rotate(-90)" text-anchor="middle">24.5</text>
<circle cx="472.4" cy="656.5" r="2.7" fill="#000"/>
<text x="483.5" y="660.7">AQS</text>
<rect x="628.5" y="28.5" width="485" height="642" fill="none" stroke="#000" stroke-width="1"/>
<line x1="634.50" y1="670.5" x2="634.50" y2="678" stroke="#000"/>
<text x="634.50" y="697" text-anchor="middle">-89</text>
<line x1="701.50" y1="670.5" x2="701.50" y2="678" stroke="#000"/>
<text x="701.50" y="697" text-anchor="middle">-87</text>
<line x1="768.00" y1="670.5" x2="768.00" y2="678" stroke="#000"/>
<text x="768.00" y="697" text-anchor="middle">-85</text>
<line x1="834.50" y1="670.5" x2="834.50" y2="678" stroke="#000"/>
<text x="834.50" y="697" text-anchor="middle">-83</text>
<line x1="900.50" y1="670.5" x2="900.50" y2="678" stroke="#000"/>
<text x="900.50" y="697" text-anchor="middle">-81</text>
<line x1="966.50" y1="670.5" x2="966.50" y2="678" stroke="#000"/>
<text x="966.50" y="697" text-anchor="middle">-79</text>
<line x1="1032.50" y1="670.5" x2="1032.50" y2="678" stroke="#000"/>
<text x="1032.50" y="697" text-anchor="middle">-77</text>
<line x1="1097.70" y1="670.5" x2="1097.70" y2="678" stroke="#000"/>
<text x="1097.70" y="697" text-anchor="middle">-75</text>
<line x1="621" y1="44.20" x2="628.5" y2="44.20" stroke="#000"/>
<text transform="translate(611.5,44.20) rotate(-90)" text-anchor="middle">40.5</text>
<line x1="621" y1="119.70" x2="628.5" y2="119.70" stroke="#000"/>
<text transform="translate(611.5,119.70) rotate(-90)" text-anchor="middle">38.5</text>
<line x1="621" y1="195.70" x2="628.5" y2="195.70" stroke="#000"/>
<text transform="translate(611.5,195.70) rotate(-90)" text-anchor="middle">36.5</text>
<line x1="621" y1="271.60" x2="628.5" y2="271.60" stroke="#000"/>
<text transform="translate(611.5,271.60) rotate(-90)" text-anchor="middle">34.5</text>
<line x1="621" y1="347.50" x2="628.5" y2="347.50" stroke="#000"/>
<text transform="translate(611.5,347.50) rotate(-90)" text-anchor="middle">32.5</text>
<line x1="621" y1="424.80" x2="628.5" y2="424.80" stroke="#000"/>
<text transform="translate(611.5,424.80) rotate(-90)" text-anchor="middle">30.5</text>
<line x1="621" y1="501.80" x2="628.5" y2="501.80" stroke="#000"/>
<text transform="translate(611.5,501.80) rotate(-90)" text-anchor="middle">28.5</text>
<line x1="621" y1="579.30" x2="628.5" y2="579.30" stroke="#000"/>
<text transform="translate(611.5,579.30) rotate(-90)" text-anchor="middle">26.5</text>
<line x1="621" y1="657.00" x2="628.5" y2="657.00" stroke="#000"/>
<text transform="translate(611.5,657.00) rotate(-90)" text-anchor="middle">24.5</text>
<circle cx="1072.4" cy="656.5" r="2.7" fill="#000"/>
<text x="1083.5" y="660.7">AQS</text>
<g shape-rendering="crispEdges">
<rect x="546" y="622.80" width="7.3" height="15.50" fill="#e6e6e6"/>
<rect x="546" y="607.60" width="7.3" height="15.50" fill="#d3d3d3"/>
<rect x="546" y="592.40" width="7.3" height="15.50" fill="#c1c1c1"/>
<rect x="546" y="577.20" width="7.3" height="15.50" fill="#aeaeae"/>
<rect x="546" y="562.00" width="7.3" height="15.50" fill="#9b9b9b"/>
<rect x="546" y="546.80" width="7.3" height="15.50" fill="#8b9faa"/>
<rect x="546" y="531.60" width="7.3" height="15.50" fill="#7aa5be"/>
<rect x="546" y="516.40" width="7.3" height="15.50" fill="#6aacd1"/>
<rect x="546" y="501.20" width="7.3" height="15.50" fill="#5ab3e5"/>
<rect x="546" y="486.00" width="7.3" height="15.50" fill="#46a8df"/>
<rect x="546" y="470.80" width="7.3" height="15.50" fill="#3197d1"/>
<rect x="546" y="455.60" width="7.3" height="15.50" fill="#1c87c4"/>
<rect x="546" y="440.40" width="7.3" height="15.50" fill="#0777b6"/>
<rect x="546" y="425.20" width="7.3" height="15.50" fill="#0079a8"/>
<rect x="546" y="410.00" width="7.3" height="15.50" fill="#008498"/>
<rect x="546" y="394.80" width="7.3" height="15.50" fill="#008f89"/>
<rect x="546" y="379.60" width="7.3" height="15.50" fill="#00997a"/>
<rect x="546" y="364.40" width="7.3" height="15.50" fill="#20a76c"/>
<rect x="546" y="349.20" width="7.3" height="15.50" fill="#5bb860"/>
<rect x="546" y="334.00" width="7.3" height="15.50" fill="#95ca55"/>
<rect x="546" y="318.80" width="7.3" height="15.50" fill="#d0db49"/>
<rect x="546" y="303.60" width="7.3" height="15.50" fill="#efdd3b"/>
<rect x="546" y="288.40" width="7.3" height="15.50" fill="#eccc2b"/>
<rect x="546" y="273.20" width="7.3" height="15.50" fill="#eabb1b"/>
<rect x="546" y="258.00" width="7.3" height="15.50" fill="#e8aa0b"/>
<rect x="546" y="242.80" width="7.3" height="15.50" fill="#e59a00"/>
<rect x="546" y="227.60" width="7.3" height="15.50" fill="#e08a00"/>
<rect x="546" y="212.40" width="7.3" height="15.50" fill="#dc7a00"/>
<rect x="546" y="197.20" width="7.3" height="15.50" fill="#d86a00"/>
<rect x="546" y="182.00" width="7.3" height="15.50" fill="#d55f09"/>
<rect x="546" y="166.80" width="7.3" height="15.50" fill="#d26632"/>
<rect x="546" y="151.60" width="7.3" height="15.50" fill="#d06d5a"/>
<rect x="546" y="136.40" width="7.3" height="15.50" fill="#ce7383"/>
<rect x="546" y="121.20" width="7.3" height="15.50" fill="#cd76a2"/>
<rect x="546" y="106.00" width="7.3" height="15.50" fill="#da587a"/>
<rect x="546" y="90.80" width="7.3" height="15.50" fill="#e63b51"/>
<rect x="546" y="75.60" width="7.3" height="15.50" fill="#f31d29"/>
<rect x="546" y="60.40" width="7.3" height="15.50" fill="#ff0000"/>
</g>
<rect x="546" y="60.4" width="7.5" height="577.6" fill="none" stroke="#555" stroke-width="0.6"/>
<line x1="553.5" y1="60.4" x2="553.5" y2="638" stroke="#000" stroke-width="1"/>
<line x1="553.5" y1="631.00" x2="561" y2="631.00" stroke="#000"/>
<text x="568" y="635.30">0</text>
<line x1="553.5" y1="584.10" x2="561" y2="584.10" stroke="#000"/>
<text x="568" y="588.40">10</text>
<line x1="553.5" y1="537.20" x2="561" y2="537.20" stroke="#000"/>
<text x="568" y="541.50">20</text>
<line x1="553.5" y1="490.30" x2="561" y2="490.30" stroke="#000"/>
<text x="568" y="494.60">30</text>
<line x1="553.5" y1="443.40" x2="561" y2="443.40" stroke="#000"/>
<text x="568" y="447.70">40</text>
<line x1="553.5" y1="396.50" x2="561" y2="396.50" stroke="#000"/>
<text x="568" y="400.80">50</text>
<line x1="553.5" y1="349.60" x2="561" y2="349.60" stroke="#000"/>
<text x="568" y="353.90">60</text>
<line x1="553.5" y1="302.70" x2="561" y2="302.70" stroke="#000"/>
<text x="568" y="307.00">70</text>
<line x1="553.5" y1="255.80" x2="561" y2="255.80" stroke="#000"/>
<text x="568" y="260.10">80</text>
<line x1="553.5" y1="208.90" x2="561" y2="208.90" stroke="#000"/>
<text x="568" y="213.20">90</text>
<line x1="553.5" y1="162.00" x2="561" y2="162.00" stroke="#000"/>
<text x="568" y="166.30">100</text>
<line x1="553.5" y1="115.10" x2="561" y2="115.10" stroke="#000"/>
<text x="568" y="119.40">110</text>
<line x1="553.5" y1="68.20" x2="561" y2="68.20" stroke="#000"/>
<text x="568" y="72.50">120</text>
<text x="548.5" y="57" text-anchor="middle">ppbV</text>
<g shape-rendering="crispEdges">
<rect x="1146" y="628.93" width="7.3" height="9.77" fill="#68228b"/>
<rect x="1146" y="619.46" width="7.3" height="9.77" fill="#68228b"/>
<rect x="1146" y="609.99" width="7.3" height="9.77" fill="#73229f"/>
<rect x="1146" y="600.52" width="7.3" height="9.77" fill="#7e21b3"/>
<rect x="1146" y="591.05" width="7.3" height="9.77" fill="#8a21c8"/>
<rect x="1146" y="581.58" width="7.3" height="9.77" fill="#9520dc"/>
<rect x="1146" y="572.11" width="7.3" height="9.77" fill="#a020f0"/>
<rect x="1146" y="562.64" width="7.3" height="9.77" fill="#7825f4"/>
<rect x="1146" y="553.17" width="7.3" height="9.77" fill="#502af8"/>
<rect x="1146" y="543.70" width="7.3" height="9.77" fill="#282efb"/>
<rect x="1146" y="534.22" width="7.3" height="9.77" fill="#0033ff"/>
<rect x="1146" y="524.75" width="7.3" height="9.77" fill="#0040f0"/>
<rect x="1146" y="515.28" width="7.3" height="9.77" fill="#004ce0"/>
<rect x="1146" y="505.81" width="7.3" height="9.77" fill="#0059d1"/>
<rect x="1146" y="496.34" width="7.3" height="9.77" fill="#0065c1"/>
<rect x="1146" y="486.87" width="7.3" height="9.77" fill="#0072b2"/>
<rect x="1146" y="477.40" width="7.3" height="9.77" fill="#007ba5"/>
<rect x="1146" y="467.93" width="7.3" height="9.77" fill="#008499"/>
<rect x="1146" y="458.46" width="7.3" height="9.77" fill="#008c8c"/>
<rect x="1146" y="448.99" width="7.3" height="9.77" fill="#009580"/>
<rect x="1146" y="439.52" width="7.3" height="9.77" fill="#009e73"/>
<rect x="1146" y="430.05" width="7.3" height="9.77" fill="#19a775"/>
<rect x="1146" y="420.58" width="7.3" height="9.77" fill="#32b177"/>
<rect x="1146" y="411.11" width="7.3" height="9.77" fill="#4aba78"/>
<rect x="1146" y="401.64" width="7.3" height="9.77" fill="#63c47a"/>
<rect x="1146" y="392.17" width="7.3" height="9.77" fill="#7ccd7c"/>
<rect x="1146" y="382.70" width="7.3" height="9.77" fill="#91d291"/>
<rect x="1146" y="373.23" width="7.3" height="9.77" fill="#a6d7a6"/>
<rect x="1146" y="363.76" width="7.3" height="9.77" fill="#bcdcbc"/>
<rect x="1146" y="354.29" width="7.3" height="9.77" fill="#d1e1d1"/>
<rect x="1146" y="344.81" width="7.3" height="9.77" fill="#e6e6e6"/>
<rect x="1146" y="335.34" width="7.3" height="9.77" fill="#e8e6c5"/>
<rect x="1146" y="325.87" width="7.3" height="9.77" fill="#eae5a4"/>
<rect x="1146" y="316.40" width="7.3" height="9.77" fill="#ece584"/>
<rect x="1146" y="306.93" width="7.3" height="9.77" fill="#eee463"/>
<rect x="1146" y="297.46" width="7.3" height="9.77" fill="#f0e442"/>
<rect x="1146" y="287.99" width="7.3" height="9.77" fill="#eed635"/>
<rect x="1146" y="278.52" width="7.3" height="9.77" fill="#ecc828"/>
<rect x="1146" y="269.05" width="7.3" height="9.77" fill="#eabb1a"/>
<rect x="1146" y="259.58" width="7.3" height="9.77" fill="#e8ad0d"/>
<rect x="1146" y="250.11" width="7.3" height="9.77" fill="#e69f00"/>
<rect x="1146" y="240.64" width="7.3" height="9.77" fill="#e39200"/>
<rect x="1146" y="231.17" width="7.3" height="9.77" fill="#df8500"/>
<rect x="1146" y="221.70" width="7.3" height="9.77" fill="#dc7800"/>
<rect x="1146" y="212.23" width="7.3" height="9.77" fill="#d86b00"/>
<rect x="1146" y="202.76" width="7.3" height="9.77" fill="#d55e00"/>
<rect x="1146" y="193.29" width="7.3" height="9.77" fill="#d36321"/>
<rect x="1146" y="183.82" width="7.3" height="9.77" fill="#d16943"/>
<rect x="1146" y="174.35" width="7.3" height="9.77" fill="#d06e64"/>
<rect x="1146" y="164.88" width="7.3" height="9.77" fill="#ce7486"/>
<rect x="1146" y="155.40" width="7.3" height="9.77" fill="#cc79a7"/>
<rect x="1146" y="145.93" width="7.3" height="9.77" fill="#d95b7d"/>
<rect x="1146" y="136.46" width="7.3" height="9.77" fill="#e63c54"/>
<rect x="1146" y="126.99" width="7.3" height="9.77" fill="#f21e2a"/>
<rect x="1146" y="117.52" width="7.3" height="9.77" fill="#ff0000"/>
<rect x="1146" y="108.05" width="7.3" height="9.77" fill="#ed0808"/>
<rect x="1146" y="98.58" width="7.3" height="9.77" fill="#db1111"/>
<rect x="1146" y="89.11" width="7.3" height="9.77" fill="#c91919"/>
<rect x="1146" y="79.64" width="7.3" height="9.77" fill="#b72222"/>
<rect x="1146" y="70.17" width="7.3" height="9.77" fill="#a52a2a"/>
<rect x="1146" y="60.70" width="7.3" height="9.77" fill="#a52a2a"/>
</g>
<rect x="1146" y="60.7" width="7.5" height="577.7" fill="none" stroke="#555" stroke-width="0.6"/>
<line x1="1153.5" y1="60.7" x2="1153.5" y2="638.4" stroke="#000" stroke-width="1"/>
<line x1="1153.5" y1="65.40" x2="1161" y2="65.40" stroke="#000"/>
<text x="1168" y="69.70">120</text>
<line x1="1153.5" y1="160.10" x2="1161" y2="160.10" stroke="#000"/>
<text x="1168" y="164.40">20</text>
<line x1="1153.5" y1="254.80" x2="1161" y2="254.80" stroke="#000"/>
<text x="1168" y="259.10">10</text>
<line x1="1153.5" y1="349.50" x2="1161" y2="349.50" stroke="#000"/>
<text x="1168" y="353.80">0</text>
<line x1="1153.5" y1="444.20" x2="1161" y2="444.20" stroke="#000"/>
<text x="1168" y="448.50">-10</text>
<line x1="1153.5" y1="538.90" x2="1161" y2="538.90" stroke="#000"/>
<text x="1168" y="543.20">-20</text>
<line x1="1153.5" y1="633.60" x2="1161" y2="633.60" stroke="#000"/>
<text x="1168" y="637.90">-120</text>
<text x="1148.5" y="57" text-anchor="middle">ppbV</text>
<text x="271.25" y="718" text-anchor="middle">Domain size: 49x37 | Max Model = 62 at (42, 2)</text>
<text x="271.25" y="732.5" text-anchor="middle">Max Obs: 48</text>
<text x="871.25" y="718" text-anchor="middle">Bias Summary: [ min, 25th %, 50th %, 75th %, max ]</text>
<text x="822.6" y="732.5" textLength="139.4" lengthAdjust="spacing" xml:space="preserve">[ -8.7,   7.5,   12,   16,   32 ]</text>
</svg>
</body></html>
